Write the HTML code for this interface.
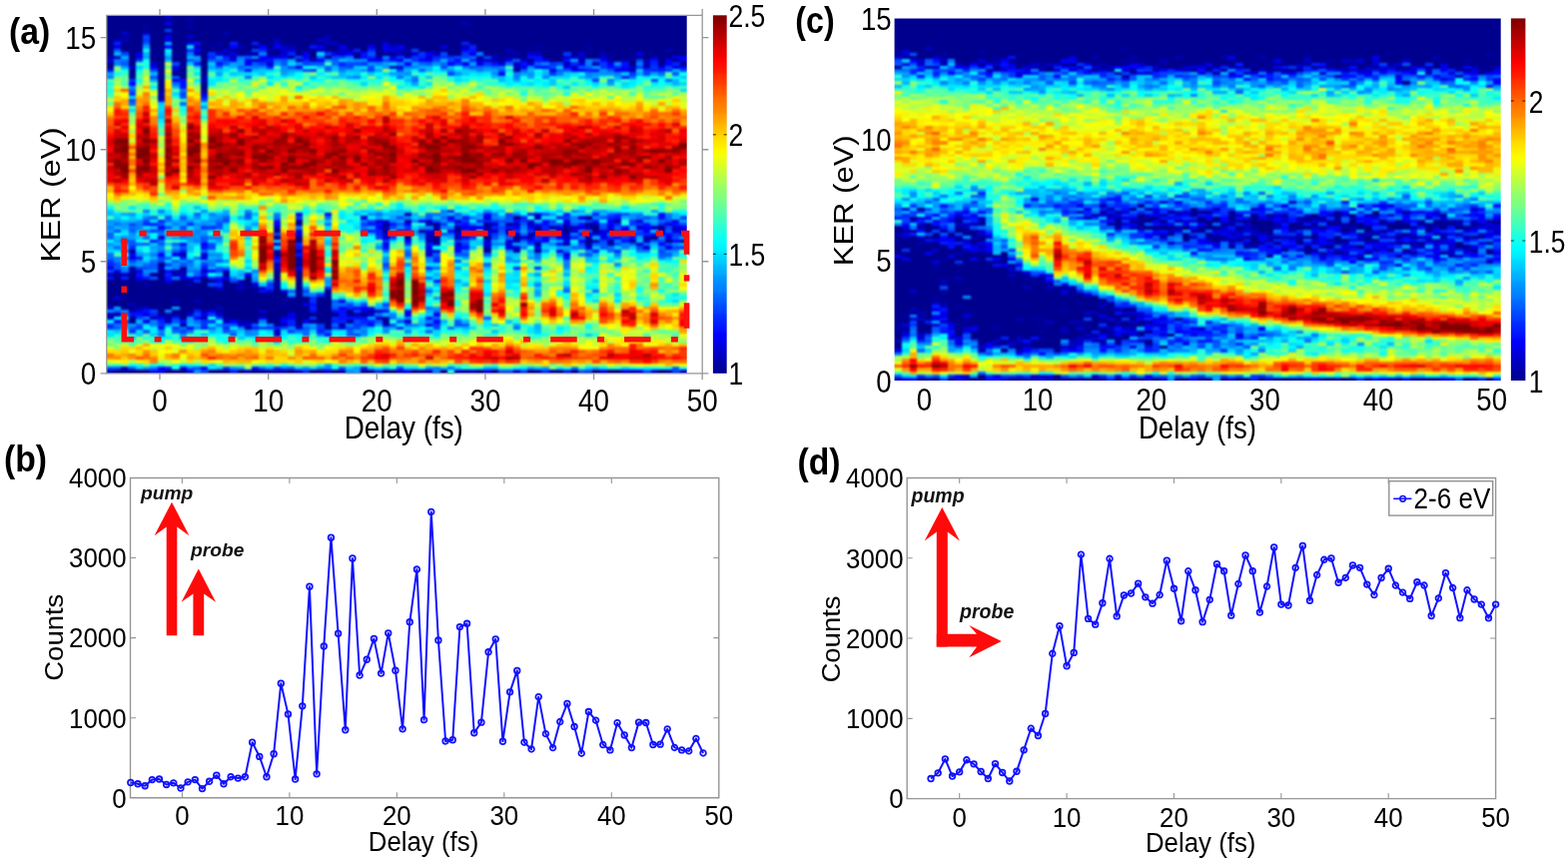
<!DOCTYPE html>
<html lang="en"><head><meta charset="utf-8"><title>KER versus delay</title>
<style>html,body{margin:0;padding:0;background:#fff;overflow:hidden}svg{display:block}text{font-family:'Liberation Sans', sans-serif}</style>
</head><body>
<svg width="1570" height="863" viewBox="0 0 1570 863" role="img" aria-label="KER versus pump-probe delay">
<rect width="1570" height="863" fill="#fff"/>
<defs><filter id="soft" x="-2%" y="-2%" width="104%" height="104%" color-interpolation-filters="sRGB"><feGaussianBlur stdDeviation="0.9 0.8"/><feComponentTransfer><feFuncA type="linear" slope="200"/></feComponentTransfer></filter></defs>
<clipPath id="hc1"><rect x="106.8" y="15.3" width="580.9" height="358.5"/></clipPath>
<g clip-path="url(#hc1)"><g filter="url(#soft)">
<g transform="translate(110.43,15.3) scale(7.2613,3.3505)" shape-rendering="crispEdges" fill="none" stroke-width="1.03">
<rect x="-0.5" y="0" width="80" height="107" fill="#00008f" stroke="none"/>
<path stroke="#00008f" d="M0 0v12M0 14v2M0 79v8M1 0v7M1 78v6M1 85v2M1 106v1M2 0v5M2 6v1M2 8v3M2 79v9M2 106v1M3 0v15M3 16v3M3 70v1M3 75v1M3 77v9M3 87v1M3 90v2M3 106v1M4 0v11M4 80v7M4 106v1M5 0v3M5 4v1M5 79v1M5 81v6M5 106v1M6 0v14M6 79v8M7 0v23M7 24v1M7 74v1M7 76v14M8 3v1M8 5v1M8 80v8M8 106v1M9 0v14M9 17v1M9 80v5M9 86v1M9 88v1M9 106v1M10 0v19M10 79v12M10 92v1M10 106v1M11 0v1M11 2v1M11 4v2M11 7v1M11 79v1M11 81v8M12 0v8M12 80v5M12 86v1M13 0v18M13 20v3M13 78v10M14 0v9M14 10v1M14 79v1M14 81v7M14 106v1M15 0v8M15 9v2M15 82v5M15 88v1M15 106v1M16 0v5M16 6v4M16 77v1M16 79v11M16 106v1M17 0v8M17 10v1M17 80v11M18 0v9M18 10v2M18 82v9M18 106v1M19 0v11M19 78v13M19 93v1M20 0v8M20 9v1M20 81v1M20 83v8M20 106v1M21 0v9M21 83v5M21 89v1M22 0v10M22 11v1M22 83v9M23 0v7M23 10v2M23 64v1M23 66v1M23 71v1M23 76v4M23 81v11M24 0v9M24 83v1M24 85v1M24 87v3M25 0v9M25 12v1M25 85v2M25 88v1M25 106v1M26 0v12M26 61v2M26 66v2M26 70v1M26 74v1M26 76v17M27 0v11M27 84v2M27 87v3M28 0v9M28 10v3M28 89v1M28 106v1M29 0v7M29 8v1M29 84v8M29 106v1M30 0v6M30 9v1M30 12v1M30 82v1M30 84v10M31 0v8M31 9v2M31 89v1M31 106v1M32 0v9M32 92v1M33 0v10M33 88v1M34 0v10M34 11v1M35 0v11M35 89v1M35 106v1M36 0v9M36 88v1M37 0v12M38 0v8M38 11v1M38 62v1M38 64v1M38 91v1M38 106v1M39 0v9M39 11v1M39 106v1M40 0v9M41 0v10M41 11v1M41 66v1M42 0v10M42 106v1M43 0v11M43 64v1M44 0v11M45 0v11M45 62v1M45 64v1M45 66v2M46 0v9M46 10v1M46 106v1M47 0v12M48 0v12M48 64v1M49 0v2M49 3v5M50 0v9M51 0v11M51 106v1M52 0v12M52 62v1M52 66v1M52 70v1M53 0v12M53 106v1M54 0v12M55 0v10M55 11v1M55 64v1M56 0v11M56 12v1M56 16v1M56 60v1M56 66v1M57 0v13M58 0v11M58 13v1M58 106v1M59 0v9M59 10v1M59 64v2M59 68v1M59 70v1M60 0v13M61 0v14M62 0v14M62 106v1M63 0v11M63 64v1M64 0v12M64 106v1M65 0v11M66 0v9M66 10v3M66 62v1M66 67v1M67 0v13M67 63v2M67 106v1M68 0v11M69 0v12M69 13v1M69 106v1M70 0v14M70 61v1M70 106v1M71 0v13M72 0v12M72 13v2M73 0v11M73 12v1M74 0v13M75 0v12M75 66v1M76 0v15M76 63v1M76 106v1M77 0v10M77 11v2M77 67v1M78 0v12M78 13v1M79 0v12M79 14v1M79 67v1"/>
<path stroke="#0000a2" d="M0 12v1M1 77v1M4 79v1M5 3v1M5 80v1M6 77v1M6 87v1M8 1v1M8 90v1M9 79v1M9 89v1M10 75v2M11 3v1M11 80v1M12 87v1M14 9v1M16 90v1M19 91v1M20 11v1M20 82v1M20 91v1M21 106v1M23 80v1M23 92v1M24 84v1M24 86v1M25 87v1M26 72v2M27 90v1M28 91v1M30 7v1M30 10v1M30 83v1M33 89v1M33 91v1M34 12v1M36 106v1M41 10v1M41 59v1M41 61v1M44 62v1M44 67v1M48 63v1M51 12v1M53 13v1M54 12v2M55 62v1M56 70v1M58 65v1M59 9v1M59 63v1M63 63v1M63 68v1M65 13v1M66 9v1M66 60v1M66 68v1M69 64v1M69 68v1M72 12v1M72 67v1M79 65v1"/>
<path stroke="#0000b4" d="M0 77v1M0 89v1M1 12v1M1 89v1M3 86v1M3 88v1M4 87v1M6 90v1M7 23v1M8 89v1M9 76v2M9 85v1M10 71v1M11 1v1M12 9v1M12 11v1M12 85v1M13 18v2M13 88v1M13 90v1M15 8v1M16 5v1M16 11v1M18 9v1M18 79v2M18 91v1M19 11v1M22 10v1M22 106v1M23 70v1M23 74v1M23 94v1M23 106v1M24 92v1M24 106v1M25 9v1M25 84v1M26 13v1M30 6v1M32 106v1M33 10v1M34 89v1M37 12v1M38 63v1M38 65v1M38 90v1M39 15v1M40 11v1M44 65v1M44 106v1M45 11v1M45 63v1M45 68v1M48 66v1M48 68v1M49 2v1M49 9v1M49 106v1M52 63v1M52 69v1M53 64v1M55 12v1M56 11v1M56 14v1M56 62v1M58 62v1M59 60v1M59 106v1M61 63v1M62 65v1M63 14v1M63 65v1M66 63v1M66 66v1M67 14v1M67 62v1M67 67v1M68 11v1M69 12v1M69 67v1M71 13v1M72 16v1M74 13v2M74 66v1M75 12v1M77 10v1M77 106v1"/>
<path stroke="#0000c6" d="M0 90v1M0 106v1M1 7v1M2 7v1M2 77v1M2 105v1M3 15v1M3 76v1M4 76v1M5 5v1M6 14v1M7 75v1M8 0v1M8 91v1M9 16v1M10 77v1M11 6v1M13 76v1M15 87v1M16 91v1M17 12v1M18 81v1M18 92v1M20 13v1M21 81v1M23 7v2M23 63v1M23 68v1M24 9v1M24 11v1M26 106v1M28 13v1M29 10v1M30 8v1M31 8v1M32 10v2M37 88v1M37 90v1M38 92v1M39 9v1M40 10v1M42 11v1M43 106v1M44 12v1M44 66v1M44 71v1M45 65v1M48 106v1M49 65v1M51 13v1M52 13v1M53 62v1M55 10v1M56 65v1M56 67v1M57 13v1M58 66v1M59 11v1M61 106v1M62 64v1M63 62v1M63 66v1M64 15v1M64 63v1M65 12v1M68 12v1M72 15v1M72 106v1M73 68v1M74 15v1M74 67v1M75 63v1M76 64v1M78 64v1"/>
<path stroke="#0000d8" d="M0 87v1M1 76v1M2 5v1M3 72v1M4 11v1M5 87v1M7 66v1M8 7v1M9 15v1M10 78v1M10 105v1M11 89v1M13 23v1M13 71v2M15 11v1M15 89v1M16 10v1M16 76v1M17 11v1M19 106v1M20 80v1M21 88v1M22 14v1M22 82v1M23 75v1M23 95v1M24 10v1M24 82v1M24 90v1M25 10v1M26 64v1M27 86v1M29 7v1M32 85v1M35 60v1M36 89v1M37 61v1M38 8v1M38 66v1M40 15v1M40 106v1M41 12v1M41 91v1M44 61v1M44 70v1M45 70v1M46 9v1M48 61v1M48 65v1M50 106v1M52 60v1M52 64v1M52 67v1M53 12v1M54 14v1M55 67v3M56 15v1M56 69v1M56 106v1M57 66v1M58 11v1M58 14v1M61 16v1M61 65v1M62 63v1M63 12v1M64 12v1M64 64v1M65 11v1M66 65v1M66 69v1M67 65v1M68 64v1M73 61v1M73 63v1M74 69v1M75 106v1M77 62v1M78 15v1M78 63v1M79 106v1"/>
<path stroke="#0000eb" d="M0 13v1M0 75v1M1 9v1M1 84v1M4 12v1M4 88v1M5 89v1M5 91v1M6 15v1M7 25v1M7 105v1M8 6v1M9 19v1M9 71v1M11 8v1M12 78v1M13 89v1M13 105v1M14 88v1M15 79v1M15 81v1M16 78v1M17 13v1M19 14v1M19 77v1M19 92v1M21 13v1M21 90v1M22 12v1M25 89v2M26 15v1M26 59v1M26 65v1M26 93v1M27 11v1M27 91v1M29 9v1M30 59v1M30 106v1M31 11v1M32 9v1M32 93v1M35 88v1M36 9v1M36 13v1M38 9v2M38 61v1M38 68v1M39 10v1M39 12v1M40 9v1M40 13v1M40 64v1M41 88v2M43 61v1M44 64v1M44 69v1M44 92v1M45 89v1M47 60v1M47 64v1M49 14v1M50 11v1M50 63v1M51 14v1M52 68v1M55 13v1M57 15v1M58 61v1M59 59v1M59 69v1M62 70v1M63 61v1M63 67v1M63 71v1M65 14v1M65 60v1M65 63v1M68 65v2M68 106v1M69 63v1M70 16v1M71 16v1M71 106v1M73 11v1M76 15v1M77 66v1M77 69v1M78 61v1M79 13v1M79 63v1"/>
<path stroke="#0000fd" d="M3 20v1M3 71v1M4 78v1M7 63v1M7 71v1M7 90v1M7 106v1M8 2v1M8 76v1M8 79v1M10 68v1M11 78v1M11 93v1M11 106v1M12 10v1M12 90v1M13 68v1M14 76v1M17 9v1M17 91v1M19 13v1M21 9v1M21 12v1M23 9v1M23 12v1M23 62v1M23 72v1M24 12v1M24 91v1M26 75v1M27 12v1M29 13v1M32 87v1M33 11v1M34 87v1M35 87v1M36 92v1M37 13v1M37 63v1M41 14v1M41 62v1M41 67v1M41 106v1M43 13v1M44 11v1M44 13v1M45 91v1M47 14v1M48 13v1M48 69v2M49 10v1M49 63v1M51 63v1M52 65v1M52 106v1M54 17v1M56 63v1M58 63v1M60 13v1M60 15v1M60 61v1M60 66v2M62 66v1M63 15v1M64 16v1M65 16v1M65 67v1M68 13v1M69 14v1M69 61v2M71 15v1M71 63v2M73 106v1M74 63v2M76 59v1M76 65v1M76 68v1M77 13v2M78 12v1M78 67v1M79 12v1M79 15v1M79 64v1"/>
<path stroke="#0010ff" d="M0 16v1M0 78v1M1 91v1M3 89v1M4 72v1M4 77v1M4 89v1M5 78v1M5 88v1M6 62v1M6 67v1M6 106v1M7 93v1M8 9v1M8 78v1M10 19v3M10 70v1M10 91v1M12 8v1M13 24v1M13 69v1M13 75v1M13 77v1M15 14v1M15 78v1M19 16v1M20 105v1M21 82v1M22 13v1M23 61v1M26 69v1M26 71v1M28 9v1M28 86v1M28 88v1M30 95v1M31 88v1M32 88v3M33 90v1M34 90v1M35 11v2M35 90v1M36 62v1M36 64v1M36 87v1M37 62v1M38 69v1M38 88v1M39 13v1M39 62v1M41 65v1M44 68v1M44 90v1M45 79v1M49 62v1M49 66v1M49 69v1M50 10v1M50 64v1M52 59v1M53 14v1M55 63v1M55 65v1M56 61v1M57 14v1M58 12v1M58 67v1M59 12v2M59 15v1M59 62v1M59 67v1M60 62v1M60 64v1M62 68v1M63 13v1M63 72v1M65 62v1M65 65v1M67 16v1M67 61v1M67 70v1M69 15v1M70 60v1M70 66v1M71 14v1M71 18v1M71 67v1M72 66v1M74 62v1M75 13v1M75 65v1M76 60v1M77 65v1M78 62v1"/>
<path stroke="#0022ff" d="M0 74v1M0 92v1M1 8v1M2 78v1M3 69v1M5 62v1M6 89v1M7 61v1M7 91v1M8 77v1M8 105v1M9 90v1M10 72v1M11 10v1M11 62v1M12 14v1M12 88v1M13 93v1M14 12v1M14 78v1M16 12v1M16 93v1M17 8v1M17 106v1M20 8v1M20 93v1M21 10v1M22 15v1M23 73v1M23 93v1M25 11v1M25 91v2M26 68v1M27 13v1M28 84v1M28 87v1M29 94v1M30 81v1M31 90v2M32 14v1M32 91v1M33 87v1M34 10v1M35 91v1M35 105v1M36 10v1M36 12v1M36 91v1M37 64v2M40 93v1M41 64v1M43 12v1M44 75v1M45 12v1M45 73v1M48 62v1M49 8v1M49 60v1M50 9v1M50 13v1M50 65v1M51 61v1M52 61v1M53 63v1M56 75v1M57 60v1M58 59v1M59 75v1M60 63v1M63 59v1M63 106v1M64 14v1M64 66v1M66 16v1M67 59v1M69 60v1M69 66v1M70 15v1M70 62v1M70 70v1M74 65v1M75 14v1M75 16v1M76 16v1M76 62v1M78 14v1"/>
<path stroke="#0035ff" d="M0 73v1M0 93v1M3 19v1M3 23v1M3 94v1M4 13v1M4 93v1M5 7v1M6 64v1M7 92v1M9 93v1M12 79v1M13 63v1M13 74v1M13 91v2M14 11v1M14 63v1M14 89v1M14 91v1M15 80v1M15 90v1M16 13v1M16 105v1M21 14v1M21 93v1M22 80v2M22 93v1M23 105v1M26 60v1M27 106v1M28 16v1M28 85v1M28 90v1M29 83v1M29 92v2M30 11v1M31 93v1M34 92v1M35 14v1M35 62v1M36 61v1M37 66v1M37 106v1M38 67v1M39 66v1M40 12v1M41 63v1M41 68v1M42 12v2M43 11v1M45 72v1M45 92v1M46 12v1M46 62v1M47 12v1M47 58v1M47 61v1M48 14v1M48 67v1M49 11v1M49 61v1M49 64v1M49 68v1M50 66v1M52 14v1M53 61v1M53 65v1M56 64v1M57 61v1M58 64v1M59 66v1M60 106v1M61 14v1M61 17v1M62 60v1M63 11v1M63 60v1M67 19v1M68 14v2M70 59v1M70 64v1M71 66v1M72 17v1M72 61v2M72 65v1M73 15v1M73 62v1M73 65v1M74 16v1M75 15v1M77 16v1M78 65v1"/>
<path stroke="#0047ff" d="M0 76v1M1 64v1M1 74v1M2 11v1M3 25v1M3 62v1M3 73v1M4 75v1M4 90v1M5 6v1M5 61v1M5 75v1M6 16v1M6 18v1M6 88v1M7 72v2M8 4v1M8 74v1M9 14v1M10 23v1M10 63v1M10 94v1M12 89v1M12 105v1M13 25v1M13 67v1M13 106v1M14 68v2M14 80v1M15 62v1M15 76v1M16 61v1M17 79v1M20 10v1M23 65v1M24 93v1M25 15v1M25 94v1M26 12v1M27 14v1M27 16v1M27 82v1M31 12v1M32 12v1M33 14v2M33 86v1M33 93v1M34 14v1M34 88v1M34 91v1M34 93v1M34 95v1M35 64v1M35 86v1M35 92v1M36 15v2M38 13v1M38 74v1M38 86v1M39 63v1M39 65v1M39 92v1M40 16v1M40 105v1M42 10v1M45 13v1M45 61v1M45 93v1M46 11v1M46 15v1M46 65v1M47 13v1M47 17v1M48 12v1M48 92v1M49 12v1M50 15v1M52 12v1M53 66v1M54 61v1M54 63v1M55 59v2M57 106v1M58 68v1M60 59v1M61 15v1M61 61v1M62 14v1M65 68v1M66 61v1M66 106v1M68 63v1M68 67v1M70 68v1M71 59v1M71 65v1M73 13v1M73 64v1M73 69v1M74 17v1M75 19v1M76 67v1M76 70v1M77 15v1M77 61v1M77 63v1M77 68v1M78 66v1M78 69v1M78 106v1M79 16v1M79 60v1M79 62v1M79 69v1"/>
<path stroke="#0059ff" d="M0 65v1M0 105v1M1 10v1M1 75v1M1 88v1M1 93v1M1 105v1M2 14v1M2 67v1M2 91v1M3 22v1M3 64v1M3 67v2M3 93v1M3 105v1M4 68v1M4 92v1M5 8v1M5 68v1M5 94v1M6 74v2M6 78v1M7 62v1M7 64v1M7 68v1M8 60v1M8 63v1M8 72v1M9 18v1M9 68v1M9 70v1M9 73v1M9 91v1M10 24v1M10 60v1M10 65v1M10 69v1M10 74v1M11 13v1M11 73v1M12 59v1M12 77v1M13 66v1M14 13v1M15 13v1M15 63v1M15 73v1M15 75v1M16 14v1M16 60v1M16 92v1M16 94v1M17 92v1M17 95v1M18 15v1M19 12v1M19 59v2M20 14v1M20 92v1M24 13v2M25 82v1M25 105v1M27 93v1M28 14v1M29 12v1M29 14v1M30 15v1M30 94v1M31 13v1M31 85v1M31 87v1M32 15v1M32 105v1M33 94v2M36 11v1M37 91v1M40 60v1M40 62v1M40 91v1M41 71v1M43 16v1M44 14v1M44 60v1M44 82v1M45 71v1M48 59v1M48 71v1M48 73v1M48 91v1M49 67v1M49 71v1M49 92v1M51 65v1M52 71v1M52 90v1M54 16v1M54 64v1M54 106v1M55 61v1M55 66v1M55 106v1M56 13v1M57 16v1M57 62v1M59 14v1M61 62v1M61 66v1M62 16v1M62 62v1M63 16v1M63 82v1M64 62v1M65 15v1M65 106v1M66 15v1M66 64v1M66 71v1M67 13v1M67 68v1M68 60v1M68 62v1M68 68v2M69 16v1M69 59v1M70 63v1M72 68v1M74 60v1M74 106v1M75 67v1M76 71v1M77 64v1M77 71v1M78 17v1M78 105v1"/>
<path stroke="#006cff" d="M0 66v1M0 71v2M1 62v1M1 69v1M2 13v1M2 89v1M3 26v1M3 63v1M5 64v1M5 66v1M5 74v1M5 77v1M6 60v1M6 73v1M7 67v1M7 70v1M7 95v1M9 20v1M9 94v1M10 26v1M10 93v1M11 65v1M11 105v1M12 72v1M12 76v1M12 91v1M13 70v1M14 93v1M15 15v1M15 61v1M15 92v1M16 75v1M17 78v1M18 12v1M19 18v1M19 64v1M21 105v1M23 13v1M23 60v1M24 105v1M26 63v1M27 83v1M27 94v2M30 16v1M30 60v1M30 62v1M31 14v1M31 86v1M31 92v1M32 86v1M35 63v1M37 59v1M37 89v1M38 70v1M38 75v1M40 18v1M41 70v1M41 92v1M42 19v1M43 14v1M43 65v1M44 59v1M44 78v1M44 87v1M44 94v1M45 59v1M45 75v1M45 88v1M45 90v1M46 14v1M46 60v1M47 65v1M47 93v1M47 105v1M50 12v1M50 62v1M51 15v1M52 74v1M53 15v1M53 59v1M54 62v1M54 65v1M55 14v1M56 93v1M57 65v1M57 67v1M59 71v1M60 65v1M63 70v1M64 69v1M65 66v1M65 69v1M67 82v1M69 69v2M72 18v1M73 60v1M74 68v1M76 17v1M76 61v1M76 69v1M77 19v1M77 60v1"/>
<path stroke="#007eff" d="M0 18v1M0 63v1M1 13v2M1 72v2M1 92v1M2 70v1M2 72v1M2 75v2M2 88v1M2 92v1M3 74v1M4 62v2M5 58v1M5 60v1M5 90v1M6 71v1M6 91v2M6 105v1M7 58v1M7 65v1M7 94v1M8 61v1M8 92v1M9 62v1M9 75v1M9 78v1M10 22v1M10 64v1M10 66v1M11 11v1M11 74v1M11 76v1M11 94v1M12 13v1M12 64v1M12 67v1M12 93v1M14 59v1M14 66v1M14 73v2M15 66v1M17 94v1M18 93v1M19 94v1M20 15v1M20 76v1M20 79v1M21 11v1M21 91v1M22 92v1M23 59v1M25 93v1M26 94v1M28 83v1M28 93v1M29 95v1M30 105v1M32 16v1M33 12v1M33 92v1M34 18v1M35 61v1M35 94v1M37 14v1M38 12v1M38 87v1M39 61v1M39 89v2M40 14v1M41 15v1M41 60v1M41 90v1M42 15v1M42 18v1M42 61v1M42 92v1M44 63v1M44 72v1M44 91v1M45 105v2M46 58v1M46 63v1M47 63v1M48 60v1M49 15v1M49 70v1M50 60v1M51 11v1M51 16v1M52 15v1M53 60v1M53 68v1M54 15v1M54 68v1M56 17v2M56 59v1M57 63v1M57 69v1M59 72v1M59 80v1M60 14v1M60 18v1M61 68v1M62 17v1M63 73v2M64 60v2M64 65v1M64 105v1M65 64v1M66 13v2M66 17v1M67 60v1M69 19v1M69 65v1M70 17v1M70 67v1M70 71v1M71 68v2M72 64v1M73 14v1M73 59v1M73 70v1M74 70v1M75 60v1M76 66v1M76 72v1M77 59v1"/>
<path stroke="#0090ff" d="M0 61v1M0 68v1M0 88v1M2 62v1M2 66v1M2 68v1M3 21v1M3 59v1M3 65v1M4 61v1M4 71v1M4 73v1M5 76v1M6 76v1M7 69v1M8 12v1M8 88v1M9 74v1M10 61v1M10 73v1M10 95v2M11 61v1M11 66v1M11 75v1M11 90v1M12 60v1M12 62v1M12 65v2M12 106v1M13 27v1M13 58v1M13 62v1M13 65v1M13 73v1M14 61v1M14 71v1M15 12v1M15 60v1M15 71v1M16 73v1M17 105v1M18 13v2M18 16v1M19 15v1M19 58v1M19 95v1M20 12v1M20 62v1M20 94v2M21 15v1M22 79v1M23 14v1M24 15v2M26 14v1M27 81v1M27 92v1M27 105v1M29 105v1M30 13v1M30 79v1M33 18v1M33 106v1M34 13v1M35 13v1M35 16v1M35 65v1M35 93v1M35 95v1M36 14v1M36 59v1M37 69v1M38 15v1M38 72v2M38 93v2M40 63v1M41 13v1M41 17v1M41 74v1M41 94v1M42 64v1M43 63v1M43 66v1M44 73v1M44 105v1M45 14v1M45 84v1M46 59v1M46 61v1M47 16v1M48 17v1M48 75v1M51 59v1M52 58v1M53 17v1M54 60v1M55 70v1M55 72v1M56 73v1M58 15v1M58 17v1M60 70v1M61 59v1M62 71v1M63 75v1M63 81v1M64 58v1M65 61v1M65 71v1M66 18v1M66 70v1M67 17v1M68 16v2M69 17v1M70 14v1M70 65v1M70 74v1M72 59v2M75 62v1M77 70v1M78 68v1M78 70v1M79 66v1"/>
<path stroke="#00a2ff" d="M0 17v1M0 62v1M0 64v1M1 61v1M1 67v1M1 87v1M2 15v1M2 59v1M2 63v1M3 66v1M3 92v1M4 74v1M5 9v1M5 12v1M5 105v1M6 19v1M6 69v1M9 61v1M9 66v1M9 69v1M9 87v1M10 62v1M11 67v1M11 91v1M12 12v1M12 63v1M12 75v1M12 92v1M13 61v1M13 64v1M14 15v1M14 60v1M14 62v1M14 75v1M15 17v1M15 67v1M15 72v1M16 59v1M17 14v1M18 77v1M18 105v1M19 63v1M20 78v1M22 105v1M24 17v1M25 13v1M25 16v1M25 83v1M26 16v1M28 92v1M30 65v1M30 80v1M30 104v1M33 13v1M34 86v1M34 94v1M34 105v2M36 63v1M36 90v1M37 16v1M37 60v1M37 87v1M37 92v1M38 14v1M39 17v1M39 60v1M39 93v1M40 17v1M40 61v1M42 14v1M42 20v1M42 65v1M43 92v1M44 76v1M45 87v1M47 66v1M48 79v1M49 72v1M50 14v1M51 60v1M51 62v1M52 16v1M53 16v1M53 67v1M54 66v1M55 73v1M56 19v1M56 68v1M56 92v1M57 17v1M57 64v1M57 68v1M58 18v1M58 70v1M58 72v1M58 105v1M59 77v1M59 82v2M60 105v1M62 67v1M62 69v1M63 69v1M64 13v1M67 15v1M67 18v1M67 58v1M67 66v1M68 58v1M69 20v1M70 18v1M72 63v1M73 17v1M73 66v1M74 61v1M75 17v1M75 58v1M79 61v1"/>
<path stroke="#00b5ff" d="M0 59v1M0 69v1M1 11v1M1 63v1M1 66v1M2 12v1M2 61v1M2 93v1M3 61v1M4 64v1M4 91v1M5 11v1M5 65v1M5 71v1M6 17v1M6 63v1M6 70v1M6 72v1M7 30v1M8 8v1M8 13v1M8 75v1M9 21v1M9 63v2M9 92v1M11 12v1M11 64v1M11 69v1M11 92v1M13 95v1M14 72v1M14 94v1M15 59v1M16 58v1M17 15v1M18 60v1M20 16v1M20 59v1M20 77v1M23 96v1M30 78v1M31 15v1M32 17v1M33 16v1M34 16v1M34 59v1M36 65v1M38 59v1M38 89v1M39 59v1M40 58v2M41 16v1M41 19v1M41 69v1M41 72v1M42 59v1M43 15v1M43 60v1M43 91v1M44 15v2M44 88v1M45 60v1M45 77v1M45 80v1M46 13v1M46 16v1M46 91v1M49 13v1M49 80v1M49 91v1M49 93v1M50 16v1M50 69v1M52 105v1M53 105v1M54 19v1M58 16v1M59 73v1M59 92v2M60 17v1M60 68v1M61 64v1M63 77v1M65 18v1M65 58v1M66 72v1M67 69v1M67 71v1M67 105v1M68 59v1M71 60v1M73 67v1M75 61v1M75 68v1M77 72v1M78 16v1M78 19v2M78 59v2M78 71v1M79 68v1"/>
<path stroke="#00c7ff" d="M0 58v1M1 60v1M1 68v1M1 94v1M2 69v1M2 74v1M3 60v1M3 96v1M4 15v1M4 66v1M4 70v1M4 95v1M4 105v1M5 73v1M6 68v1M6 95v1M7 26v1M7 29v1M7 59v1M8 62v1M8 65v2M8 68v1M8 70v1M10 59v1M11 14v1M11 60v1M11 68v1M11 70v1M11 77v1M11 96v1M12 57v1M12 61v1M12 68v1M12 74v1M14 14v1M14 70v1M15 16v1M15 77v1M15 93v1M15 105v1M16 62v1M16 64v1M17 17v1M18 76v1M18 78v1M18 94v1M18 96v1M19 75v1M21 16v2M21 80v1M21 92v1M22 16v1M23 67v1M23 69v1M23 97v1M25 17v1M26 105v1M28 18v1M29 15v1M30 61v1M30 64v1M30 67v2M31 16v1M31 18v1M32 13v1M32 18v1M32 84v1M33 85v1M33 105v1M34 15v1M34 17v1M35 58v1M36 17v1M36 93v1M36 105v1M37 58v1M37 68v1M37 86v1M38 76v1M38 105v1M39 14v1M39 58v1M41 58v1M41 93v1M42 60v1M44 18v1M44 81v1M44 83v1M44 89v1M46 66v1M46 105v1M47 15v1M47 59v1M49 16v2M49 59v1M50 67v1M51 67v2M52 75v1M52 79v1M53 18v1M53 69v1M53 92v1M53 94v1M54 18v1M54 58v1M54 67v1M55 71v1M55 91v1M56 71v1M56 79v1M58 71v1M59 61v1M59 94v1M59 105v1M60 16v1M60 69v1M61 19v2M61 67v1M62 15v1M62 58v1M63 17v1M63 21v1M64 68v1M66 59v1M66 73v1M66 95v1M67 73v1M70 69v1M70 72v1M71 17v1M72 69v1M73 16v1M75 64v1M79 18v1"/>
<path stroke="#00d9ff" d="M0 70v1M0 95v1M1 59v1M2 64v1M2 73v1M3 24v1M3 28v1M4 65v1M4 94v1M5 59v1M5 63v1M5 92v1M7 27v2M8 11v1M8 59v1M8 71v1M8 73v1M9 23v1M11 9v1M11 63v1M11 72v1M12 15v1M12 73v1M13 59v1M14 16v1M14 64v1M14 67v1M14 104v1M15 68v1M15 94v1M16 15v2M16 63v1M17 77v1M18 17v1M19 17v1M19 62v1M19 66v1M19 73v1M20 61v1M22 18v1M22 94v1M24 94v1M25 14v1M28 94v1M28 105v1M29 11v1M30 63v1M30 76v1M33 17v1M33 61v1M34 63v1M35 15v1M35 20v1M35 85v1M36 58v1M37 15v1M37 18v1M38 17v1M38 60v1M38 71v1M39 67v1M40 90v1M41 18v1M41 105v1M42 63v1M42 93v1M42 105v1M43 67v1M43 90v1M44 74v1M44 93v1M45 74v1M45 78v1M45 82v1M45 94v2M46 67v1M47 62v1M48 16v1M48 19v1M48 90v1M48 93v1M48 105v1M49 74v1M50 58v1M50 68v1M50 93v1M51 17v1M52 83v1M53 58v1M55 16v1M55 79v1M56 72v1M56 76v2M58 20v1M59 81v1M60 60v1M61 60v1M61 69v1M62 18v1M63 18v1M63 76v1M63 80v1M64 17v1M64 59v1M65 59v1M66 83v1M66 105v1M67 20v1M67 72v1M67 79v1M67 85v1M69 58v1M69 73v1M70 19v1M70 83v1M70 85v1M71 20v1M71 105v1M75 69v1M76 18v1M78 85v1M79 20v1M79 22v1"/>
<path stroke="#00ebff" d="M0 91v1M0 94v1M1 70v1M1 90v1M2 65v1M3 57v1M4 60v1M4 69v1M5 72v1M6 21v1M6 61v1M6 66v1M6 93v2M7 31v1M8 58v1M8 64v1M8 96v1M9 60v1M10 104v1M12 17v1M12 19v1M13 26v1M13 60v1M14 19v2M14 92v1M14 105v1M15 18v2M15 74v1M17 76v1M17 93v1M18 95v1M19 61v1M20 17v1M20 63v1M22 20v1M23 16v1M24 18v1M24 81v1M24 95v1M26 21v1M29 17v1M29 58v1M30 18v1M31 94v1M32 59v2M32 94v2M33 96v1M34 58v1M34 62v1M35 18v1M35 59v1M35 67v1M36 60v1M36 94v1M37 105v1M38 78v1M39 64v1M40 21v1M40 56v2M41 20v1M41 76v1M42 16v1M43 21v1M43 94v1M44 20v1M44 77v1M44 79v1M45 16v1M45 76v1M46 57v1M46 92v1M48 18v1M48 57v1M48 72v1M48 76v1M48 80v1M49 19v1M49 77v1M49 94v1M50 17v1M50 61v1M52 17v1M52 72v1M52 76v1M52 91v2M55 18v3M55 77v2M55 80v2M56 58v1M56 78v1M56 81v1M57 20v1M57 105v1M58 77v1M58 93v2M59 17v1M59 19v1M59 79v1M60 20v1M60 58v1M61 18v1M62 72v1M62 93v1M62 105v1M63 79v1M64 20v1M64 70v1M66 19v1M66 75v1M66 81v1M67 81v1M68 105v1M69 72v1M70 58v1M71 21v1M71 57v1M72 19v2M73 71v2M74 18v1M74 71v1M75 20v1M77 20v1M77 73v1M78 83v1M79 59v1"/>
<path stroke="#00feff" d="M0 57v1M0 67v1M2 60v1M2 90v1M3 104v1M4 16v1M4 59v1M4 67v1M5 93v1M6 65v1M7 96v1M8 10v1M8 93v1M9 72v1M10 28v1M10 58v1M10 67v1M11 59v1M11 71v1M11 104v1M13 30v1M14 77v1M14 95v1M15 91v1M15 95v2M16 19v1M16 71v1M16 74v1M18 61v1M19 74v1M20 60v1M20 96v1M21 94v2M23 18v1M24 80v1M24 96v1M24 104v1M26 17v2M26 95v1M27 15v1M27 20v1M27 58v1M28 19v1M29 19v1M30 75v1M31 105v1M32 58v1M32 63v1M33 62v1M33 64v1M34 61v1M34 85v1M35 66v1M36 66v2M37 17v1M37 56v1M37 94v1M38 58v1M38 85v1M39 16v1M39 18v1M40 66v1M40 92v1M41 75v1M41 87v1M43 17v1M43 57v1M43 93v1M44 86v1M45 15v1M45 57v1M45 69v1M45 81v1M46 69v1M47 68v1M48 74v1M48 81v1M49 76v1M50 59v1M51 58v1M52 80v3M54 59v1M56 20v1M56 74v1M56 105v1M57 19v1M57 59v1M58 80v1M59 16v1M59 20v1M59 57v2M59 95v1M60 71v1M61 58v1M62 94v1M63 84v1M64 67v1M65 17v1M65 57v1M66 20v1M66 76v1M66 84v1M67 74v1M68 61v1M70 84v1M72 71v1M72 105v1M73 19v1M73 84v1M74 105v1M75 71v1M76 19v1M76 73v1M76 82v1M78 18v1M78 73v1M79 84v1"/>
<path stroke="#11ffee" d="M0 20v1M0 22v1M1 17v1M1 65v1M2 16v1M4 19v1M4 104v1M5 10v1M5 13v1M5 15v1M5 69v2M5 96v1M6 58v1M6 104v1M7 97v1M7 104v1M8 56v1M8 95v1M9 105v1M10 27v1M10 57v1M11 97v1M12 69v2M12 95v1M12 104v1M13 57v1M14 90v1M15 58v1M15 64v1M15 70v1M16 72v1M16 96v2M17 60v1M18 19v1M18 58v1M19 68v1M19 96v1M22 17v1M22 95v1M25 18v1M25 95v1M26 96v1M28 15v1M30 66v1M30 71v1M31 95v1M32 62v1M32 96v1M33 19v1M33 59v2M34 19v1M36 19v1M36 95v1M39 19v1M39 88v1M39 105v1M40 19v1M40 65v1M41 96v1M42 21v1M42 90v1M43 62v1M44 85v1M45 85v1M46 94v1M47 19v1M47 106v1M48 15v1M48 77v2M48 89v1M49 18v1M49 57v1M49 79v1M50 18v1M51 18v1M51 105v1M52 18v1M52 77v1M52 93v1M53 56v2M54 20v1M54 69v1M54 93v1M55 74v2M56 80v1M56 82v1M57 18v1M57 23v1M57 92v1M58 69v1M59 18v1M59 78v1M60 19v1M60 21v1M60 95v1M62 59v1M62 61v1M62 82v2M63 23v1M63 83v1M63 93v1M66 80v1M66 92v2M67 21v1M67 76v1M67 80v1M67 95v1M68 70v1M70 78v1M70 81v1M71 58v1M71 62v1M72 21v1M72 58v1M73 18v1M73 58v1M73 81v2M74 21v1M74 72v1M75 18v1M75 105v1M76 20v1M77 84v2M77 105v1M78 58v1M79 17v1M79 58v1M79 71v1"/>
<path stroke="#23ffdc" d="M1 95v1M1 104v1M2 71v1M2 95v1M5 14v1M6 97v1M7 32v1M7 57v1M9 24v1M9 96v1M9 104v1M12 94v1M12 96v1M14 18v1M14 65v1M15 69v1M16 17v1M16 95v1M17 16v1M17 18v1M18 62v1M19 72v1M19 76v1M20 58v1M22 104v1M23 19v1M23 58v1M24 20v1M25 97v1M27 59v1M27 80v1M28 21v1M29 82v1M29 96v1M30 70v1M30 97v1M31 84v1M33 63v1M34 60v1M34 96v1M35 17v1M35 19v1M35 70v1M36 57v1M37 19v1M37 93v1M38 83v1M39 91v1M41 21v1M41 77v1M41 95v1M42 62v1M43 19v1M43 58v1M43 69v1M43 96v1M43 105v1M44 84v1M45 17v1M46 64v1M46 93v1M47 18v1M47 94v1M48 58v1M48 82v1M48 86v1M48 94v1M49 89v1M49 105v1M51 19v1M51 21v1M51 57v1M51 66v1M52 57v1M52 73v1M52 95v1M53 20v1M53 71v1M54 57v1M55 17v1M56 83v1M56 91v1M57 58v1M58 19v1M58 60v1M58 96v1M59 84v1M61 70v1M62 20v2M63 19v1M63 105v1M64 18v1M66 57v1M67 75v1M67 78v1M67 83v2M68 18v1M68 20v1M68 73v1M69 71v1M71 61v1M72 70v1M73 20v1M73 105v1M74 59v1M74 76v1M74 86v1M75 21v1M75 59v1M76 21v1M76 56v3M76 105v1M78 74v1M78 84v1M79 19v1M79 105v1"/>
<path stroke="#35ffca" d="M0 23v1M0 60v1M1 58v1M2 17v1M2 94v1M3 95v1M4 14v1M4 17v1M5 57v1M5 67v1M6 59v1M7 33v1M7 60v1M8 57v1M8 94v1M9 67v1M9 95v1M10 25v1M10 29v1M11 56v3M12 16v1M12 58v1M12 71v1M13 28v1M13 94v1M14 58v1M15 65v1M15 97v1M16 18v1M16 67v1M16 69v1M17 75v1M18 59v1M19 70v2M20 57v1M20 97v1M21 21v1M22 19v1M22 60v1M22 96v1M26 58v1M26 97v1M27 57v1M27 97v1M29 16v1M29 18v1M29 61v1M29 97v1M29 104v1M30 14v1M30 17v1M30 73v1M30 96v1M31 104v1M32 64v1M33 57v1M34 20v1M34 56v1M34 104v1M35 68v1M37 20v1M38 77v1M39 56v2M39 95v1M40 20v1M40 95v1M40 104v1M41 57v1M41 78v1M41 86v1M42 17v1M42 67v1M42 94v1M43 20v1M43 89v1M43 95v1M45 96v1M46 17v1M47 104v1M48 20v1M48 85v1M49 58v1M49 78v1M49 82v1M49 90v1M50 92v1M50 105v1M51 64v1M52 20v1M52 85v1M53 95v1M54 94v1M55 21v1M55 83v1M56 56v1M56 94v1M57 56v1M57 73v1M57 94v1M58 79v1M59 76v1M60 75v1M62 57v1M63 78v1M65 20v1M65 95v1M66 22v1M66 79v1M66 85v1M68 71v1M69 77v1M69 105v1M70 20v2M70 75v1M70 80v1M70 105v1M71 19v1M74 19v1M74 84v1M74 95v1M75 56v1M76 76v1M76 85v1M77 75v1M77 80v1M77 83v1M78 21v1M78 77v1M78 95v1"/>
<path stroke="#48ffb7" d="M0 21v1M0 96v1M0 104v1M1 71v1M1 96v1M2 20v1M3 27v1M3 97v1M4 18v1M4 57v1M5 56v1M6 20v1M6 96v1M7 35v1M8 15v1M8 67v1M9 59v1M9 97v1M10 97v1M11 16v1M11 95v1M13 104v1M15 104v1M16 57v1M17 61v1M18 18v1M18 57v1M19 19v2M19 57v1M19 67v1M20 18v1M21 96v1M22 58v1M23 15v1M23 17v1M23 57v1M25 96v1M25 104v1M26 19v1M26 22v1M27 17v2M28 58v1M28 95v2M29 20v1M29 57v1M30 20v1M30 58v1M30 69v1M31 19v2M31 83v1M34 64v1M35 55v1M35 74v1M36 20v1M38 18v2M38 79v1M39 68v1M39 94v1M40 67v1M40 94v1M41 22v1M42 58v1M42 66v1M42 95v1M43 18v1M43 68v1M44 17v1M44 56v2M44 95v2M45 83v1M46 68v1M47 92v1M49 84v1M49 95v1M49 104v1M50 19v1M51 92v1M52 19v1M52 78v1M53 19v1M53 104v1M54 92v1M54 105v1M55 15v1M55 92v1M55 105v1M57 21v2M57 93v1M58 21v1M58 56v1M58 74v1M58 92v1M58 95v1M59 21v2M59 74v1M59 96v1M60 57v1M60 72v1M60 93v2M61 94v1M62 73v1M63 20v1M63 22v1M63 90v1M63 94v1M64 22v1M64 71v1M65 19v1M65 105v1M66 77v1M67 56v1M67 77v1M69 18v1M69 24v1M70 82v1M71 71v1M72 23v1M72 57v1M72 73v1M73 73v2M74 22v1M74 57v2M74 73v1M74 85v1M75 70v1M76 75v1M76 78v1M77 18v1M77 74v1M77 76v1M78 81v1M79 21v1M79 72v1M79 83v1"/>
<path stroke="#5affa5" d="M0 19v1M1 97v1M2 96v1M3 29v1M3 58v1M3 98v1M4 20v1M4 56v1M4 97v1M8 69v1M9 22v1M12 20v1M12 56v1M13 29v1M14 17v1M14 21v1M16 66v1M16 70v1M18 97v1M19 22v1M19 65v1M20 75v1M20 98v1M21 104v1M24 57v1M24 59v1M25 81v1M28 20v1M28 82v1M29 56v1M30 57v1M31 17v1M31 96v1M32 19v1M32 66v1M32 69v2M32 83v1M33 21v1M33 58v1M33 97v1M33 104v1M35 21v1M35 69v1M35 75v1M35 97v1M37 67v1M38 57v1M38 81v2M40 89v1M42 57v1M42 68v1M42 91v1M44 58v1M44 80v1M46 18v1M46 70v1M47 67v1M47 91v1M47 95v1M48 83v1M48 88v1M48 104v1M49 73v1M50 56v1M50 91v1M51 94v1M52 22v1M52 87v1M52 89v1M53 70v1M55 76v1M55 93v1M56 21v1M56 57v1M56 90v1M57 57v1M57 70v1M60 23v1M60 56v1M60 81v1M61 71v1M62 19v1M62 56v1M62 92v1M62 95v1M63 58v1M63 86v1M63 92v1M63 96v1M64 19v1M64 93v1M65 21v1M65 70v1M66 58v1M66 78v1M66 94v1M67 57v1M67 92v1M67 94v1M68 21v1M68 57v1M68 83v1M69 57v1M69 82v1M70 57v1M70 73v1M71 70v1M73 57v1M73 83v1M73 85v1M74 23v1M74 79v1M75 22v1M75 24v1M76 22v1M76 24v1M76 74v1M76 79v3M76 86v1M76 94v1M77 17v1M77 56v1M77 81v1M78 23v1M78 72v1M78 75v1M78 86v1"/>
<path stroke="#6cff93" d="M0 24v1M0 26v1M0 98v1M1 56v1M2 18v2M2 57v2M2 97v1M2 104v1M4 58v1M5 95v1M6 24v1M6 57v1M7 34v1M7 53v1M8 18v1M8 104v1M9 58v1M9 65v1M10 56v1M13 54v1M13 56v1M13 98v1M15 20v2M16 65v1M17 20v1M18 20v2M18 56v1M18 63v1M19 23v1M19 69v1M20 19v1M20 22v1M20 104v1M21 18v1M21 56v1M22 57v1M22 97v1M23 56v1M23 98v1M24 58v1M25 58v1M27 21v1M27 61v1M27 96v1M29 59v1M29 62v1M30 56v1M31 57v1M32 23v1M33 20v1M33 84v1M35 104v1M36 69v1M37 73v1M38 21v1M38 95v1M39 20v1M39 69v1M40 23v1M40 96v1M41 73v1M41 79v1M41 81v1M41 104v1M43 56v1M43 59v1M44 21v1M46 90v1M47 21v1M47 56v1M48 56v1M49 20v1M49 75v1M50 22v1M50 57v1M50 70v1M51 20v1M51 56v1M52 84v1M52 86v1M52 94v1M53 93v1M55 57v1M55 94v1M56 22v1M56 84v1M56 96v1M57 25v1M57 71v1M58 75v1M58 78v1M59 23v1M59 56v1M59 85v1M59 91v1M60 24v1M60 78v1M60 80v1M61 23v1M61 95v1M61 104v1M62 22v1M62 80v1M63 85v1M64 21v1M64 57v1M65 77v1M65 94v1M66 82v1M66 104v1M68 56v1M69 22v1M69 81v1M69 94v1M70 95v1M71 74v1M73 77v1M73 80v1M74 24v1M74 56v1M74 78v1M74 81v1M74 83v1M75 72v1M77 21v1M77 86v1M77 94v1M78 76v1M78 78v2M79 55v1M79 57v1"/>
<path stroke="#7eff81" d="M0 56v1M1 15v2M1 18v1M2 55v2M3 55v1M5 104v1M6 56v1M7 48v1M7 55v1M9 26v1M10 31v1M10 55v1M10 98v1M11 17v2M12 18v1M13 31v1M14 24v1M14 96v1M15 57v1M16 20v2M17 59v1M17 97v1M18 22v1M18 75v1M18 104v1M19 97v1M21 55v1M22 55v1M22 78v1M23 104v1M24 60v1M24 79v1M24 97v1M25 98v1M27 19v1M27 22v1M27 60v1M28 17v1M28 98v1M30 19v1M30 21v1M32 20v2M32 61v1M32 68v1M32 104v1M33 68v1M34 21v2M34 57v1M34 97v1M35 57v1M35 72v1M35 84v1M35 96v1M36 21v1M36 56v1M36 68v1M36 71v1M36 104v1M37 21v1M37 70v1M38 80v1M38 84v1M38 104v1M39 104v1M40 22v1M40 55v1M40 68v2M42 104v1M43 23v1M44 19v1M45 18v2M45 86v1M46 19v1M46 56v1M46 89v1M46 96v1M48 84v1M48 95v2M49 83v1M50 94v1M51 69v1M51 93v1M52 23v1M52 104v1M53 76v1M54 21v1M55 23v1M55 82v1M56 88v1M57 95v1M57 104v1M58 58v1M58 82v3M59 89v1M60 22v1M61 21v1M61 80v1M61 92v1M63 95v1M64 56v1M64 72v1M64 95v1M65 23v1M66 21v1M66 74v1M66 96v1M67 87v1M68 94v1M69 21v1M69 80v1M70 79v1M71 56v1M73 22v1M73 56v1M73 76v1M73 79v1M74 20v1M74 80v1M75 82v1M75 94v1M77 22v1M77 58v1M77 77v1M78 22v1M78 57v1M78 80v1M78 94v1M79 70v1"/>
<path stroke="#91ff6e" d="M0 97v1M1 19v1M1 57v1M1 99v1M3 31v1M4 96v1M5 16v2M5 97v1M6 22v1M9 25v1M9 27v1M10 30v1M10 52v1M11 15v1M11 20v1M12 97v1M12 99v1M13 96v1M17 22v1M17 58v1M17 96v1M17 104v1M19 105v1M20 21v1M20 64v2M21 20v1M21 79v1M22 59v1M22 77v1M22 98v1M24 19v1M24 21v1M24 56v1M24 62v1M25 99v1M26 104v1M27 104v1M28 57v1M28 97v1M29 21v1M29 98v2M30 22v1M30 72v1M31 21v1M32 97v1M33 55v1M33 65v1M33 69v1M34 55v1M34 65v1M35 22v1M35 73v1M36 18v1M36 86v1M37 22v1M37 95v2M38 96v1M39 96v1M41 55v2M41 80v1M41 82v3M41 97v1M42 22v1M42 96v1M44 104v1M45 56v1M46 20v1M46 95v1M47 24v1M47 55v1M47 57v1M48 22v1M49 81v1M49 87v1M49 96v1M50 21v1M50 96v1M51 22v1M51 95v1M53 23v1M53 72v1M53 96v1M54 22v1M55 56v1M55 95v1M56 87v1M57 24v1M58 22v2M58 73v1M58 104v1M59 88v1M60 25v1M60 74v1M60 82v2M60 92v1M60 96v2M61 75v1M61 93v1M61 105v1M62 23v1M62 74v1M62 77v1M63 56v1M63 91v1M64 94v1M64 96v1M65 82v1M65 92v1M67 93v1M68 19v1M68 93v1M68 104v1M69 56v1M69 75v1M70 23v1M70 76v1M70 86v1M71 55v1M71 83v2M72 22v1M72 72v1M73 21v1M73 78v1M73 93v1M74 75v1M74 77v1M74 96v1M75 23v1M75 57v1M75 85v1M76 83v1M77 82v1M77 95v1M79 56v1M79 85v1M79 97v1"/>
<path stroke="#a3ff5c" d="M0 55v1M1 98v1M2 21v1M3 30v1M3 34v1M3 56v1M4 21v1M5 55v1M7 38v2M7 41v1M7 103v1M8 17v1M12 21v1M12 55v1M12 98v1M13 97v1M14 57v1M15 56v1M16 68v1M16 98v1M16 104v1M17 21v1M18 98v1M19 21v1M19 98v1M20 73v1M23 20v1M25 19v1M25 22v1M27 62v1M28 104v1M29 23v1M29 81v1M30 23v1M30 55v1M31 55v2M32 67v1M33 22v1M33 24v1M33 98v1M34 66v2M34 72v1M34 98v1M36 96v2M37 57v1M38 16v1M42 23v1M42 56v1M42 89v1M45 20v1M45 97v1M47 70v2M47 90v1M47 96v1M48 87v1M48 97v1M49 56v1M49 88v1M50 72v1M50 95v1M52 21v1M52 55v2M52 88v1M52 96v1M53 21v2M53 24v1M53 73v1M53 77v1M53 79v1M54 56v1M55 89v2M56 23v2M56 95v1M56 104v1M58 57v1M58 81v1M59 87v1M59 97v1M60 76v1M60 84v1M60 98v1M61 22v1M61 24v1M61 57v1M61 72v2M62 79v1M63 26v1M63 87v1M64 73v1M64 76v1M65 22v1M65 72v1M65 80v1M65 93v1M65 97v1M66 24v1M66 86v1M67 22v2M67 55v1M67 86v1M67 91v1M67 96v1M68 75v1M68 96v1M69 74v1M69 83v1M69 95v1M70 22v1M70 94v1M71 22v1M71 72v2M72 82v1M72 84v1M73 75v1M73 86v1M74 82v1M75 73v1M76 55v1M76 96v1M77 24v1M78 56v1M78 82v1M78 96v2M79 23v1M79 74v2"/>
<path stroke="#b5ff4a" d="M1 20v1M3 32v1M3 103v1M5 19v1M7 37v1M8 54v2M8 97v1M8 103v1M9 29v1M9 57v1M11 55v1M12 22v1M12 103v1M14 97v1M15 22v2M15 55v1M16 55v1M16 99v1M17 23v1M17 55v1M17 57v1M17 62v1M17 74v1M19 24v1M20 56v1M20 74v1M21 58v1M21 98v1M22 62v1M24 98v2M25 20v2M25 24v1M26 56v1M27 56v1M27 65v1M27 79v1M28 23v1M28 55v1M28 81v1M30 77v1M30 98v1M31 23v1M31 59v1M33 67v1M34 23v2M35 83v1M36 22v1M37 71v2M37 85v1M39 22v1M39 55v1M40 88v1M43 22v1M43 55v1M43 70v2M44 23v1M44 55v1M45 58v1M48 21v1M49 21v1M49 23v1M49 86v1M49 97v1M51 71v1M51 96v1M54 73v1M54 95v1M55 58v1M55 84v2M57 55v1M58 97v1M59 24v1M59 104v1M60 73v1M60 79v1M61 56v1M61 97v1M62 78v1M62 104v1M63 57v1M64 77v1M65 56v1M65 73v1M65 78v2M65 96v1M66 55v2M66 91v1M67 104v1M68 23v1M68 72v1M68 77v1M69 78v2M70 87v1M70 104v1M71 23v3M71 95v1M72 25v1M72 56v1M72 74v2M72 95v1M73 95v1M74 74v1M74 94v1M75 84v1M75 95v1M76 23v1M77 23v1M77 57v1M77 78v1M78 55v1M79 76v1M79 82v1"/>
<path stroke="#c7ff38" d="M0 25v1M2 98v1M3 37v1M4 22v1M4 55v1M5 20v1M6 99v1M7 51v1M8 14v1M10 33v1M10 103v1M13 36v1M15 98v1M16 22v2M16 25v1M17 19v1M17 24v1M17 98v1M18 72v2M19 56v1M19 104v1M20 24v1M21 23v1M21 97v1M21 99v1M22 21v1M22 23v1M22 25v1M22 63v1M23 21v1M24 61v1M25 56v1M25 59v1M25 80v1M25 101v1M26 20v1M26 57v1M26 98v1M27 55v1M28 59v1M29 60v1M31 22v1M31 60v1M31 98v1M32 24v1M32 57v1M32 65v1M32 71v2M32 98v1M33 23v1M33 74v1M34 84v1M35 23v1M35 25v1M35 56v1M35 71v1M37 74v2M39 23v1M39 97v1M42 55v1M44 22v1M44 24v1M44 54v1M44 97v1M45 21v1M45 55v1M45 104v1M46 55v1M46 98v1M47 20v1M47 22v2M47 69v1M50 23v1M50 71v1M50 104v1M51 70v1M53 55v1M53 74v2M53 81v1M53 90v1M54 24v1M54 70v2M55 22v1M55 55v1M55 86v1M56 85v2M57 72v1M57 96v1M57 98v1M58 24v1M58 76v1M58 90v1M59 86v1M59 90v1M60 55v1M61 74v1M61 79v1M62 25v1M62 55v1M62 76v1M63 25v1M64 75v1M64 78v1M64 80v1M65 81v1M65 104v1M67 24v1M67 97v2M68 22v1M68 74v1M68 79v1M68 81v1M69 84v2M69 97v1M70 55v2M71 82v1M71 85v1M71 96v1M72 24v1M72 94v1M73 23v1M74 25v1M74 54v1M74 97v1M75 25v2M75 76v1M75 96v1M76 84v1M76 93v1M76 95v1M77 26v1M77 96v2M79 24v2M79 96v1"/>
<path stroke="#daff25" d="M0 103v1M1 21v1M1 23v1M4 23v1M4 98v1M5 18v1M6 25v2M7 36v1M7 50v1M7 52v1M7 54v1M7 56v1M7 99v1M9 99v1M10 32v1M10 99v1M11 54v1M13 32v2M13 52v1M14 56v1M14 98v1M15 24v1M17 56v1M17 63v1M18 25v1M18 74v1M19 55v1M20 70v1M21 19v1M21 22v1M21 59v1M22 22v1M22 24v1M22 54v1M22 61v1M23 22v2M23 99v1M24 63v1M24 77v1M25 57v1M26 23v1M27 23v1M27 103v1M31 61v1M32 22v1M33 54v1M33 72v1M34 25v1M34 73v1M35 76v1M36 23v1M36 73v1M37 24v1M37 54v1M38 23v1M38 56v1M40 24v1M41 23v2M41 53v2M41 98v1M43 97v1M44 53v1M45 22v1M46 21v1M46 97v1M46 104v1M48 23v2M48 55v1M49 22v1M49 55v1M49 85v1M50 20v1M50 90v1M52 24v2M53 26v1M53 78v1M53 91v1M54 23v1M54 55v1M54 104v1M55 88v1M55 104v1M57 81v1M58 91v1M59 25v1M60 26v1M61 54v1M61 77v1M61 82v1M61 96v1M62 24v1M62 84v2M62 97v1M63 24v1M64 23v2M64 74v1M64 79v1M64 92v1M65 75v1M65 83v1M67 89v1M68 24v2M68 82v1M68 84v1M69 23v1M69 55v1M69 76v1M70 54v1M70 77v1M70 92v2M71 76v1M71 79v1M71 104v1M72 77v1M72 83v1M73 94v1M75 54v2M75 83v1M75 104v1M76 27v1M78 54v1M78 104v1M79 26v1M79 54v1M79 86v1"/>
<path stroke="#ecff13" d="M0 28v1M0 99v1M3 54v1M3 100v1M4 54v1M5 22v1M6 23v1M7 40v1M7 47v1M7 101v1M8 16v1M8 19v1M8 98v1M9 55v2M9 100v1M10 35v1M10 102v1M11 19v1M11 98v2M12 54v1M13 34v2M13 37v1M14 22v1M15 99v1M15 103v1M16 26v1M16 56v1M18 24v1M18 55v1M18 64v2M19 26v1M20 23v1M20 54v1M20 66v1M20 68v1M22 56v1M24 22v2M25 23v1M25 100v1M27 63v1M28 22v1M29 22v1M29 55v1M29 63v1M29 80v1M31 25v1M32 55v1M32 73v2M33 56v1M33 66v1M33 83v1M34 54v1M34 68v1M34 70v1M36 55v1M36 85v1M37 23v1M37 55v1M37 84v1M37 104v1M38 22v1M38 55v1M39 70v1M39 87v1M41 85v1M42 24v1M43 54v1M43 72v2M47 97v1M48 98v1M50 25v1M50 55v1M51 72v2M51 104v1M52 97v1M53 97v1M54 72v1M54 96v1M55 26v1M56 89v1M56 97v1M57 74v1M57 77v1M57 82v1M58 25v1M60 77v1M60 91v1M61 25v1M61 81v1M61 83v1M61 98v1M62 81v1M62 96v1M63 54v1M63 88v1M64 81v2M64 97v1M64 104v1M65 74v1M65 85v1M65 98v1M66 97v1M67 54v1M68 78v1M68 80v1M69 54v1M71 77v1M72 55v1M72 78v1M72 85v1M72 104v1M73 24v1M73 54v1M73 96v1M74 26v1M75 98v1M76 77v1M76 104v1M77 25v1M77 55v1M77 87v1M78 24v1M79 27v1M79 77v3M79 95v1"/>
<path stroke="#feff01" d="M0 53v1M1 103v1M2 23v1M3 33v1M3 51v1M5 99v1M6 27v1M6 98v1M7 98v1M7 100v1M8 100v1M9 98v1M9 103v1M10 53v1M10 101v1M11 23v1M13 55v1M17 73v1M17 99v1M18 23v1M20 55v1M20 71v1M20 103v1M21 24v1M21 54v1M21 61v1M21 78v1M22 64v1M23 54v1M25 61v1M26 55v1M27 25v1M27 64v1M28 24v1M28 26v1M28 56v1M28 60v1M28 80v1M28 99v1M30 24v1M30 99v1M30 103v1M31 62v1M31 97v1M32 54v1M32 56v1M33 71v1M34 99v1M35 24v1M35 98v1M36 24v1M36 54v1M36 74v1M37 53v1M37 97v1M38 20v1M39 21v1M39 71v1M39 73v1M42 25v1M42 69v1M43 25v1M43 76v1M43 88v1M43 104v1M45 98v1M46 23v1M46 71v4M47 72v1M49 99v1M50 97v2M51 24v2M51 55v1M52 26v1M52 98v1M53 54v1M53 80v1M54 26v1M54 54v1M54 76v1M54 91v1M55 25v1M55 87v1M55 96v1M56 54v1M58 85v1M59 55v1M60 27v1M61 27v1M61 55v1M62 75v1M62 91v1M63 89v1M64 55v1M65 24v1M65 84v1M65 99v1M66 23v1M66 25v1M66 98v2M67 25v1M67 90v1M67 99v1M68 95v1M69 92v2M69 96v1M69 104v1M70 24v1M70 26v1M70 88v1M70 96v1M71 78v1M71 80v2M71 98v1M72 76v1M73 55v1M73 92v1M73 104v1M74 55v1M74 93v1M74 98v1M76 25v1M76 54v1M76 87v1M77 79v1M77 92v2M78 87v1M79 81v1M79 104v1"/>
<path stroke="#ffee00" d="M0 27v1M0 54v1M2 24v1M2 54v1M2 103v1M4 53v1M4 103v1M5 54v1M7 43v1M7 102v1M8 20v2M10 36v2M10 41v1M10 47v1M10 49v1M10 54v1M11 21v1M12 24v1M13 53v1M14 25v1M14 55v1M14 103v1M16 100v1M17 53v1M20 20v1M20 72v1M21 25v1M21 100v1M21 103v1M23 24v2M23 55v1M24 78v1M25 25v1M25 54v1M25 79v1M25 103v1M26 25v1M27 24v1M27 98v2M28 103v1M29 100v1M30 74v1M31 58v1M31 99v1M31 103v1M33 70v1M33 73v1M34 100v1M36 25v2M36 72v1M37 25v2M38 97v1M39 72v1M39 98v1M40 27v1M41 25v1M41 27v2M42 26v1M42 70v1M42 97v1M42 99v1M45 23v1M45 54v1M46 76v1M49 24v1M50 54v1M50 73v1M50 80v1M52 54v1M53 82v1M54 74v1M54 97v1M55 24v1M55 54v1M56 25v3M57 26v1M58 27v1M58 98v1M59 53v2M59 98v1M62 54v1M62 86v1M64 26v1M64 54v1M65 86v1M66 26v1M66 54v1M68 26v1M68 76v1M68 92v1M68 98v1M69 25v1M69 53v1M70 25v1M70 97v1M71 26v2M71 93v2M72 26v1M72 97v1M73 25v1M73 87v1M74 27v1M74 104v1M75 75v1M75 79v1M75 97v1M76 28v1M76 97v1M78 26v1M78 89v1M78 98v1"/>
<path stroke="#ffdb00" d="M0 100v1M1 55v1M1 100v1M2 27v1M2 99v1M3 35v2M3 99v1M4 100v1M5 53v1M5 103v1M6 29v1M6 55v1M7 42v1M7 45v1M10 34v1M11 100v1M11 103v1M12 23v1M12 100v2M13 99v1M13 103v1M14 23v1M14 27v1M15 100v1M16 53v1M17 66v1M18 67v1M18 99v1M19 25v1M19 27v1M19 52v2M20 53v1M20 67v1M22 27v1M22 99v1M22 103v1M23 102v2M24 100v1M24 102v2M25 55v1M25 60v1M26 54v1M27 54v1M28 27v1M28 62v1M29 24v2M29 54v1M29 64v1M29 103v1M30 25v1M30 27v1M30 100v1M31 26v1M31 63v1M31 100v1M32 53v1M32 99v1M34 74v1M34 103v1M35 28v1M35 53v2M35 77v1M36 70v1M36 98v1M39 24v2M39 54v1M39 103v1M40 25v1M40 29v1M40 71v1M41 26v1M42 53v1M43 74v2M43 98v1M45 25v1M47 25v1M47 98v1M47 103v1M48 25v1M48 53v1M50 74v1M51 23v1M51 97v1M53 27v1M54 25v1M54 28v1M54 80v1M54 98v1M55 52v2M56 55v1M57 54v1M57 76v1M57 91v1M58 55v1M58 99v1M60 54v1M60 90v1M60 103v2M61 26v1M61 78v1M62 28v1M62 90v1M63 55v1M64 25v1M64 28v1M64 98v1M65 26v1M65 76v1M66 87v1M67 27v1M69 29v1M70 91v1M71 54v1M71 75v1M71 97v1M72 54v1M72 79v1M72 81v1M74 28v1M74 88v1M75 74v1M75 77v2M76 92v1M77 53v1M78 91v1M78 93v1M79 53v1M79 73v1M79 80v1"/>
<path stroke="#ffc900" d="M0 29v1M1 22v1M1 24v2M2 100v1M2 102v1M3 49v1M3 52v1M4 101v1M6 100v2M8 23v1M8 99v1M9 28v1M9 30v1M9 54v1M10 38v2M10 43v1M10 45v1M10 48v1M12 52v1M13 41v1M13 51v1M16 24v1M17 64v1M17 100v1M17 103v1M18 27v1M18 68v1M19 54v1M19 99v1M20 99v1M21 101v2M22 76v1M23 100v2M24 27v2M24 64v1M25 26v1M26 26v1M26 102v2M27 66v1M27 101v1M28 61v1M29 26v1M29 79v1M29 101v1M30 101v1M32 75v1M32 82v1M33 28v1M33 53v1M34 53v1M34 71v1M35 99v1M36 75v1M37 76v2M39 26v1M39 74v1M40 26v1M40 28v1M40 53v1M43 26v1M46 22v1M46 25v1M46 75v1M47 27v1M47 54v1M47 89v1M47 99v1M48 28v1M48 54v1M49 98v1M50 29v1M50 78v2M51 91v1M51 98v1M53 25v1M53 89v1M54 81v1M55 97v1M56 28v1M57 27v1M57 53v1M57 78v2M57 99v1M57 103v1M58 53v2M58 88v1M59 26v1M59 99v1M60 53v1M60 85v1M60 99v1M61 53v1M61 76v1M61 84v1M61 91v1M62 26v1M62 98v1M63 27v1M63 98v1M63 104v1M64 84v1M65 25v1M65 29v1M65 53v1M66 27v1M67 29v1M68 27v1M68 54v1M68 85v1M69 26v1M69 86v1M70 27v1M70 98v1M72 27v1M72 80v1M72 86v1M72 93v1M72 96v1M73 53v1M73 91v1M73 97v1M74 53v1M74 92v1M75 27v1M75 86v1M76 88v1M76 98v1M78 25v1M78 92v1"/>
<path stroke="#ffb700" d="M0 51v1M1 54v1M1 101v1M3 38v1M3 40v1M3 42v1M3 45v1M3 48v1M3 53v1M4 24v1M4 52v1M4 99v1M6 54v1M8 53v1M8 102v1M9 31v1M9 53v1M10 40v1M10 44v1M10 46v1M10 51v1M11 53v1M11 101v1M12 25v1M12 102v1M13 40v1M13 42v1M13 44v1M13 49v1M14 53v1M14 99v1M15 25v3M15 53v2M16 27v1M16 103v1M17 25v1M17 28v1M17 65v1M18 26v1M18 53v1M18 66v1M18 69v1M18 100v1M18 103v1M19 103v1M20 27v1M20 69v1M20 100v1M21 28v1M21 60v1M21 77v1M22 101v1M23 26v1M23 28v1M23 53v1M24 26v1M24 54v1M24 101v1M25 63v1M26 99v1M27 53v1M27 78v1M27 100v1M28 25v1M28 54v1M29 53v1M30 26v1M31 24v1M31 82v1M32 28v1M32 76v1M33 25v3M33 99v1M33 103v1M34 29v1M35 78v2M36 53v1M36 84v1M36 99v1M36 103v1M37 27v2M37 98v1M38 98v1M39 27v1M40 54v1M40 70v1M40 97v1M41 51v1M41 99v1M43 24v1M44 27v1M44 98v2M45 24v1M45 26v1M45 99v1M46 24v1M46 26v1M46 103v1M48 26v2M48 100v1M49 54v1M50 24v1M50 26v1M50 77v1M51 26v2M51 29v1M51 77v1M54 27v1M54 75v1M56 29v1M56 51v1M56 98v1M57 29v1M57 97v1M58 28v1M58 86v1M60 29v1M61 29v1M62 27v1M62 53v1M63 97v1M64 53v1M64 83v1M65 28v1M65 55v1M66 28v1M66 88v1M66 90v1M66 103v1M67 26v1M67 28v1M67 88v1M68 53v1M68 97v1M69 27v1M70 53v1M71 28v1M72 28v1M73 30v1M73 89v1M74 52v1M75 52v2M75 81v1M75 93v1M76 100v1M77 27v2M77 88v1M77 104v1M78 27v1M79 28v1M79 87v1M79 98v1"/>
<path stroke="#ffa500" d="M0 52v1M2 25v2M2 53v1M2 101v1M3 47v1M3 50v1M4 26v1M5 21v1M5 98v1M6 28v1M7 44v1M7 46v1M7 49v1M8 22v1M8 24v3M8 101v1M10 42v1M11 24v1M11 26v1M11 102v1M13 47v1M14 26v1M16 54v1M17 26v2M17 29v1M17 54v1M18 102v1M19 50v1M20 26v1M21 62v1M22 26v1M22 100v1M23 29v1M24 24v2M25 78v1M26 27v1M26 53v1M26 101v1M27 67v2M28 53v1M28 100v1M29 27v1M29 65v1M29 67v1M30 102v1M31 53v2M32 25v1M32 29v1M33 82v1M34 83v1M35 26v2M35 52v1M35 82v1M36 76v1M38 24v2M38 54v1M39 28v1M39 76v1M39 99v1M40 51v2M41 30v1M41 103v1M42 28v1M42 54v1M42 71v1M42 74v1M42 98v1M42 103v1M43 27v1M43 53v1M43 77v1M44 25v2M44 103v1M46 77v1M46 99v1M47 29v1M47 52v1M47 73v1M47 75v1M50 89v1M51 74v2M53 98v2M54 29v1M54 78v2M55 29v1M56 52v1M57 28v1M57 52v1M57 80v1M58 26v1M58 89v1M58 103v1M59 27v3M59 52v1M64 85v1M64 103v1M65 27v1M65 91v1M66 89v1M67 30v1M68 55v1M68 103v1M69 28v1M70 90v1M71 30v1M71 86v1M73 26v1M73 29v1M74 87v1M76 26v1M76 91v1M77 52v1M77 89v1M77 98v1M78 88v1M78 100v1M79 32v1M79 94v1"/>
<path stroke="#ff9200" d="M0 102v1M3 102v1M4 25v1M5 24v2M5 100v1M9 52v1M9 102v1M10 100v1M11 22v1M11 51v2M12 53v1M13 39v1M13 48v1M13 100v1M13 102v1M14 101v1M16 28v1M17 101v1M18 29v1M18 54v1M19 100v2M20 25v1M21 52v1M21 57v1M22 29v1M22 75v1M23 27v1M24 55v1M25 28v1M25 62v1M26 28v1M26 100v1M27 26v1M27 28v1M28 28v1M29 66v1M30 54v1M31 28v1M31 30v1M31 64v1M31 101v1M32 26v1M32 77v1M32 80v2M32 102v1M33 75v1M33 77v2M33 81v1M33 101v1M34 26v3M34 75v1M34 101v1M35 29v1M35 80v1M36 30v1M36 52v1M36 100v1M37 82v2M40 50v1M40 98v1M40 103v1M42 27v1M42 88v1M42 102v1M43 30v1M43 52v1M43 100v1M45 53v1M45 102v2M47 26v1M47 53v1M47 76v2M48 99v1M49 103v1M50 27v1M50 76v1M51 28v1M51 53v2M51 90v1M52 51v1M52 53v1M53 50v1M53 53v1M54 77v1M54 82v1M54 99v1M55 28v1M56 53v1M57 75v1M58 87v1M59 100v1M59 103v1M60 100v1M61 52v1M62 87v1M63 52v2M64 91v1M64 99v1M65 54v1M65 103v1M68 99v1M69 87v1M69 91v1M70 28v1M70 89v1M71 53v1M72 29v1M72 53v1M73 27v2M73 90v1M74 89v1M75 80v1M76 30v1M77 103v1M78 50v1M78 53v1M78 90v1M79 29v1M79 31v1M79 93v1"/>
<path stroke="#ff8000" d="M0 30v1M1 102v1M3 101v1M4 27v1M5 23v1M5 52v1M6 30v2M6 102v2M8 52v1M9 32v1M11 25v1M12 26v1M13 38v1M13 45v1M13 50v1M14 100v1M15 29v1M16 52v1M16 101v2M17 52v1M17 72v1M18 70v1M20 101v1M21 26v1M22 28v1M22 52v1M22 74v1M24 30v1M24 52v2M25 29v1M25 102v1M26 52v1M27 32v1M28 64v1M28 79v1M29 28v1M29 68v1M30 53v1M31 52v1M32 52v1M32 78v1M32 100v1M32 103v1M33 52v1M33 76v1M33 100v1M34 49v1M34 69v1M34 102v1M35 51v1M36 29v1M37 52v1M37 79v2M37 99v1M38 28v2M38 53v1M39 53v1M39 77v1M39 86v1M40 30v1M40 35v1M40 72v1M40 87v1M40 100v1M41 52v1M42 73v1M42 76v1M43 29v1M43 99v1M43 102v1M44 100v1M45 27v1M46 28v1M46 88v1M46 100v2M47 28v1M47 31v1M47 74v1M47 78v1M49 25v2M51 51v1M51 80v1M52 27v1M52 52v1M53 28v2M53 31v1M53 83v1M54 53v1M54 90v1M55 98v1M57 31v1M57 85v1M60 31v1M61 28v1M61 50v1M61 85v1M61 99v1M61 101v1M62 29v1M62 52v1M62 88v1M62 99v2M63 99v1M63 103v1M64 31v1M64 52v1M64 87v1M65 52v1M65 88v1M65 101v1M66 30v1M66 53v1M66 100v1M68 28v1M69 88v1M69 98v1M71 52v1M71 87v1M71 103v1M72 30v1M74 29v1M74 90v2M75 31v1M75 51v1M75 87v1M76 52v2M76 89v1M76 103v1M77 30v2M77 91v1M77 99v2M78 30v1"/>
<path stroke="#ff6e00" d="M0 101v1M1 26v1M1 53v1M3 41v1M3 43v2M4 28v1M4 51v1M5 26v1M5 101v2M6 32v1M9 33v1M9 101v1M12 27v1M13 46v1M15 28v1M15 101v1M18 52v1M18 71v1M18 101v1M19 28v1M19 102v1M21 51v1M21 63v1M22 53v1M22 66v1M22 102v1M23 52v1M24 65v1M25 64v1M27 27v1M27 52v1M28 49v3M28 66v1M28 101v1M29 30v1M29 52v1M30 31v1M30 50v1M31 31v1M33 51v1M33 79v2M34 78v1M34 80v1M35 100v2M36 28v1M37 32v1M37 78v1M38 26v2M39 100v1M40 101v1M41 32v1M41 100v1M42 29v1M42 51v1M42 72v1M43 28v1M43 79v1M44 52v1M46 27v1M46 53v1M47 79v2M48 30v1M48 52v1M49 52v1M50 28v1M50 75v1M50 81v1M50 100v1M51 78v1M51 81v1M52 28v1M53 30v1M54 31v1M55 27v1M56 99v1M57 101v1M58 30v3M58 100v2M60 52v1M60 89v1M61 90v1M61 103v1M62 34v1M62 89v1M62 103v1M63 29v1M63 51v1M64 86v1M65 30v1M66 29v1M67 52v1M67 100v1M67 102v1M68 30v1M68 50v1M68 52v1M68 86v1M69 32v1M69 99v1M69 103v1M70 29v1M70 99v2M71 29v1M71 31v1M71 51v1M71 99v1M73 52v1M73 88v1M73 98v2M74 30v1M74 49v3M75 28v1M76 29v1M77 29v1M77 54v1M77 101v1M78 28v1M78 34v1M78 103v1M79 30v1M79 52v1M79 103v1"/>
<path stroke="#ff5c00" d="M0 31v2M1 27v1M2 22v1M2 51v1M12 28v1M12 51v1M13 43v1M14 52v1M14 54v1M15 30v1M15 102v1M17 30v1M17 102v1M19 30v1M20 29v1M20 51v2M20 102v1M21 27v1M21 30v1M21 53v1M22 67v1M23 51v1M24 66v1M25 27v1M25 30v1M25 53v1M26 24v1M26 30v2M27 29v1M27 76v2M28 32v1M28 52v1M28 63v1M28 102v1M29 51v1M29 102v1M30 29v1M30 51v1M31 27v1M31 32v1M31 51v1M31 66v2M31 81v1M32 79v1M33 50v1M34 52v1M34 77v1M35 32v1M35 103v1M36 27v1M36 79v1M37 29v1M37 50v1M37 81v1M39 30v1M39 52v1M39 75v1M40 76v1M40 102v1M41 29v1M41 31v1M41 102v1M42 30v1M42 32v1M42 52v1M43 51v1M43 87v1M43 101v1M43 103v1M44 28v2M44 51v1M45 29v1M45 101v1M46 30v1M46 54v1M46 102v1M47 51v1M48 29v1M48 51v1M49 27v1M49 53v1M50 52v1M51 50v1M51 52v1M51 76v1M52 99v1M53 84v2M54 34v1M54 52v1M54 83v1M54 103v1M55 31v1M55 51v1M57 30v1M57 90v1M57 100v1M57 102v1M58 29v1M58 33v1M60 28v1M60 51v1M60 86v1M60 101v1M61 33v1M61 100v1M62 30v2M63 28v1M63 30v2M63 50v1M63 100v1M64 27v1M65 87v1M65 100v1M66 101v1M67 31v1M67 53v1M68 33v1M68 51v1M70 32v1M70 103v1M71 100v1M72 52v1M74 31v1M74 99v1M75 29v1M76 99v1M77 51v1M77 90v1M78 51v2M78 99v1M79 88v1"/>
<path stroke="#ff4900" d="M0 50v1M1 30v1M1 33v1M2 28v1M3 39v1M3 46v1M4 29v2M4 50v1M4 102v1M6 51v2M8 30v1M8 51v1M9 34v2M10 50v1M11 29v1M13 101v1M15 52v1M16 30v1M16 34v1M17 51v1M17 67v1M17 70v2M18 28v1M18 51v1M21 29v1M22 30v1M22 51v1M22 65v1M22 73v1M23 48v1M24 51v1M24 68v1M25 34v1M25 51v1M27 102v1M28 29v2M29 69v1M30 28v1M30 46v1M31 29v1M31 50v1M31 65v1M31 69v1M31 102v1M32 27v1M33 29v2M33 102v1M34 50v1M34 76v1M35 30v2M37 31v1M37 103v1M38 99v1M39 51v1M39 102v1M40 73v1M40 75v1M41 33v2M42 77v1M42 100v1M43 33v1M43 78v1M44 50v1M45 28v1M45 33v1M45 52v1M46 80v1M47 30v1M47 32v1M47 100v2M48 32v1M48 50v1M48 103v1M49 28v1M49 101v1M50 53v1M52 37v1M53 51v1M53 87v1M54 30v1M54 86v1M54 100v2M56 30v1M56 32v1M57 33v1M57 37v1M57 51v1M57 83v1M58 102v1M59 30v1M59 50v1M60 33v1M60 50v1M60 87v1M61 34v1M61 51v1M61 86v1M64 30v1M64 101v1M65 51v1M65 89v1M65 102v1M66 34v1M66 102v1M67 101v1M67 103v1M68 91v1M68 101v1M69 52v1M69 90v1M70 30v1M70 52v1M71 50v1M71 92v1M72 50v1M74 33v1M75 30v1M75 88v1M75 92v1M75 99v1M76 31v1M76 90v1M77 33v1M78 31v1M79 50v1"/>
<path stroke="#ff3700" d="M0 33v2M2 30v1M5 50v1M6 33v1M8 27v1M8 50v1M9 36v1M9 49v1M11 27v1M11 31v1M18 33v1M19 29v1M19 49v1M20 28v1M21 76v1M22 31v2M22 49v1M24 32v1M24 67v1M24 76v1M26 29v1M27 31v1M27 33v1M28 31v1M29 31v1M29 78v1M30 30v1M32 30v1M32 35v1M32 101v1M33 31v1M33 48v1M34 31v1M34 82v1M35 36v1M35 81v1M35 102v1M36 101v1M37 30v1M38 52v1M38 100v1M38 103v1M39 29v1M39 85v1M40 32v1M40 34v1M40 49v1M40 74v1M40 99v1M41 35v1M41 48v1M41 50v1M41 101v1M42 31v1M42 35v1M42 38v1M42 75v1M44 31v1M44 101v1M46 29v1M46 50v2M46 78v1M47 48v3M47 88v1M48 48v1M50 103v1M51 31v1M51 79v1M51 99v3M52 29v1M52 103v1M53 33v1M53 38v1M53 52v1M54 51v1M56 49v1M56 100v1M56 103v1M58 35v1M58 51v1M59 31v4M59 102v1M60 30v1M60 48v1M61 30v1M61 49v1M61 102v1M64 32v1M64 102v1M65 31v2M65 50v1M66 52v1M67 32v1M68 29v1M68 87v1M68 90v1M68 100v1M69 31v1M69 51v1M69 89v1M71 33v1M71 90v1M73 51v1M74 39v1M75 32v2M75 49v2M75 103v1M77 32v1M78 29v1M79 49v1M79 100v2"/>
<path stroke="#ff2500" d="M0 44v1M1 50v2M2 29v1M2 32v1M2 50v1M2 52v1M5 28v1M5 51v1M6 34v1M6 53v1M8 49v1M9 38v1M9 42v1M9 44v1M9 50v1M11 28v1M12 29v1M12 31v1M14 28v4M15 50v1M16 29v1M16 33v1M16 48v1M16 50v1M17 68v2M18 31v1M19 31v1M19 34v2M20 35v1M21 50v1M23 30v2M24 29v1M24 50v1M24 69v1M25 52v1M25 66v1M26 51v1M27 70v1M27 75v1M29 49v1M30 32v1M32 32v1M32 51v1M33 47v1M34 33v1M34 81v1M35 50v1M36 32v1M36 35v1M36 51v1M36 77v2M36 83v1M36 102v1M37 100v1M38 50v1M39 31v2M40 31v1M40 33v1M40 36v1M41 37v1M41 49v1M42 40v1M42 78v1M43 32v1M43 36v1M43 86v1M45 32v1M45 100v1M46 79v1M47 34v1M47 81v1M47 102v1M48 31v1M48 102v1M49 30v1M49 100v1M50 33v1M50 49v1M50 51v1M50 88v1M50 99v1M51 30v1M51 49v1M51 89v1M51 103v1M52 30v2M52 35v1M52 38v1M53 32v1M53 37v1M53 48v2M53 101v1M54 32v1M54 84v1M55 35v1M55 49v1M55 103v1M56 33v1M57 32v1M57 34v1M57 50v1M59 37v1M59 48v2M60 32v1M60 35v1M60 88v1M61 31v1M62 32v1M63 102v1M64 29v1M64 50v1M64 100v1M66 51v1M67 50v2M68 31v2M68 88v1M69 30v1M69 33v1M69 40v1M70 51v1M71 34v1M72 31v1M72 51v1M72 87v2M72 92v1M72 103v1M73 103v1M74 36v1M74 43v1M74 100v1M76 51v1M77 39v1M77 102v1M78 33v1M78 35v1M78 37v1M78 48v1M78 101v1M79 33v1M79 90v1M79 99v1M79 102v1"/>
<path stroke="#ff1300" d="M0 35v1M1 28v2M1 48v1M1 52v1M2 34v1M5 27v1M5 32v1M6 35v2M6 40v1M6 44v1M8 29v1M8 32v1M9 37v1M9 48v1M11 30v1M11 50v1M12 32v1M14 102v1M15 32v2M16 51v1M17 32v1M18 32v1M19 33v1M19 43v1M19 46v1M19 51v1M20 47v1M21 33v1M21 64v1M22 50v1M22 68v1M22 70v1M23 32v1M24 48v1M24 75v1M25 32v2M25 37v1M27 48v1M28 48v1M28 65v1M29 32v2M29 37v1M29 47v1M29 50v1M29 77v1M30 34v1M30 52v1M31 68v1M31 79v1M32 31v1M32 33v1M34 30v1M34 32v1M34 51v1M34 79v1M35 35v1M35 40v1M37 49v1M39 50v1M39 101v1M40 37v1M40 86v1M41 36v1M41 39v2M41 47v1M42 33v2M42 47v2M42 50v1M42 87v1M42 101v1M43 49v1M44 30v1M45 31v1M45 34v1M45 51v1M46 33v1M46 35v1M47 47v1M48 49v1M48 101v1M49 29v1M49 31v1M49 51v1M49 102v1M50 32v1M50 35v1M50 50v1M50 82v1M51 33v1M51 82v1M52 32v2M52 49v1M53 35v2M53 43v1M53 100v1M53 103v1M54 33v1M54 44v1M54 87v1M55 34v1M55 99v1M55 101v1M56 31v1M56 50v1M57 84v1M57 87v2M58 36v1M58 47v1M58 50v1M58 52v1M59 101v1M60 36v1M60 102v1M61 32v1M62 48v4M62 102v1M63 32v1M63 46v1M64 49v1M64 51v1M64 88v1M66 31v2M67 35v1M67 42v1M67 47v1M69 37v1M69 50v1M69 100v1M70 31v1M70 34v1M70 43v1M71 39v1M71 45v1M72 91v1M72 98v2M73 32v1M73 36v1M73 50v1M74 34v2M74 46v1M75 38v1M75 90v1M75 100v2M76 33v1M76 50v1M76 102v1M77 35v3M78 42v1M78 46v1M78 49v1M79 45v1M79 47v2M79 51v1M79 89v1"/>
<path stroke="#ff0000" d="M0 36v1M0 39v2M0 47v1M1 31v1M4 31v1M4 34v1M5 30v1M5 47v1M8 28v1M8 48v1M12 30v1M14 32v1M15 31v1M15 49v1M16 31v2M16 49v1M17 31v1M17 34v1M17 37v1M17 49v1M18 30v1M18 35v1M19 32v1M20 31v2M21 44v1M22 35v1M22 48v1M23 49v1M24 33v2M24 70v1M25 31v1M25 50v1M25 65v1M26 32v1M26 34v1M27 30v1M27 51v1M28 33v2M29 29v1M29 38v1M29 41v1M29 48v1M29 71v1M29 76v1M30 48v1M31 34v1M31 49v1M32 34v1M32 47v1M32 50v1M33 39v1M33 43v1M34 35v1M34 44v1M35 34v1M35 38v1M35 45v1M35 47v1M35 49v1M36 31v1M36 34v1M36 50v1M36 80v1M37 33v1M37 48v1M37 101v1M38 32v1M38 35v1M38 51v1M39 33v1M39 36v1M39 49v1M39 78v1M40 43v1M40 47v1M41 41v1M41 44v2M43 31v1M43 35v1M43 46v1M45 35v1M45 50v1M46 44v1M46 52v1M46 81v1M46 86v1M47 33v1M47 87v1M48 33v1M48 36v1M48 41v1M50 30v1M50 102v1M51 48v1M51 102v1M52 34v1M52 47v1M52 50v1M52 100v1M53 88v1M54 43v1M54 47v1M54 85v1M54 89v1M54 102v1M55 32v2M55 39v2M56 36v1M57 36v1M57 48v2M57 89v1M58 34v1M58 38v1M58 43v1M58 49v1M59 46v1M59 51v1M60 37v1M60 44v1M61 87v1M62 33v1M62 35v1M62 37v1M63 34v1M63 38v1M63 48v2M64 33v1M64 35v1M64 90v1M65 34v3M65 90v1M66 50v1M67 33v2M68 41v1M68 89v1M69 34v1M70 49v2M70 102v1M71 32v1M71 35v1M71 48v2M71 91v1M71 101v2M72 32v1M73 31v1M73 100v1M74 32v1M74 41v1M74 103v1M75 34v1M75 36v1M75 39v1M75 47v1M76 32v1M76 41v1M76 101v1M78 36v1M78 38v1M78 47v1M78 102v1M79 35v1M79 42v1M79 46v1M79 91v1"/>
<path stroke="#ed0000" d="M0 48v2M2 31v1M2 49v1M4 49v1M6 43v1M6 48v1M9 40v1M9 47v1M12 46v2M12 50v1M14 33v1M14 40v1M14 51v1M15 48v1M15 51v1M16 37v1M17 47v2M18 39v1M18 46v1M18 49v1M19 40v3M19 44v1M20 37v1M20 48v1M21 31v1M21 36v2M21 40v1M21 49v1M22 71v1M23 35v1M23 42v1M23 44v1M23 50v1M24 41v1M24 47v1M24 74v1M25 36v1M25 48v1M25 77v1M26 35v1M26 43v1M27 35v1M27 69v1M27 71v2M28 35v1M28 37v1M28 39v1M29 34v1M29 36v1M29 40v1M29 70v1M29 73v1M30 35v1M31 33v1M31 72v1M32 36v2M33 34v1M33 44v1M34 39v1M34 46v1M35 37v1M35 41v1M35 43v1M35 46v1M35 48v1M36 33v1M36 39v1M36 48v1M36 81v2M37 34v1M37 39v1M37 42v1M37 51v1M37 102v1M38 48v1M38 102v1M39 44v1M40 38v2M40 42v1M40 44v3M40 48v1M41 38v1M41 43v1M42 44v1M42 49v1M43 40v1M43 45v1M43 48v1M43 50v1M44 37v1M44 49v1M45 36v1M45 49v1M46 31v1M46 41v1M46 87v1M47 36v1M48 47v1M49 32v1M49 50v1M50 31v1M50 84v1M50 101v1M51 32v1M51 34v1M51 40v1M52 36v1M52 41v1M52 44v1M52 48v1M52 101v1M53 47v1M53 86v1M54 48v3M55 50v1M56 37v1M56 44v1M56 47v2M56 101v1M57 35v1M57 39v1M57 47v1M58 37v1M58 41v1M58 46v1M58 48v1M59 42v1M59 45v1M60 38v1M60 47v1M61 35v3M61 39v1M62 36v1M62 47v1M63 33v1M63 47v1M64 37v1M64 45v2M64 48v1M65 40v1M66 36v1M67 46v1M67 49v1M68 34v1M68 49v1M68 102v1M69 46v1M69 48v2M69 102v1M70 101v1M72 35v1M72 43v1M72 46v1M72 100v2M73 33v1M73 35v1M73 38v1M73 44v2M73 101v1M74 38v1M74 47v1M75 42v1M75 102v1M76 35v1M76 38v1M76 42v1M76 47v1M76 49v1M77 47v2M77 50v1M78 43v2M79 34v1M79 36v1M79 92v1"/>
<path stroke="#db0000" d="M0 37v2M0 42v1M0 46v1M1 34v2M2 33v1M4 32v2M4 35v1M4 37v1M4 43v1M5 48v1M6 38v2M6 47v1M8 33v1M9 39v1M9 45v1M9 51v1M11 44v1M11 49v1M12 34v1M12 37v1M12 44v1M12 48v1M14 34v1M14 41v1M14 47v1M14 49v1M16 36v1M16 47v1M17 42v1M17 50v1M18 36v1M18 47v1M18 50v1M19 38v2M19 45v1M20 30v1M20 49v2M21 32v1M21 47v1M21 74v1M22 34v1M22 37v1M22 39v1M22 44v1M22 46v1M22 72v1M23 33v1M23 36v1M23 43v1M23 45v2M24 31v1M24 72v2M25 46v1M26 41v1M26 44v1M26 49v1M27 41v1M27 43v1M27 47v1M27 49v1M27 74v1M28 36v1M28 77v1M29 39v1M29 74v1M30 37v1M30 39v1M30 43v2M31 42v1M31 48v1M31 80v1M32 49v1M33 32v2M33 35v1M33 38v1M33 40v1M33 46v1M34 38v1M34 40v1M34 45v1M34 48v1M35 33v1M35 42v1M36 44v1M36 49v1M37 45v1M38 101v1M39 34v1M39 37v2M39 79v1M39 81v1M40 41v1M41 42v1M41 46v1M42 37v1M42 39v1M42 41v2M42 46v1M43 34v1M43 43v1M43 47v1M43 80v2M44 48v1M45 30v1M46 32v1M46 37v1M46 47v3M46 82v1M47 35v1M47 38v2M47 41v1M49 48v2M50 36v1M50 47v1M50 83v1M50 85v1M51 38v1M51 83v2M52 102v1M53 34v1M53 44v2M54 36v1M55 30v1M55 37v1M55 41v1M55 44v2M55 100v1M56 34v2M56 39v1M56 43v1M57 38v1M57 44v1M58 40v1M59 40v1M59 43v1M61 48v1M61 88v2M62 42v1M62 101v1M63 36v1M63 43v1M64 34v1M65 48v1M67 41v1M67 48v1M68 35v1M68 40v1M68 44v1M69 35v1M69 39v1M70 45v1M70 48v1M71 37v1M71 42v1M71 89v1M72 33v1M72 36v1M72 49v1M72 102v1M73 34v1M73 41v1M73 46v1M73 49v1M73 102v1M74 37v1M74 102v1M75 35v1M75 37v1M75 43v1M75 46v1M75 89v1M75 91v1M76 34v1M76 37v1M76 39v1M76 45v1M76 48v1M77 38v1M77 41v1M77 49v1M78 32v1M79 37v1M79 41v1"/>
<path stroke="#c90000" d="M0 45v1M1 32v1M1 36v1M1 41v2M1 46v1M2 35v2M4 38v1M4 44v1M4 48v1M5 29v1M5 49v1M6 41v2M6 45v2M8 34v1M8 36v1M9 41v1M11 34v1M11 38v1M12 33v1M12 49v1M14 35v1M14 50v1M15 34v1M15 44v1M16 35v1M16 39v1M16 45v2M17 38v1M17 44v1M18 42v1M18 45v1M18 48v1M19 36v2M19 48v1M20 33v2M20 43v1M20 46v1M21 48v1M22 36v1M22 47v1M22 69v1M23 34v1M24 39v2M24 43v1M25 41v1M25 44v1M25 49v1M25 76v1M26 33v1M26 38v1M26 46v1M27 34v1M27 36v1M27 50v1M27 73v1M28 38v1M28 42v1M28 45v1M29 42v1M29 44v3M30 33v1M30 38v1M30 40v1M30 49v1M31 35v1M31 45v1M31 70v2M32 39v1M32 41v1M32 46v1M33 41v2M33 49v1M34 37v1M36 41v1M36 43v1M37 35v2M37 40v1M38 30v1M38 36v1M39 46v1M40 40v1M40 77v1M42 36v1M43 83v1M43 85v1M44 32v3M44 43v1M44 47v1M44 102v1M45 47v2M46 39v1M46 46v1M47 43v1M47 46v1M47 84v1M48 35v1M48 39v2M48 44v1M50 37v1M50 40v1M51 35v1M51 46v1M52 39v2M52 46v1M53 40v1M53 102v1M54 42v1M54 46v1M54 88v1M55 47v2M57 45v2M58 39v1M59 36v1M59 38v1M59 47v1M60 34v1M60 40v1M60 45v1M61 40v1M61 42v1M62 38v1M62 45v2M63 35v1M64 39v1M64 42v1M65 42v1M65 45v1M65 49v1M66 33v1M66 39v2M66 47v1M67 36v1M67 38v1M67 40v1M67 45v1M68 38v2M68 46v1M69 36v1M69 44v1M69 47v1M70 33v1M71 47v1M72 34v1M72 45v1M72 89v1M73 39v2M73 48v1M74 44v1M74 48v1M75 41v1M75 44v1M76 36v1M76 44v1M76 46v1M77 43v1M78 41v1M79 40v1"/>
<path stroke="#b60000" d="M0 41v1M0 43v1M1 47v1M1 49v1M2 43v1M4 36v1M5 33v1M5 36v1M5 38v1M6 49v2M8 31v1M8 38v1M8 45v2M9 43v1M11 32v1M11 36v1M11 42v2M11 47v2M12 41v2M12 45v1M14 38v1M14 42v1M14 44v1M14 46v1M15 35v1M15 37v1M15 40v1M15 46v1M16 40v1M17 33v1M17 39v1M20 38v1M21 34v2M21 38v1M21 46v1M21 68v1M21 75v1M22 33v1M22 38v1M22 41v1M22 43v1M23 39v2M24 42v1M24 49v1M25 35v1M25 38v2M25 47v1M26 40v1M26 42v1M26 50v1M27 46v1M28 41v1M28 47v1M28 68v2M29 35v1M29 75v1M30 36v1M30 47v1M31 39v1M31 43v1M31 47v1M31 75v1M32 38v1M33 36v2M34 41v1M34 47v1M36 37v2M36 42v1M36 45v1M37 46v2M38 31v1M38 33v2M38 40v1M38 43v1M38 49v1M39 45v1M39 47v1M39 80v1M43 39v1M43 82v1M44 41v1M44 44v1M46 40v1M46 42v2M46 85v1M47 40v1M47 44v1M47 82v1M48 38v1M48 46v1M49 33v3M49 44v2M49 47v1M50 34v1M50 44v2M52 42v2M52 45v1M53 42v1M54 39v2M55 42v1M56 38v1M56 40v1M56 46v1M56 102v1M58 42v1M59 41v1M60 39v1M60 41v1M60 46v1M60 49v1M61 38v1M61 45v3M62 39v3M63 39v1M63 101v1M64 41v1M64 89v1M65 33v1M65 37v1M65 46v2M66 35v1M66 41v2M66 49v1M68 36v2M68 42v1M68 45v1M68 47v1M69 43v1M69 101v1M70 35v1M70 38v1M70 41v2M71 38v1M71 40v2M71 88v1M72 38v1M72 42v1M72 47v1M72 90v1M73 37v1M73 47v1M74 101v1M75 45v1M75 48v1M77 34v1M77 44v1M78 45v1M79 43v2"/>
<path stroke="#a40000" d="M1 39v1M2 41v2M2 47v2M4 39v1M4 47v1M5 31v1M5 35v1M5 44v1M6 37v1M8 35v1M8 39v1M8 41v1M8 43v1M11 46v1M12 35v1M14 43v1M14 45v1M15 36v1M15 39v1M15 47v1M16 38v1M16 41v2M17 36v1M17 40v2M17 43v1M17 45v1M18 40v1M18 44v1M19 47v1M20 40v2M20 44v2M21 66v1M23 38v1M23 41v1M23 47v1M24 37v2M24 45v1M24 71v1M25 68v1M26 36v1M26 47v2M27 37v1M27 39v2M27 42v1M28 46v1M28 67v1M29 43v1M29 72v1M30 45v1M31 37v2M31 40v1M31 44v1M31 77v1M32 43v3M32 48v1M33 45v1M35 39v1M36 36v1M36 46v1M37 38v1M37 43v2M38 37v1M38 41v2M38 44v1M38 46v2M39 40v1M39 84v1M40 78v1M40 81v1M42 45v1M43 42v1M44 35v2M44 40v1M45 38v1M45 40v1M45 44v2M46 34v1M46 45v1M46 84v1M47 45v1M48 43v1M49 36v2M50 38v1M50 41v1M50 86v2M51 37v1M51 39v1M51 42v2M51 45v1M53 39v1M53 41v1M54 35v1M54 38v1M54 45v1M55 46v1M55 102v1M56 42v1M56 45v1M57 40v3M59 35v1M60 42v2M61 41v1M63 42v1M63 45v1M64 36v1M64 47v1M65 44v1M66 37v1M66 43v2M66 48v1M67 37v1M67 39v1M68 43v1M69 41v2M70 44v1M70 47v1M71 43v1M71 46v1M72 40v2M74 40v1M77 40v1"/>
<path stroke="#920000" d="M1 38v1M1 43v1M1 45v1M2 38v1M2 44v1M4 45v2M5 42v1M5 46v1M8 37v1M8 44v1M11 35v1M11 39v1M12 36v1M12 39v1M14 36v1M15 43v1M17 35v1M17 46v1M18 34v1M18 43v1M20 36v1M20 39v1M21 39v1M21 41v1M21 43v1M21 65v1M23 37v1M24 35v2M26 39v1M27 45v1M28 43v1M30 41v1M31 36v1M31 74v1M32 40v1M34 34v1M34 36v1M34 43v1M36 40v1M36 47v1M37 37v1M38 39v1M38 45v1M39 42v1M39 48v1M39 82v1M42 84v1M42 86v1M43 37v2M43 41v1M43 84v1M44 38v1M44 42v1M45 46v1M46 38v1M46 83v1M47 42v1M48 34v1M48 37v1M49 38v3M50 42v1M50 48v1M51 36v1M51 44v1M51 47v1M53 46v1M54 41v1M55 36v1M56 41v1M57 86v1M62 44v1M63 37v1M63 40v2M64 38v1M64 40v1M65 38v1M65 41v1M66 38v1M67 44v1M68 48v1M69 38v1M70 36v2M70 39v2M71 36v1M72 37v1M73 42v2M74 45v1M77 42v1M77 45v1M78 39v2"/>
<path stroke="#800000" d="M1 37v1M1 40v1M1 44v1M2 37v1M2 39v2M2 45v2M4 40v3M5 34v1M5 37v1M5 39v3M5 43v1M5 45v1M8 40v1M8 42v1M8 47v1M9 46v1M11 33v1M11 37v1M11 40v2M11 45v1M12 38v1M12 40v1M12 43v1M14 37v1M14 39v1M14 48v1M15 38v1M15 41v2M15 45v1M16 43v2M18 37v2M18 41v1M20 42v1M21 42v1M21 45v1M21 67v1M21 69v5M22 40v1M22 42v1M22 45v1M24 44v1M24 46v1M25 40v1M25 42v2M25 45v1M25 67v1M25 69v7M26 37v1M26 45v1M27 38v1M27 44v1M28 40v1M28 44v1M28 70v7M28 78v1M30 42v1M31 41v1M31 46v1M31 73v1M31 76v1M31 78v1M32 42v1M34 42v1M35 44v1M37 41v1M38 38v1M39 35v1M39 39v1M39 41v1M39 43v1M39 83v1M40 79v2M40 82v4M42 43v1M42 79v5M42 85v1M43 44v1M44 39v1M44 45v2M45 37v1M45 39v1M45 41v3M46 36v1M47 37v1M47 83v1M47 85v2M48 42v1M48 45v1M49 41v3M49 46v1M50 39v1M50 43v1M50 46v1M51 41v1M51 85v4M54 37v1M55 38v1M55 43v1M57 43v1M58 44v2M59 39v1M59 44v1M61 43v2M62 43v1M63 44v1M64 43v2M65 39v1M65 43v1M66 45v2M67 43v1M69 45v1M70 46v1M71 44v1M72 39v1M72 44v1M72 48v1M74 42v1M75 40v1M76 40v1M76 43v1M77 46v1M79 38v2"/>
</g></g></g>
<g fill="none" stroke="#969696" stroke-width="1.3">
<path d="M106.8 15.3H703.2V373.8H106.8Z"/>
<path d="M160 373.8v6.2M160 15.3v-6.2M268.64 373.8v6.2M268.64 15.3v-6.2M377.28 373.8v6.2M377.28 15.3v-6.2M485.92 373.8v6.2M485.92 15.3v-6.2M594.56 373.8v6.2M594.56 15.3v-6.2M703.2 373.8v6.2M703.2 15.3v-6.2M106.8 373.8h-6.2M703.2 373.8h6.2M106.8 261.77h-6.2M703.2 261.77h6.2M106.8 149.74h-6.2M703.2 149.74h6.2M106.8 37.71h-6.2M703.2 37.71h6.2"/>
</g>
<path d="M139.4 233.6h7.3M154.6 339.7h7.0M213.3 233.6h7.3M228.5 339.7h7.0M287.2 233.6h7.3M302.4 339.7h7.0M361.1 233.6h7.3M376.3 339.7h7.0M435 233.6h7.3M450.2 339.7h7.0M508.9 233.6h7.3M524.1 339.7h7.0M582.8 233.6h7.3M598 339.7h7.0M656.7 233.6h7.3M671.9 339.7h7.0M166.5 233.6h26.5M181.7 339.7h26.5M240.4 233.6h26.5M255.6 339.7h26.5M314.3 233.6h26.5M329.5 339.7h26.5M388.2 233.6h26.5M403.4 339.7h26.5M462.1 233.6h26.5M477.3 339.7h26.5M536 233.6h26.5M551.2 339.7h26.5M609.9 233.6h26.5M625.1 339.7h26.5M124.3 238.8V266M124.3 286.4V293.1M124.3 313V339.7H134.1M682 233.6H687.6V254.8M687.6 275.2V281.6M687.6 303.2V328.7" fill="none" stroke="#fb0f0f" stroke-width="5.6" stroke-linejoin="miter"/>
<text transform="translate(160,411.6) scale(0.87,1)" font-size="32" text-anchor="middle">0</text>
<text transform="translate(268.64,411.6) scale(0.87,1)" font-size="32" text-anchor="middle">10</text>
<text transform="translate(377.28,411.6) scale(0.87,1)" font-size="32" text-anchor="middle">20</text>
<text transform="translate(485.92,411.6) scale(0.87,1)" font-size="32" text-anchor="middle">30</text>
<text transform="translate(594.56,411.6) scale(0.87,1)" font-size="32" text-anchor="middle">40</text>
<text transform="translate(703.2,411.6) scale(0.87,1)" font-size="32" text-anchor="middle">50</text>
<text transform="translate(96.3,385.4) scale(0.87,1)" font-size="32" text-anchor="end">0</text>
<text transform="translate(96.3,273.37) scale(0.87,1)" font-size="32" text-anchor="end">5</text>
<text transform="translate(96.3,161.34) scale(0.87,1)" font-size="32" text-anchor="end">10</text>
<text transform="translate(96.3,49.31) scale(0.87,1)" font-size="32" text-anchor="end">15</text>
<text transform="translate(404.3,439.2) scale(0.87,1)" font-size="32" text-anchor="middle">Delay (fs)</text>
<text transform="translate(59.6,195) rotate(-90) scale(1,0.87)" font-size="32" text-anchor="middle">KER (eV)</text>
<text transform="translate(9,43.5) scale(0.9,1)" font-size="37.5" text-anchor="start" font-weight="bold">(a)</text>
<linearGradient id="cbA" x1="0" y1="0" x2="0" y2="1"><stop offset="0" stop-color="#800000"/><stop offset="0.02" stop-color="#8f0000"/><stop offset="0.03" stop-color="#9f0000"/><stop offset="0.05" stop-color="#af0000"/><stop offset="0.06" stop-color="#be0000"/><stop offset="0.08" stop-color="#ce0000"/><stop offset="0.09" stop-color="#de0000"/><stop offset="0.11" stop-color="#ed0000"/><stop offset="0.12" stop-color="#fd0000"/><stop offset="0.14" stop-color="#ff0e00"/><stop offset="0.16" stop-color="#ff1d00"/><stop offset="0.17" stop-color="#ff2d00"/><stop offset="0.19" stop-color="#ff3d00"/><stop offset="0.2" stop-color="#ff4c00"/><stop offset="0.22" stop-color="#ff5c00"/><stop offset="0.23" stop-color="#ff6c00"/><stop offset="0.25" stop-color="#ff7c00"/><stop offset="0.27" stop-color="#ff8b00"/><stop offset="0.28" stop-color="#ff9b00"/><stop offset="0.3" stop-color="#ffab00"/><stop offset="0.31" stop-color="#ffba00"/><stop offset="0.33" stop-color="#ffca00"/><stop offset="0.34" stop-color="#ffda00"/><stop offset="0.36" stop-color="#ffe900"/><stop offset="0.38" stop-color="#fff900"/><stop offset="0.39" stop-color="#f5ff0a"/><stop offset="0.41" stop-color="#e6ff19"/><stop offset="0.42" stop-color="#d6ff29"/><stop offset="0.44" stop-color="#c6ff39"/><stop offset="0.45" stop-color="#b7ff48"/><stop offset="0.47" stop-color="#a7ff58"/><stop offset="0.48" stop-color="#97ff68"/><stop offset="0.5" stop-color="#87ff78"/><stop offset="0.52" stop-color="#78ff87"/><stop offset="0.53" stop-color="#68ff97"/><stop offset="0.55" stop-color="#58ffa7"/><stop offset="0.56" stop-color="#49ffb6"/><stop offset="0.58" stop-color="#39ffc6"/><stop offset="0.59" stop-color="#29ffd6"/><stop offset="0.61" stop-color="#1affe5"/><stop offset="0.62" stop-color="#0afff5"/><stop offset="0.64" stop-color="#00f9ff"/><stop offset="0.66" stop-color="#00eaff"/><stop offset="0.67" stop-color="#00daff"/><stop offset="0.69" stop-color="#00caff"/><stop offset="0.7" stop-color="#00bbff"/><stop offset="0.72" stop-color="#00abff"/><stop offset="0.73" stop-color="#009bff"/><stop offset="0.75" stop-color="#008bff"/><stop offset="0.77" stop-color="#007cff"/><stop offset="0.78" stop-color="#006cff"/><stop offset="0.8" stop-color="#005cff"/><stop offset="0.81" stop-color="#004dff"/><stop offset="0.83" stop-color="#003dff"/><stop offset="0.84" stop-color="#002dff"/><stop offset="0.86" stop-color="#001eff"/><stop offset="0.88" stop-color="#000eff"/><stop offset="0.89" stop-color="#0000fd"/><stop offset="0.91" stop-color="#0000ee"/><stop offset="0.92" stop-color="#0000de"/><stop offset="0.94" stop-color="#0000ce"/><stop offset="0.95" stop-color="#0000bf"/><stop offset="0.97" stop-color="#0000af"/><stop offset="0.98" stop-color="#00009f"/><stop offset="1" stop-color="#00008f"/></linearGradient>
<rect x="713.9" y="15.3" width="13.8" height="358.5" fill="url(#cbA)"/>
<path d="M713.9 254.3h3M727.7 254.3h-3M713.9 134.8h3M727.7 134.8h-3" fill="none" stroke="#000" stroke-width="0.8"/>
<text transform="translate(729.4,385.4) scale(0.83,1)" font-size="32" text-anchor="start">1</text>
<text transform="translate(729.4,265.9) scale(0.83,1)" font-size="32" text-anchor="start">1.5</text>
<text transform="translate(729.4,146.4) scale(0.83,1)" font-size="32" text-anchor="start">2</text>
<text transform="translate(729.4,26.9) scale(0.83,1)" font-size="32" text-anchor="start">2.5</text>
<clipPath id="hc2"><rect x="895.6" y="18.4" width="607.1" height="362.6"/></clipPath>
<g clip-path="url(#hc2)"><g filter="url(#soft)">
<g transform="translate(899.39,18.4) scale(7.5888,3.1530)" shape-rendering="crispEdges" fill="none" stroke-width="1.03">
<rect x="-0.5" y="0" width="80" height="115" fill="#00008f" stroke="none"/>
<path stroke="#00008f" d="M0 0v10M0 11v1M0 15v1M0 66v2M0 69v1M0 71v4M0 76v21M0 99v3M0 103v2M1 0v10M1 12v1M1 67v1M1 70v3M1 74v2M1 77v17M1 95v2M1 98v1M2 0v11M2 12v1M2 63v1M2 69v17M2 87v5M2 93v1M3 0v13M3 60v1M3 70v1M3 72v21M3 94v1M3 96v4M3 114v1M4 0v9M4 10v3M4 65v3M4 69v1M4 71v3M4 75v21M4 97v3M5 0v12M5 68v2M5 71v2M5 74v3M5 78v1M5 80v8M5 89v1M5 114v1M6 0v11M6 12v1M6 67v1M6 72v4M6 77v6M6 84v1M6 86v1M6 88v2M7 0v13M7 68v1M7 73v2M7 76v20M7 114v1M8 0v14M8 64v1M8 66v2M8 70v1M8 72v2M8 75v2M8 78v4M8 83v8M8 92v9M9 0v15M9 67v2M9 74v14M9 89v4M9 95v1M9 97v1M9 114v1M10 0v14M10 67v2M10 70v2M10 74v2M10 77v16M10 94v4M10 99v3M10 114v1M11 0v10M11 11v2M11 14v1M11 65v1M11 69v2M11 74v30M11 113v2M12 0v14M12 75v1M12 77v26M13 0v12M13 15v1M13 75v1M13 77v1M13 79v19M13 99v3M13 103v1M14 0v13M14 74v4M14 79v22M14 102v1M14 105v1M15 0v12M15 13v1M15 78v1M15 80v1M15 82v21M15 104v1M15 114v1M16 0v16M16 81v14M16 96v5M16 103v2M16 114v1M17 0v15M17 83v2M17 86v16M18 0v14M18 82v1M18 84v11M18 96v5M18 102v3M19 0v14M19 82v1M19 84v11M19 96v1M19 98v1M19 100v1M19 102v3M20 0v14M20 15v2M20 84v1M20 86v10M20 97v8M21 0v14M21 85v21M21 113v2M22 0v13M22 14v1M22 85v1M22 88v4M22 93v5M22 100v2M22 114v1M23 0v12M23 14v1M23 86v10M23 97v5M23 114v1M24 0v14M24 87v3M24 91v5M24 97v1M24 99v2M25 0v14M25 88v5M25 94v1M25 96v2M25 99v1M25 114v1M26 0v12M26 13v2M26 16v1M26 88v5M26 94v5M26 100v1M26 114v1M27 0v14M27 15v1M27 61v1M27 89v1M27 92v2M27 95v1M27 99v1M28 0v15M28 91v4M28 96v2M28 99v1M28 101v1M29 0v15M29 61v1M29 64v2M29 94v2M29 101v2M29 114v1M30 0v9M30 10v3M30 14v1M30 18v1M30 92v1M30 94v1M30 96v2M30 100v2M31 0v12M31 13v1M31 16v1M31 60v1M31 64v1M31 92v1M31 95v1M31 97v1M31 114v1M32 0v14M32 62v2M32 65v1M32 96v2M32 100v1M32 114v1M33 0v15M33 63v2M33 66v1M33 96v1M33 99v1M33 102v2M34 0v15M34 63v1M34 66v1M34 114v1M35 0v13M35 15v1M35 64v1M35 66v1M35 104v1M36 0v16M36 61v1M36 66v1M36 68v1M36 100v1M37 0v12M37 13v3M37 95v1M37 114v1M38 0v15M38 66v1M38 68v3M38 114v1M39 0v15M39 16v1M39 60v3M39 67v1M40 0v14M40 61v1M40 63v2M40 67v1M40 114v1M41 0v14M41 16v1M41 61v1M41 64v3M41 68v1M41 114v1M42 0v15M42 63v2M42 66v1M42 69v2M43 0v12M43 13v2M43 65v1M43 69v1M43 114v1M44 0v12M44 14v1M44 61v1M44 63v1M44 65v1M44 70v1M44 72v1M45 0v14M45 66v1M45 70v1M45 114v1M46 0v16M46 64v1M46 69v1M46 114v1M47 0v14M47 15v2M47 62v4M47 69v3M48 0v12M48 13v3M48 64v4M48 114v1M49 0v14M49 15v2M49 62v1M49 64v4M49 70v1M49 75v1M50 0v13M50 14v1M50 16v1M50 69v1M50 71v1M50 114v1M51 0v15M51 16v1M51 73v1M51 114v1M52 0v15M52 16v1M52 65v2M52 114v1M53 0v14M53 16v1M53 65v2M53 70v2M53 114v1M54 0v12M54 14v1M54 63v1M54 66v1M54 69v1M54 72v3M55 0v14M55 15v1M55 62v2M55 65v1M55 69v1M55 73v1M56 0v14M56 63v1M56 114v1M57 0v13M57 14v1M57 65v1M57 72v1M57 114v1M58 0v16M58 61v2M58 64v2M58 69v3M58 74v1M58 114v1M59 0v13M59 14v1M59 66v2M59 70v1M59 114v1M60 0v13M60 62v1M60 64v2M60 114v1M61 0v13M61 14v2M61 65v2M61 68v1M61 72v1M62 0v15M62 66v2M62 69v2M62 74v1M63 0v12M63 15v1M63 61v2M63 68v1M63 70v1M64 0v14M64 64v1M64 67v1M65 0v15M65 65v2M65 73v1M66 0v14M66 15v1M66 64v3M66 69v1M66 71v1M66 114v1M67 0v13M67 15v1M67 20v1M67 65v2M67 68v1M67 73v1M68 0v15M68 69v1M68 71v1M68 74v1M68 114v1M69 0v15M69 65v1M69 71v1M69 114v1M70 0v14M70 66v2M70 114v1M71 0v12M71 13v3M71 64v2M71 114v1M72 0v14M72 62v1M72 65v2M72 74v1M73 0v16M73 65v1M74 0v16M74 66v1M74 71v2M75 0v13M75 14v1M75 16v1M75 66v1M75 72v1M75 114v1M76 0v15M76 65v1M76 69v1M76 73v1M77 0v16M77 17v1M77 69v1M78 0v11M78 12v5M78 64v1M78 71v1M78 74v1M79 0v15M79 64v1"/>
<path stroke="#0000a2" d="M0 10v1M0 70v1M0 97v2M1 94v1M2 67v1M4 114v1M5 66v1M5 79v1M5 88v1M6 11v1M6 76v1M6 87v1M6 90v1M8 69v1M8 91v1M9 93v1M9 96v1M10 93v1M11 10v1M12 16v1M13 12v2M13 98v1M14 103v1M16 80v1M17 81v2M18 15v1M18 83v1M18 95v1M19 14v2M19 83v1M19 95v1M19 97v1M19 99v1M19 101v1M20 114v1M22 92v1M24 90v1M24 114v1M25 98v1M25 101v1M27 90v1M27 98v1M27 102v1M27 114v1M28 16v1M28 65v1M28 90v1M29 17v1M29 63v1M29 66v1M29 97v1M30 9v1M30 13v1M31 94v1M32 59v1M32 64v1M32 66v1M32 99v1M33 60v1M35 14v1M40 14v1M40 66v1M41 69v1M42 17v1M43 12v1M43 16v1M44 13v1M44 62v1M45 64v1M46 72v1M47 14v1M47 66v1M48 71v1M49 14v1M49 68v1M50 65v1M51 62v1M53 63v1M54 64v1M54 114v1M56 66v1M56 74v1M57 13v1M57 15v1M59 15v1M59 74v1M60 14v1M60 63v1M61 76v1M62 114v1M66 75v1M67 61v1M70 65v1M72 64v1M72 69v1M73 64v1M74 18v1M74 64v1M75 13v1M75 69v1M77 16v1M77 65v1M78 11v1M78 73v1M78 77v1M78 114v1"/>
<path stroke="#0000b4" d="M0 68v1M0 102v1M0 114v1M1 69v1M2 92v1M3 66v1M3 71v1M4 15v1M6 14v1M6 91v1M7 69v1M7 96v1M8 63v1M8 74v1M9 66v1M9 70v1M9 73v1M10 65v1M10 69v1M11 63v2M11 72v1M11 105v1M12 74v1M16 95v1M16 101v1M16 105v1M17 85v1M17 103v1M17 114v1M18 114v1M20 85v1M22 87v1M22 98v2M22 104v1M23 85v1M23 96v1M23 104v1M24 15v1M24 96v1M25 63v1M26 12v1M26 62v1M26 93v1M26 102v1M27 14v1M27 59v1M27 96v1M28 60v1M28 62v1M28 100v1M29 92v1M29 96v1M29 103v1M31 12v1M31 98v1M34 16v1M35 13v1M35 62v1M35 69v1M37 12v1M37 64v1M37 66v1M39 64v1M39 69v1M41 15v1M42 15v1M44 15v1M44 64v1M44 68v1M45 67v1M46 17v1M46 71v1M47 67v1M47 72v1M48 12v1M51 69v1M52 69v1M53 14v1M53 69v1M54 12v1M55 68v1M56 72v1M57 64v1M57 70v1M58 18v1M58 63v1M58 73v1M59 16v1M59 65v1M60 13v1M60 66v2M62 15v1M63 73v1M64 65v1M67 71v1M68 66v1M69 64v1M69 69v1M70 15v1M70 63v1M70 70v1M71 12v1M71 68v1M71 70v1M73 75v1M74 16v1M74 65v1M74 68v1M76 114v1M78 66v1M79 15v1M79 65v1"/>
<path stroke="#0000c6" d="M1 99v1M2 95v1M3 13v2M3 65v1M3 93v1M3 101v1M4 9v1M5 12v1M5 73v1M5 90v1M6 13v1M6 83v1M6 96v1M8 14v1M8 65v1M8 82v1M9 65v1M9 98v1M11 67v1M11 104v1M12 69v1M13 14v1M13 16v1M14 16v1M14 114v1M15 79v1M15 81v1M16 102v1M17 104v1M19 16v1M19 113v1M20 14v1M20 96v1M21 14v1M23 102v2M24 61v1M24 101v3M25 100v1M26 113v1M27 91v1M27 103v1M28 15v1M28 63v1M28 98v1M30 98v1M31 17v1M31 66v1M32 94v1M32 102v1M33 17v1M33 114v1M34 15v1M34 61v1M34 97v1M35 114v1M36 67v1M36 71v1M37 61v1M37 67v1M38 15v2M38 61v1M41 70v1M42 60v1M42 71v1M43 66v1M43 70v1M44 17v1M44 114v1M45 15v1M45 62v1M46 65v2M47 60v1M48 16v1M48 68v1M49 69v1M49 114v1M50 62v1M50 66v1M51 64v1M52 58v1M52 67v1M53 64v1M53 68v1M53 73v1M54 13v1M55 66v1M55 70v2M56 15v1M56 75v1M57 62v1M59 13v1M59 62v1M59 71v1M61 16v1M61 70v1M61 75v1M62 62v1M62 68v1M64 16v1M64 69v1M65 114v1M66 16v1M67 13v1M68 72v1M69 72v1M70 16v2M71 66v1M71 71v1M72 68v1M73 73v2M74 75v1M75 73v1M76 15v1M76 60v1M76 64v1M76 66v1M79 67v1"/>
<path stroke="#0000d8" d="M0 12v1M1 10v2M1 14v1M1 60v1M1 66v1M2 64v1M2 86v1M3 69v1M3 95v1M3 100v1M5 15v1M5 95v1M5 97v1M6 94v1M7 101v1M8 62v1M8 102v2M8 114v1M11 13v1M11 68v1M11 73v1M13 102v1M15 14v1M16 17v1M17 15v1M17 17v1M18 14v1M18 57v1M18 113v1M19 114v1M21 16v1M23 12v1M23 16v1M24 98v1M25 93v1M26 15v1M26 101v1M27 16v1M27 62v1M28 95v1M30 16v1M30 61v1M30 63v1M30 65v1M30 93v1M31 93v1M31 96v1M31 100v1M32 14v1M32 93v1M34 68v1M35 58v1M35 65v1M35 68v1M35 95v1M35 97v1M35 100v1M37 62v1M38 64v1M40 17v1M40 98v1M42 67v2M43 67v1M45 68v2M45 100v1M46 67v1M47 68v1M49 63v1M49 72v1M51 63v1M53 15v1M54 62v1M56 17v1M56 64v1M57 74v1M58 67v1M59 72v1M60 16v1M60 72v1M61 13v1M61 69v1M62 16v2M62 71v1M63 13v2M64 72v1M64 114v1M65 15v1M65 62v1M65 69v1M65 71v1M66 14v1M66 18v1M66 68v1M66 78v1M67 16v1M67 74v1M68 15v2M69 15v1M71 61v2M72 14v1M72 19v1M72 63v1M72 70v2M72 114v1M73 17v1M73 71v2M75 67v1M76 16v1M77 68v1M78 68v1M79 66v1M79 68v1M79 74v1"/>
<path stroke="#0000eb" d="M0 75v1M0 105v1M1 97v1M1 100v1M1 114v1M3 63v1M4 63v1M5 64v1M5 70v1M5 77v1M6 93v1M7 64v1M7 75v1M7 97v2M8 15v1M8 101v1M9 15v1M9 61v1M9 63v1M9 71v1M9 94v1M9 99v1M9 113v1M10 72v1M11 15v1M11 71v1M13 113v1M15 15v1M15 103v1M16 18v1M16 78v1M17 16v1M17 80v1M19 81v1M20 81v1M21 18v1M22 86v1M23 15v1M24 59v1M25 14v1M25 16v1M25 60v1M25 87v1M27 94v1M27 100v1M29 99v1M30 114v1M31 14v1M31 63v1M31 65v1M31 99v1M31 104v1M32 15v1M32 17v1M33 62v1M33 94v1M34 64v1M34 95v1M35 98v1M36 63v1M37 16v1M37 58v1M37 99v1M38 103v1M39 15v1M39 100v1M39 114v1M40 15v1M40 70v1M41 14v1M41 71v1M44 67v1M44 71v1M45 74v1M46 63v1M46 76v1M47 17v1M48 18v1M48 63v1M48 70v1M48 98v1M50 13v1M50 73v1M51 59v1M51 72v1M52 17v1M52 70v1M52 72v1M55 64v1M55 114v1M57 71v1M58 16v1M60 70v1M60 75v1M61 17v1M61 59v1M62 65v1M63 63v1M63 67v1M63 71v2M64 15v1M64 59v1M65 59v1M65 67v1M66 70v1M67 63v2M67 69v1M68 17v1M68 68v1M69 61v1M70 69v1M71 18v1M71 72v4M72 15v2M73 68v1M73 114v1M75 62v1M75 70v1M75 74v1M76 17v1M76 72v1M76 74v1M77 62v1M77 66v1M77 71v1M78 17v1M78 65v1M79 16v1"/>
<path stroke="#0000fd" d="M1 68v1M1 76v1M2 13v1M4 74v1M5 62v1M5 92v1M5 94v1M6 69v2M7 17v1M7 70v1M7 100v1M8 113v1M10 14v1M10 62v1M10 73v1M10 76v1M10 98v1M11 61v1M12 14v1M12 17v1M12 71v3M12 103v2M12 114v1M13 76v1M13 114v1M14 13v1M14 15v1M14 78v1M15 76v1M17 105v1M19 106v1M20 83v1M20 113v1M22 13v1M22 15v1M23 13v1M23 105v1M28 57v1M28 104v1M29 15v1M29 62v1M29 100v1M30 15v1M30 99v1M31 15v1M32 95v1M33 68v2M33 97v2M34 60v1M34 62v1M34 67v1M34 96v1M35 16v1M36 65v1M38 62v1M38 65v1M38 99v1M39 66v1M39 74v1M39 98v1M40 65v1M40 71v1M41 62v2M42 72v1M43 63v2M43 68v1M44 12v1M44 18v1M44 69v1M45 18v1M46 19v1M48 60v1M48 69v1M49 17v1M50 15v1M50 63v2M50 74v1M51 17v1M51 66v1M53 75v1M54 71v1M55 67v1M55 74v1M56 61v1M56 67v1M56 69v3M56 76v1M57 66v1M58 66v1M59 61v1M59 68v1M59 73v1M59 75v2M60 18v1M60 60v1M60 77v1M61 63v1M62 63v2M62 73v1M62 76v1M63 12v1M63 59v1M63 65v1M63 76v1M64 71v1M64 73v1M66 19v1M66 61v1M67 62v1M68 61v1M68 64v1M68 70v1M70 62v1M70 73v1M70 75v1M71 67v1M71 76v1M73 70v1M75 15v1M75 17v1M76 19v1M76 62v1M76 67v1M76 75v1M77 60v1M77 63v2M78 69v1M79 17v1M79 19v2M79 63v1M79 70v1M79 76v1"/>
<path stroke="#0010ff" d="M0 63v1M1 65v1M2 114v1M3 16v1M3 18v1M3 67v1M4 70v1M5 13v1M5 17v1M5 65v1M6 59v1M6 66v1M6 92v1M6 95v1M6 99v1M7 63v1M7 71v2M7 99v1M8 61v1M9 72v1M10 63v1M12 68v1M13 78v1M14 14v1M15 12v1M15 16v1M16 16v1M16 106v1M17 102v1M18 17v1M18 101v1M21 59v1M22 61v1M22 84v1M22 105v1M24 63v1M24 104v2M25 17v1M27 64v1M27 101v1M27 104v2M28 61v1M28 64v1M29 57v1M29 93v1M29 98v1M29 113v1M30 19v1M30 60v1M31 102v1M32 67v1M33 58v1M33 104v1M33 113v1M34 65v1M34 99v1M35 63v1M35 67v1M35 94v1M35 96v1M35 99v1M36 96v1M37 63v1M37 98v1M37 102v1M38 96v1M39 99v1M40 16v1M40 62v1M40 73v1M40 99v1M40 102v1M41 73v1M41 99v1M41 102v1M42 61v1M43 99v1M44 66v1M45 63v1M45 101v1M46 61v1M46 70v1M46 74v1M48 59v1M48 61v2M48 72v2M49 19v1M49 71v1M49 73v2M51 15v1M51 65v1M51 67v1M51 70v1M51 75v1M52 60v1M52 63v2M52 71v1M53 61v1M54 65v1M56 14v1M56 62v1M57 16v1M57 61v1M57 73v1M57 75v1M59 17v2M59 58v1M60 15v1M60 68v1M60 73v1M61 64v1M61 73v2M62 18v1M63 16v1M63 114v1M64 17v1M64 60v1M64 68v1M65 16v1M65 64v1M65 72v1M66 20v1M66 60v1M67 17v1M67 70v1M67 114v1M68 67v1M68 73v1M69 18v1M69 66v1M69 74v1M70 61v1M70 71v1M72 76v1M73 19v1M73 66v1M74 78v1M76 61v1M78 21v1M78 67v1M78 76v1M79 59v1M79 62v1M79 73v1"/>
<path stroke="#0022ff" d="M1 62v1M2 16v1M2 68v1M3 15v1M3 64v1M3 102v1M4 96v1M5 91v1M6 64v1M6 71v1M6 98v1M7 62v1M8 71v1M9 16v1M9 60v1M10 64v1M11 17v1M11 55v1M12 18v1M13 104v1M14 101v1M16 113v1M17 59v1M18 105v1M20 82v1M21 15v1M23 58v1M23 61v1M24 16v1M24 86v1M25 61v2M25 102v1M26 63v1M26 99v1M27 17v2M27 58v1M27 60v1M28 19v1M28 68v1M28 114v1M29 56v1M29 58v2M29 91v1M30 59v1M30 66v1M30 90v2M31 62v1M31 91v1M32 61v1M33 15v1M33 95v1M33 105v1M34 17v2M34 100v1M35 60v1M35 70v1M36 16v1M36 62v1M36 102v1M37 18v1M37 56v1M37 97v1M37 101v1M38 72v1M38 102v1M39 63v1M40 60v1M40 100v1M41 58v1M41 60v1M41 96v1M41 100v1M42 16v1M42 98v1M43 15v1M43 59v1M43 62v1M43 97v1M45 14v1M45 16v1M45 61v1M45 65v1M45 71v1M45 103v1M46 75v1M47 61v1M47 74v1M47 101v1M47 114v1M48 100v1M49 18v1M49 60v1M50 61v1M50 70v1M50 72v1M51 61v1M51 68v1M51 71v1M53 67v1M53 72v1M54 15v2M55 14v1M55 16v1M55 72v1M56 68v1M57 67v3M58 75v1M60 76v1M62 72v1M63 18v1M63 64v1M63 74v2M64 62v1M64 74v1M64 77v1M65 74v2M66 74v1M67 76v1M68 75v1M70 68v1M72 67v1M73 16v1M74 69v1M74 73v1M75 19v1M75 75v1M76 18v1M76 70v1M76 78v1M77 75v1M77 114v1M79 75v1M79 114v1"/>
<path stroke="#0035ff" d="M1 63v1M1 73v1M1 101v1M2 17v1M2 59v1M2 61v1M2 97v1M3 61v1M3 113v1M4 62v1M4 100v1M6 61v1M6 63v1M7 16v1M7 67v1M7 113v1M8 77v1M9 62v1M10 15v1M10 58v1M11 19v1M12 76v1M12 113v1M15 17v2M15 73v1M18 81v1M22 17v1M22 59v2M23 59v1M24 14v1M26 17v1M27 57v1M27 97v1M27 113v1M28 59v1M29 67v1M29 104v2M30 62v1M30 64v1M30 95v1M30 102v1M31 68v2M31 113v1M32 68v2M33 16v1M33 56v1M33 93v1M33 100v2M34 59v1M34 72v1M34 98v1M34 103v3M35 18v1M35 61v1M36 60v1M36 95v1M36 103v1M37 59v1M37 71v1M38 18v1M38 60v1M38 63v1M38 95v1M38 98v1M38 100v1M39 68v1M39 72v1M39 96v1M41 101v1M42 59v1M42 100v1M43 60v2M43 98v1M43 105v1M44 60v1M46 16v1M46 68v1M47 75v2M47 113v1M48 113v1M50 19v1M50 68v1M51 19v1M52 15v1M52 18v1M52 62v1M52 68v1M52 73v1M55 75v1M57 63v1M57 76v2M59 19v1M60 20v1M60 69v1M61 19v1M61 61v1M61 114v1M62 60v1M63 19v1M63 66v1M64 58v1M64 63v1M64 66v1M65 77v1M66 17v1M66 72v1M68 62v1M68 65v1M69 70v1M70 14v1M71 19v1M71 63v1M71 77v1M72 18v1M72 73v1M73 18v1M73 60v1M73 67v1M75 64v1M75 68v1M76 59v1M76 63v1M77 61v1M77 72v1M78 19v1M79 72v1M79 77v1"/>
<path stroke="#0047ff" d="M0 13v1M1 64v1M2 62v1M2 96v1M4 60v1M4 68v1M5 14v1M5 16v1M5 18v1M5 67v1M6 16v1M6 65v1M6 85v1M6 97v1M6 114v1M8 68v1M9 64v1M9 101v1M10 66v1M12 15v1M12 67v1M12 106v1M14 113v1M15 113v1M16 77v1M16 79v1M17 106v1M17 113v1M19 59v1M19 105v1M20 105v1M21 106v1M22 62v1M23 20v1M23 63v1M24 17v1M24 58v1M25 95v1M26 59v1M27 66v1M28 17v1M28 88v2M28 103v1M29 60v1M30 17v1M30 103v1M31 59v1M32 16v1M32 101v1M34 70v1M35 17v1M35 101v1M36 17v1M36 58v1M36 64v1M37 68v1M37 96v1M38 56v1M38 59v1M38 71v1M39 18v1M39 70v2M40 68v2M40 72v1M40 104v1M40 113v1M41 17v1M42 18v1M42 20v1M42 102v1M43 18v1M43 58v1M45 17v1M45 99v1M46 104v1M47 18v1M50 18v1M50 59v1M52 61v1M52 76v1M53 17v1M54 58v1M56 19v1M56 60v1M57 18v1M57 78v1M58 72v1M58 76v1M59 80v1M60 17v1M60 71v1M61 62v1M62 59v1M63 80v1M64 14v1M64 70v1M64 78v2M65 17v1M65 68v1M65 70v1M66 62v1M66 67v1M67 60v1M69 75v1M70 58v1M70 79v1M71 60v1M72 17v1M73 69v1M73 79v1M74 62v1M75 71v1M75 79v1M76 68v1M77 77v1M78 18v1M78 80v1M79 71v1"/>
<path stroke="#0059ff" d="M0 14v1M0 60v1M0 113v1M2 11v1M2 14v1M4 13v1M4 58v1M4 102v1M5 57v1M5 98v1M5 113v1M6 68v1M7 15v1M7 61v1M8 17v1M8 104v1M9 59v1M9 100v1M10 18v1M10 56v1M10 102v1M10 104v1M11 56v1M12 60v1M14 17v1M14 70v1M14 72v1M14 104v1M15 75v1M18 80v1M19 18v2M19 80v1M20 20v1M20 58v2M21 83v1M22 57v1M22 103v1M22 113v1M24 57v1M25 15v1M25 59v1M26 20v1M26 87v1M28 18v1M28 66v1M29 19v1M29 90v1M30 55v1M31 18v2M31 61v1M32 71v1M32 92v1M33 61v1M33 65v1M33 92v1M34 58v1M34 69v1M34 102v1M36 57v1M36 97v2M38 19v1M38 97v1M39 57v1M39 113v1M40 57v1M40 103v1M41 59v1M41 67v1M41 98v1M42 62v1M42 97v1M42 103v2M43 100v1M43 113v1M44 97v1M45 23v1M45 72v2M45 75v1M45 98v1M46 101v1M47 19v1M47 100v1M48 21v1M48 55v1M48 74v1M48 76v1M49 20v1M49 100v1M50 17v1M51 20v1M53 19v1M53 21v1M53 62v1M54 19v1M54 70v1M55 76v1M56 16v1M56 59v1M56 65v1M56 77v1M58 60v1M58 68v1M59 21v1M59 60v1M59 63v2M59 69v1M60 21v1M60 74v1M61 18v1M61 71v1M62 77v1M64 75v1M65 60v1M65 76v1M65 78v1M66 59v1M67 14v1M67 18v1M67 56v1M67 59v1M67 75v1M68 18v1M68 59v1M69 16v1M69 62v1M69 73v1M69 77v2M70 18v1M70 74v1M71 16v1M72 20v1M72 61v1M73 61v1M73 63v1M74 17v1M74 21v1M74 60v1M74 63v1M74 76v1M74 114v1M75 18v1M75 59v1M75 65v1M75 77v2M76 77v1M76 80v1M78 63v1M79 69v1"/>
<path stroke="#006cff" d="M0 16v1M0 62v1M1 16v1M2 66v1M2 98v1M2 100v1M3 105v1M4 14v1M4 101v1M5 99v1M6 56v1M6 60v1M7 59v1M7 66v1M7 102v2M8 55v1M9 103v1M10 59v1M10 61v1M11 66v1M11 112v1M12 61v1M12 105v1M14 19v1M18 59v1M19 61v1M21 17v1M21 19v1M21 55v1M21 60v1M22 16v1M23 18v2M23 56v1M23 60v1M24 113v1M25 20v1M25 104v1M26 57v1M26 61v1M26 103v2M27 20v1M27 65v1M27 88v1M28 20v1M28 55v1M30 58v1M30 104v1M31 57v1M31 103v1M32 57v2M32 103v1M32 105v1M33 21v1M33 67v1M33 70v2M34 19v1M34 93v1M34 101v1M34 113v1M35 20v1M35 113v1M36 69v2M36 72v1M36 105v1M37 17v1M37 104v1M37 113v1M38 17v1M38 55v1M38 73v1M38 101v1M39 95v1M39 102v1M41 72v1M41 97v1M42 19v1M42 65v1M42 73v1M42 76v1M42 99v1M43 56v1M43 71v2M43 76v1M44 19v1M44 21v1M44 102v1M45 57v2M45 113v1M46 58v1M46 73v1M49 58v1M50 79v1M51 60v1M51 74v1M51 77v1M52 75v1M53 20v1M53 60v1M54 67v1M54 75v1M54 102v1M55 77v1M55 100v1M56 73v1M61 78v1M63 17v1M65 63v1M66 76v1M67 19v1M67 77v1M67 79v1M68 63v1M69 19v1M69 79v1M70 59v1M71 17v1M72 72v1M72 78v1M73 20v1M74 67v1M75 60v1M76 57v1M77 70v1M77 74v1M78 61v1M78 70v1M79 18v1"/>
<path stroke="#007eff" d="M0 61v1M0 106v1M1 102v1M2 94v1M2 99v1M4 64v1M6 17v1M6 20v1M7 13v1M7 65v1M9 18v1M9 20v1M10 19v1M11 60v1M11 106v1M12 66v1M13 19v1M14 18v1M15 105v1M17 20v1M17 107v1M18 16v1M18 58v1M18 106v1M19 17v1M20 18v1M20 56v2M20 61v1M20 106v1M21 58v1M21 84v1M22 19v1M22 58v1M22 106v1M24 55v1M24 85v1M25 65v1M25 86v1M26 65v1M27 21v1M28 22v1M28 56v1M28 58v1M28 105v1M29 18v1M30 20v2M30 105v1M32 60v1M33 19v1M33 59v1M34 21v1M34 94v1M35 71v1M36 93v1M36 99v1M37 65v1M37 69v1M37 103v1M39 19v2M39 24v1M39 59v1M39 65v1M41 18v1M41 76v1M42 21v1M43 20v1M43 73v1M43 101v1M44 99v1M44 103v1M45 97v1M46 55v1M46 100v1M47 59v1M48 17v1M48 75v1M48 99v1M48 105v1M49 56v1M49 61v1M49 99v1M49 113v1M50 20v1M50 67v1M50 100v1M52 19v1M52 56v1M52 79v1M53 58v1M53 74v1M53 99v1M54 17v1M54 68v1M55 18v1M56 18v1M57 60v1M58 19v1M59 59v1M60 19v1M61 23v1M62 22v1M64 76v1M65 22v1M65 57v1M66 58v1M66 63v1M68 20v1M69 68v1M70 76v1M71 78v1M72 77v1M73 21v1M73 80v1M74 59v1M74 61v1M74 70v1M75 63v1M76 71v1M76 76v1M77 18v1M77 73v1M77 76v1M79 61v1"/>
<path stroke="#0090ff" d="M0 59v1M0 65v1M1 18v1M1 57v1M2 15v1M2 55v2M3 103v1M4 61v1M4 103v1M4 113v1M5 59v1M5 93v1M7 60v1M8 16v1M8 19v1M9 17v1M9 69v1M9 88v1M9 102v1M10 16v1M10 53v2M10 103v1M11 16v1M11 18v1M11 20v1M12 70v1M13 20v1M13 70v1M14 71v1M15 20v1M17 19v1M17 22v1M18 19v1M18 21v1M19 23v1M20 19v1M22 55v2M22 102v1M23 62v1M24 18v1M24 60v1M25 57v1M25 103v1M25 105v1M26 19v1M26 21v1M26 60v1M26 105v1M28 69v1M28 113v1M29 89v1M30 68v1M31 56v1M31 71v1M32 104v1M32 113v1M33 57v1M35 56v1M35 93v1M36 59v1M36 94v1M36 104v1M36 114v1M37 60v1M37 70v1M37 72v1M37 105v1M38 58v1M38 67v1M38 105v1M39 21v1M39 56v1M39 75v1M39 97v1M39 101v1M40 56v1M40 58v1M40 75v1M41 75v1M42 74v1M43 19v1M43 74v1M43 103v1M44 16v1M44 20v1M44 73v2M44 98v1M44 104v1M45 22v1M45 105v1M46 62v1M46 98v1M47 20v2M47 103v1M48 58v1M50 21v1M50 99v1M51 76v1M52 57v1M52 59v1M52 74v1M52 78v1M53 18v1M53 76v3M54 20v1M54 59v1M54 76v1M54 101v1M55 56v1M56 21v1M57 17v1M58 17v1M58 21v1M58 77v1M59 77v1M61 20v1M61 57v1M61 67v1M61 103v1M63 69v1M63 77v1M64 18v1M64 61v1M65 61v1M66 22v1M66 73v1M67 21v1M67 57v1M67 67v1M67 81v1M68 58v1M68 76v2M69 60v1M69 63v1M70 21v1M70 80v1M72 59v1M73 76v3M74 56v1M74 74v1M74 80v1M75 21v2M75 82v1M76 20v1M77 67v1M77 78v1M77 80v1M78 72v1M78 75v1M78 78v1M79 21v1M79 60v1M79 78v1"/>
<path stroke="#00a2ff" d="M1 15v1M1 17v1M3 59v1M4 16v2M5 58v1M5 61v1M5 96v1M7 104v2M11 54v1M11 57v1M11 59v1M11 62v1M12 19v1M12 63v2M13 17v1M13 106v1M14 73v1M15 77v1M16 55v1M16 76v1M17 57v2M18 22v1M18 56v1M19 22v1M19 62v1M20 17v1M20 54v1M20 107v1M21 54v1M21 61v1M21 64v1M22 54v1M23 57v1M23 113v1M24 56v1M24 62v1M24 106v1M25 19v1M25 56v1M26 55v1M26 86v1M26 106v1M27 19v1M27 22v1M27 56v1M27 106v1M28 102v1M29 20v1M29 55v1M29 68v1M29 106v1M30 106v1M31 70v1M32 21v1M32 55v1M32 91v1M32 98v1M33 20v1M33 22v1M34 57v1M34 71v1M35 57v1M38 21v1M38 57v1M39 17v1M39 103v2M40 54v2M40 59v1M40 101v1M41 57v1M41 74v1M41 105v1M42 23v1M42 58v1M42 96v1M42 101v1M42 105v1M42 113v2M43 23v1M44 76v1M44 113v1M45 20v1M47 73v1M47 98v2M47 106v1M48 20v1M49 77v2M49 101v1M51 22v1M51 100v1M51 102v1M53 104v1M54 57v1M55 60v2M55 78v1M56 78v1M57 21v1M57 23v1M57 55v1M58 79v1M60 79v2M61 77v1M62 19v1M62 23v1M62 61v1M63 21v1M65 18v1M65 21v1M65 79v1M67 24v1M67 72v1M68 19v1M68 78v1M69 21v1M70 64v1M70 72v1M71 80v2M72 79v1M73 56v1M74 77v1M74 79v1M74 83v1M75 58v1M77 19v1M77 59v1M77 79v1M78 20v1M78 62v1"/>
<path stroke="#00b5ff" d="M0 17v1M0 21v1M1 20v1M1 61v1M3 58v1M4 57v1M5 60v1M5 63v1M5 100v1M6 62v1M7 18v1M8 20v1M8 58v3M9 58v1M10 113v1M12 65v1M13 22v1M13 72v2M14 106v1M15 74v1M15 106v1M16 20v1M17 54v2M18 20v1M18 54v2M19 21v1M19 53v1M19 57v1M19 60v1M23 23v1M23 54v1M23 64v2M24 24v1M25 52v1M25 55v1M26 58v1M27 63v1M27 67v1M28 24v1M28 70v1M30 56v2M30 69v1M30 89v1M30 113v1M31 54v1M31 58v1M31 90v1M31 101v1M31 105v2M32 90v1M34 55v1M35 19v1M35 72v1M35 74v1M35 102v1M35 105v2M36 18v1M36 24v1M36 101v1M36 113v1M37 52v1M37 94v1M37 100v1M38 20v1M38 93v1M38 113v1M39 22v1M39 54v1M39 73v1M39 105v1M40 18v1M41 55v1M41 103v1M41 113v1M42 57v1M43 17v1M43 21v1M43 57v1M43 77v1M43 95v1M43 104v1M44 55v1M44 58v2M44 101v1M45 104v1M45 106v1M46 59v1M46 99v1M46 103v1M47 56v1M47 58v1M47 97v1M48 80v1M48 102v1M49 59v1M50 58v1M50 60v1M51 55v1M53 59v1M53 101v1M53 113v1M54 21v1M54 61v1M54 77v2M55 81v1M57 24v1M57 58v2M58 22v1M58 58v1M58 80v1M59 78v1M60 22v1M60 57v1M61 79v2M62 58v1M63 20v1M63 57v2M63 79v1M65 103v1M66 57v1M67 22v1M67 55v1M68 21v1M68 60v1M69 58v1M69 67v1M70 19v1M70 57v1M70 60v1M70 77v1M71 59v1M71 79v1M72 58v1M72 60v1M72 75v1M73 55v1M73 58v1M74 84v1M75 57v1M75 61v1M75 76v1M75 80v1M76 79v1M78 58v1M78 79v1"/>
<path stroke="#00c7ff" d="M1 13v1M2 58v1M2 60v1M2 65v1M2 101v1M3 17v1M3 19v1M3 68v1M3 104v1M4 18v1M4 21v1M5 19v1M5 55v1M6 15v1M7 14v1M7 19v2M8 105v1M9 19v1M10 57v1M10 105v1M11 22v1M11 58v1M12 58v1M13 69v1M13 74v1M15 23v1M16 19v1M16 23v1M16 61v1M18 60v1M19 20v1M19 55v2M20 55v1M21 21v1M21 56v1M21 63v1M22 18v1M22 23v1M22 53v1M22 82v2M23 21v1M23 84v1M24 66v1M24 84v1M25 18v1M25 64v1M26 18v1M26 64v1M26 107v1M27 87v1M28 106v1M30 54v1M30 67v1M31 67v1M32 18v3M33 18v1M33 24v1M33 73v1M33 91v1M33 106v1M34 20v1M34 73v1M34 106v1M35 22v1M35 55v1M36 19v1M36 73v1M37 24v1M37 73v1M37 93v1M38 94v1M38 104v1M39 58v1M40 21v1M40 74v1M41 21v1M41 104v1M42 56v1M42 75v1M43 75v1M43 102v1M44 22v1M44 56v2M44 75v1M44 96v1M44 100v1M45 102v1M46 18v1M46 20v1M46 22v1M46 56v1M47 23v1M47 57v1M47 78v1M48 19v1M48 104v1M49 21v1M49 57v1M49 102v1M50 76v1M50 78v1M51 57v1M52 20v1M52 55v1M52 77v1M52 99v1M53 57v1M54 22v1M55 17v1M55 20v1M55 57v1M55 79v1M55 101v1M56 57v1M57 19v2M57 57v1M57 80v1M58 20v1M58 59v1M59 23v1M59 102v1M60 78v1M61 60v1M62 81v1M63 51v1M63 55v1M64 80v1M64 82v1M65 20v1M65 80v1M66 23v1M66 77v1M66 80v1M66 113v1M67 58v1M68 22v1M68 113v1M69 113v1M70 20v1M70 78v1M71 20v1M71 58v1M71 69v1M72 56v1M72 113v1M74 58v1M76 24v1M76 81v1M77 55v1M77 58v1M77 81v1M78 60v1M79 22v1M79 58v1M79 81v1"/>
<path stroke="#00d9ff" d="M0 19v1M0 58v1M1 19v1M1 105v1M1 113v1M2 18v1M2 54v1M3 57v1M4 54v1M4 105v1M6 18v1M7 22v1M8 53v1M9 21v1M9 57v1M11 21v1M12 20v2M12 23v1M12 62v1M13 71v1M13 105v1M14 20v1M15 55v1M16 21v1M16 107v1M17 18v1M17 60v1M18 18v1M18 61v1M18 79v1M19 54v1M19 58v1M19 107v1M20 21v1M20 60v1M21 52v1M21 57v1M22 20v1M23 17v1M23 107v1M25 22v1M25 113v1M26 22v1M27 52v1M27 54v1M28 54v1M29 21v2M29 69v1M30 24v1M30 51v1M30 70v1M32 22v1M32 54v1M33 53v1M34 22v1M35 21v1M35 59v1M35 73v1M35 103v1M36 20v1M36 54v1M36 75v2M37 19v1M37 57v1M40 19v1M40 76v1M41 52v1M41 106v1M44 54v1M44 105v1M45 19v1M45 59v1M46 57v1M46 60v1M46 102v1M47 79v1M47 102v1M48 77v1M49 76v1M50 53v1M50 77v1M50 98v1M51 18v1M51 21v1M51 80v1M51 101v1M52 23v1M52 100v1M52 103v1M52 105v1M52 113v1M53 22v1M54 18v1M54 60v1M55 19v1M55 24v1M55 58v1M55 80v1M57 79v1M57 103v1M58 24v1M59 20v1M59 56v1M60 113v1M61 55v1M61 58v1M62 21v1M62 75v1M62 113v1M63 22v1M63 60v1M64 19v1M64 113v1M65 19v1M65 58v1M66 24v1M66 55v1M67 23v1M67 53v1M68 79v1M69 83v1M70 102v1M71 22v1M71 82v2M72 22v1M72 55v1M72 80v2M73 23v1M73 57v1M73 59v1M77 21v1M77 82v1M79 79v2M79 82v1"/>
<path stroke="#00ebff" d="M1 54v2M1 58v1M2 19v1M2 113v1M3 21v1M5 20v1M5 56v1M6 21v1M6 101v1M6 113v1M7 21v1M7 56v1M7 58v1M8 21v1M9 54v1M9 104v1M10 60v1M13 18v1M13 21v1M15 19v1M15 21v1M17 50v1M17 62v1M18 23v1M18 52v1M19 79v1M20 63v2M21 20v1M21 23v1M22 21v2M22 52v1M23 51v1M23 83v1M24 20v1M24 22v1M24 64v1M25 21v1M25 58v1M25 66v1M25 106v1M26 54v1M26 85v1M27 51v1M28 67v1M29 16v1M29 107v1M30 22v1M30 71v1M30 107v1M31 20v1M31 55v1M32 70v1M33 54v1M34 56v1M34 92v1M35 92v1M37 22v1M37 76v1M38 75v1M39 55v1M39 106v1M40 97v1M41 22v1M41 78v1M42 22v1M42 95v1M43 29v1M43 55v1M45 60v1M45 78v1M46 24v1M46 77v2M46 97v1M46 105v1M46 107v1M47 25v1M47 77v1M48 22v1M49 81v1M49 103v1M50 56v2M50 75v1M50 101v2M50 113v1M51 56v1M51 58v1M52 21v1M53 103v1M55 59v1M55 102v1M55 106v1M56 100v1M58 84v1M59 101v1M60 61v1M63 24v1M63 56v1M63 81v1M64 22v2M64 57v1M64 81v1M64 104v1M65 82v1M66 21v1M66 79v1M67 80v1M69 76v1M70 81v1M70 83v1M71 21v1M71 55v1M73 62v1M73 81v1M74 22v1M76 56v1M79 25v1M79 85v1"/>
<path stroke="#00feff" d="M0 57v1M1 104v1M3 22v1M4 19v1M4 59v1M5 54v1M6 57v2M6 100v1M7 54v2M8 18v1M8 56v1M10 17v1M10 21v1M10 23v1M12 53v2M13 68v1M14 67v1M14 69v1M15 70v1M16 49v1M16 58v1M17 53v1M17 79v1M18 25v1M18 62v1M19 52v1M19 112v1M20 52v1M21 51v1M22 107v1M23 53v1M23 55v1M24 65v1M25 53v2M26 56v1M26 67v1M27 53v1M30 53v1M31 22v1M32 23v2M32 72v1M32 106v1M33 72v1M33 74v1M34 24v1M34 54v1M34 75v1M36 22v1M36 25v1M36 53v1M37 54v1M38 53v1M38 106v1M39 23v1M40 95v1M41 19v1M42 54v1M42 78v1M43 25v1M44 24v1M44 26v1M44 53v1M44 78v1M45 77v1M45 96v1M46 79v1M46 106v1M47 24v1M47 55v1M48 25v1M49 98v1M50 54v2M50 80v1M50 104v1M51 24v1M51 78v1M51 99v1M52 83v1M52 101v1M52 104v1M53 56v1M53 102v1M54 80v2M54 100v1M54 113v1M56 55v1M56 79v1M56 113v1M57 102v1M58 53v1M58 56v1M58 78v1M58 113v1M59 103v1M60 81v1M61 22v1M61 54v1M61 84v1M62 57v1M62 80v1M62 82v2M63 78v1M64 106v1M65 54v1M66 81v2M67 78v1M67 83v1M68 56v2M68 81v1M68 83v1M69 23v1M69 59v1M69 80v1M71 26v1M73 22v1M73 54v1M73 82v1M74 19v2M74 24v1M75 27v1M76 21v1M77 20v1M78 23v1M78 56v1M78 83v1M79 113v1"/>
<path stroke="#11ffee" d="M0 54v1M1 59v1M1 103v1M2 57v1M3 54v3M3 62v1M5 104v1M6 19v1M6 26v1M8 22v1M8 57v1M9 22v1M10 52v1M11 107v1M12 56v2M12 107v1M13 56v1M13 66v2M14 21v1M14 55v1M15 107v1M16 52v1M16 56v2M16 74v1M17 21v1M17 23v1M17 25v1M17 51v1M17 78v1M18 53v1M19 65v1M20 23v1M20 51v1M20 62v1M20 80v1M21 25v1M21 107v1M23 24v2M23 66v1M23 106v1M24 21v1M26 66v1M27 25v1M28 23v1M29 23v1M29 26v1M29 50v1M29 88v1M31 21v1M32 56v1M34 51v1M34 74v1M34 112v1M35 53v1M35 107v1M36 21v1M36 106v1M37 21v1M37 55v1M37 106v1M38 23v2M39 51v1M39 77v1M41 95v1M42 77v1M43 53v1M44 77v1M45 76v1M46 21v1M46 53v2M47 22v1M47 105v1M48 101v1M49 53v1M49 104v1M50 23v1M50 82v1M50 103v1M51 23v1M51 50v1M51 54v1M51 79v1M51 98v1M52 22v1M52 80v1M52 84v1M53 79v1M54 106v1M55 22v1M55 55v1M55 82v1M55 99v1M56 20v1M56 23v1M56 56v1M56 80v1M56 101v1M56 104v1M57 54v1M57 82v1M58 57v1M58 81v2M59 105v1M60 24v1M60 53v1M60 58v1M60 83v1M60 85v1M60 100v1M60 104v1M61 21v1M61 100v1M61 104v1M62 20v1M62 79v1M63 103v1M63 113v1M66 25v2M66 84v1M67 26v1M68 54v1M68 80v1M69 17v1M69 57v1M69 81v2M70 22v1M70 82v1M70 113v1M71 25v1M71 86v1M71 113v1M72 57v1M72 82v1M75 20v1M75 23v1M75 83v1M75 113v1M76 22v2M76 55v1M76 58v1M76 82v1M78 81v1"/>
<path stroke="#23ffdc" d="M0 22v1M1 21v1M1 53v1M2 102v1M4 20v1M5 21v1M5 101v2M6 54v2M8 52v1M8 54v1M9 55v2M10 20v1M11 23v1M12 59v1M13 65v1M14 54v1M15 25v1M15 56v1M15 60v1M15 72v1M16 59v1M17 108v1M19 24v1M19 48v1M19 63v1M20 22v1M20 53v1M20 112v1M21 24v1M21 62v1M22 25v1M23 22v1M24 52v1M25 85v1M26 53v1M27 26v1M27 68v1M27 107v1M28 25v1M28 52v1M28 87v1M29 27v1M29 51v3M30 72v1M30 112v1M31 50v1M33 23v1M33 107v1M34 26v1M34 53v1M34 91v1M35 26v1M35 75v2M36 74v1M36 107v1M36 112v1M37 53v1M37 74v1M38 52v1M38 74v1M39 94v1M40 105v1M41 20v1M41 54v1M41 56v1M41 77v1M43 24v1M43 80v1M43 96v1M45 25v1M45 55v1M45 80v1M46 23v1M46 96v1M46 113v1M47 53v1M48 53v1M48 57v1M49 106v1M50 106v1M52 25v1M52 27v1M52 102v1M53 54v1M54 55v1M54 82v1M54 104v1M55 21v1M55 52v1M55 113v1M56 58v1M56 83v1M56 105v1M57 22v1M58 55v1M58 100v1M58 102v1M59 24v1M59 54v2M59 79v1M60 25v1M60 55v2M60 82v1M60 101v2M60 105v1M61 24v1M61 56v1M61 105v1M61 113v1M62 26v1M62 54v2M62 78v1M63 23v1M63 82v1M64 21v1M64 24v1M64 55v1M64 102v1M65 23v1M65 28v1M65 101v2M66 56v1M67 25v1M67 54v1M67 104v1M68 25v1M68 84v1M70 23v1M70 54v2M71 23v1M71 56v1M72 23v1M72 86v1M73 83v1M73 113v1M74 81v2M75 53v1M76 53v1M76 113v1M77 56v1M78 24v1M78 82v1M79 24v1M79 56v2M79 105v1"/>
<path stroke="#35ffca" d="M0 18v1M0 64v1M0 112v1M1 22v1M1 24v1M1 56v1M1 106v1M2 22v2M2 53v1M3 20v1M3 23v1M3 52v1M4 56v1M7 23v1M7 57v1M9 23v1M9 50v2M9 105v1M10 22v1M11 52v1M12 24v2M12 52v1M12 55v1M13 25v2M13 28v1M13 52v1M13 57v1M13 60v1M14 22v2M14 107v1M15 22v1M15 24v1M15 54v1M16 26v1M17 48v1M17 52v1M17 56v1M18 26v1M18 51v1M21 27v1M21 53v1M22 24v1M22 64v2M24 19v1M24 54v1M24 67v1M25 23v2M25 26v1M25 50v1M25 67v1M26 69v1M27 23v1M27 48v1M27 55v1M27 69v1M28 21v1M28 27v1M29 28v1M29 72v1M30 50v1M31 27v1M31 53v1M31 107v1M32 53v1M32 107v1M33 55v1M34 23v1M34 107v1M35 54v1M36 26v1M36 55v2M38 25v1M38 51v1M38 77v2M39 26v1M40 20v1M40 23v3M40 27v1M40 78v1M40 96v1M40 106v2M42 24v1M42 26v1M43 22v1M43 54v1M43 78v1M43 106v1M44 23v1M44 49v1M44 106v1M45 21v1M45 26v1M46 81v1M47 54v1M47 107v1M48 23v2M48 81v1M48 97v1M48 103v1M49 22v1M49 24v1M49 54v1M49 105v1M50 97v1M51 106v1M51 113v1M52 54v1M53 24v2M53 55v1M53 100v1M54 24v2M54 105v1M55 104v2M56 82v1M56 102v1M57 100v1M57 113v1M58 83v1M59 22v1M60 54v1M60 59v1M61 52v2M61 82v1M61 86v1M62 24v2M62 101v1M63 25v1M64 56v1M64 103v1M64 105v1M65 53v1M65 56v1M65 83v1M65 113v1M66 53v2M67 103v1M67 113v1M68 55v1M69 22v1M69 24v1M69 54v1M69 86v1M70 24v1M70 103v2M71 24v1M71 27v1M71 54v1M71 57v1M71 103v1M72 88v1M74 53v1M74 55v1M74 85v1M74 113v1M75 25v1M75 81v1M75 85v2M76 25v1M78 25v2M78 59v1M79 55v1"/>
<path stroke="#48ffb7" d="M0 53v1M0 55v1M4 24v1M4 52v1M4 55v1M6 53v1M6 103v1M7 53v1M9 52v2M10 55v1M11 26v1M11 51v1M11 108v1M12 22v1M12 112v1M13 55v1M13 63v2M13 107v1M14 24v1M14 27v1M14 68v1M15 51v2M15 71v1M16 24v1M16 51v1M17 24v1M17 112v1M19 51v1M19 64v1M19 77v2M21 22v1M21 49v1M21 65v1M22 26v1M23 50v1M23 52v1M24 23v1M24 53v1M25 51v1M25 107v1M26 112v1M27 71v1M28 71v1M28 107v1M29 54v1M30 28v1M31 52v1M31 72v2M32 49v1M32 52v1M32 73v1M33 49v1M33 52v1M35 23v1M36 28v1M37 20v1M37 23v1M37 75v1M38 49v1M38 107v1M39 53v1M39 76v1M40 108v1M40 112v1M41 51v1M42 52v1M42 79v1M43 27v1M43 51v1M44 25v1M44 51v1M47 82v1M48 52v1M48 54v1M48 56v1M48 78v2M49 80v1M49 83v1M50 81v1M50 105v1M51 25v1M51 81v1M51 104v1M52 24v1M52 51v1M52 53v1M52 98v1M53 27v1M53 52v1M53 80v1M54 56v1M54 103v1M55 51v1M55 103v1M57 26v1M57 81v1M57 83v2M57 105v1M58 25v1M58 101v1M59 51v1M59 53v1M59 100v1M61 51v1M61 81v1M62 56v1M62 100v1M62 104v2M63 53v1M64 20v1M64 54v1M65 24v1M65 26v1M65 104v1M66 51v2M66 104v1M67 82v1M68 51v1M68 105v2M69 53v1M70 56v1M71 53v1M71 102v1M72 53v2M72 83v1M72 106v1M73 53v1M74 57v1M74 86v1M75 51v1M75 103v2M76 83v2M76 104v1M77 24v4M77 54v1M77 86v1M77 105v1M78 57v1M79 23v1M79 26v1M79 84v1"/>
<path stroke="#5affa5" d="M0 56v1M1 23v1M2 25v1M2 50v1M2 103v2M4 22v1M4 106v1M5 22v2M6 22v3M6 102v1M8 23v1M10 26v1M10 106v1M11 53v1M12 27v1M12 51v1M13 23v1M13 48v1M13 58v1M13 61v1M14 25v1M14 52v1M15 58v1M15 61v1M16 22v1M16 25v1M16 50v1M16 53v1M16 112v1M17 61v1M18 47v1M18 49v2M18 63v2M18 107v1M19 26v1M20 25v2M20 78v2M20 108v1M22 50v1M23 48v1M24 26v1M24 50v1M24 107v1M25 25v1M26 25v1M26 52v1M26 68v1M27 24v1M27 86v1M28 45v1M28 51v1M29 24v1M29 70v1M30 25v1M31 24v2M32 27v1M33 90v1M34 27v1M35 24v1M35 51v1M35 77v1M35 91v1M37 26v1M37 78v1M38 50v1M38 54v1M38 76v1M38 92v1M39 79v1M39 93v1M40 52v1M41 24v1M42 27v1M42 53v1M42 55v1M43 48v1M43 81v1M45 56v1M45 95v1M46 95v1M47 52v1M47 80v1M48 27v1M48 51v1M49 23v1M49 26v1M49 55v1M49 79v1M49 82v1M50 22v1M50 83v1M51 82v2M51 103v1M52 81v1M53 82v1M54 26v1M54 53v2M54 99v1M55 25v1M55 54v1M56 24v2M56 51v1M56 53v1M56 81v1M56 106v1M57 25v1M57 53v1M57 56v1M58 26v1M58 52v1M58 54v1M59 25v1M59 50v1M59 84v1M59 104v1M59 106v1M60 23v1M62 52v1M63 84v1M63 104v2M64 25v1M64 83v1M64 85v1M64 101v1M65 84v2M65 88v1M66 102v1M67 52v1M67 86v1M67 105v1M68 24v1M68 82v1M69 84v2M70 52v1M72 21v1M72 52v1M72 104v1M73 25v1M73 84v2M74 23v1M74 25v2M74 104v2M75 54v1M75 87v1M76 52v1M76 85v1M77 22v2M77 57v1M77 83v1M77 88v1M77 104v1M79 103v1"/>
<path stroke="#6cff93" d="M0 51v1M1 52v1M1 112v1M2 21v1M3 106v2M4 23v1M4 53v1M4 104v1M5 24v1M6 52v1M7 52v1M8 24v1M8 51v1M8 106v1M9 27v1M10 50v1M13 24v1M13 53v2M14 49v1M14 58v1M14 60v1M14 112v1M16 27v1M16 71v1M17 77v1M18 24v1M18 48v1M19 25v1M19 27v2M19 47v1M19 66v1M19 76v1M19 108v1M20 24v1M22 28v1M22 51v1M22 66v1M23 67v2M23 70v1M23 112v1M24 51v1M25 68v1M25 112v1M26 23v2M26 27v1M26 108v1M27 27v1M27 49v1M27 70v1M28 28v2M28 48v1M28 72v1M29 25v1M29 29v1M29 47v2M29 71v1M29 112v1M30 23v1M30 47v1M30 49v1M30 73v1M31 28v1M31 49v1M31 74v1M31 88v2M31 112v1M32 25v1M34 30v1M34 52v1M34 76v2M36 23v1M36 78v1M37 25v1M37 47v1M38 22v1M39 25v1M40 50v1M40 53v1M41 26v1M41 79v1M42 28v1M42 81v1M42 94v1M43 26v1M44 95v1M45 24v1M46 25v2M46 80v1M46 82v1M47 26v1M47 48v1M48 82v1M51 52v2M51 105v1M53 81v1M53 98v1M54 79v1M55 50v1M57 50v1M57 104v1M58 23v1M58 50v2M58 104v1M60 27v1M61 83v1M61 87v1M61 106v1M62 27v1M62 84v1M63 54v1M64 51v1M65 51v1M65 81v1M66 83v1M66 106v1M67 27v1M67 31v1M67 101v2M67 106v1M69 20v1M69 26v1M69 103v1M69 105v1M70 25v1M70 101v1M70 105v1M72 25v1M72 27v1M72 84v1M72 102v1M72 105v1M73 26v1M73 52v1M75 56v1M75 107v1M77 85v1M77 103v1M77 113v1M78 27v1M78 86v1M78 104v1M78 106v1M79 106v1"/>
<path stroke="#7eff81" d="M0 24v2M0 52v1M2 20v1M2 52v1M3 25v1M3 51v1M3 53v1M4 50v1M5 51v1M6 104v1M7 24v1M7 51v1M8 25v1M9 25v2M9 28v1M9 49v1M10 25v1M10 107v1M10 112v1M11 46v1M13 62v1M14 65v1M15 26v1M15 57v1M15 59v1M15 63v2M15 69v1M15 112v1M16 60v1M17 27v1M17 47v1M17 49v1M17 63v1M19 32v1M19 50v1M20 48v1M20 50v1M20 65v1M20 67v1M21 26v1M21 50v1M21 82v1M22 29v1M22 49v1M22 63v1M22 81v1M23 29v1M24 68v1M24 112v1M25 69v1M26 50v1M26 71v1M27 28v1M27 47v1M27 50v1M27 112v1M28 49v1M28 53v1M28 86v1M29 31v2M30 26v1M30 30v1M30 48v1M30 88v1M34 28v1M35 27v1M35 32v1M35 48v1M35 50v1M35 52v1M36 27v1M36 50v1M37 50v1M37 77v1M37 107v1M39 27v1M39 78v1M40 22v1M41 25v1M41 27v1M41 112v1M42 25v1M42 50v1M42 107v1M44 27v1M44 79v1M45 27v1M45 51v1M45 53v1M46 49v1M46 84v1M47 27v1M47 96v1M47 104v1M48 28v1M48 107v1M48 112v1M49 29v1M49 51v1M49 97v1M50 24v3M50 50v1M51 29v1M51 51v1M52 28v2M52 49v1M52 52v1M52 82v1M53 23v1M53 50v2M54 51v2M54 84v1M54 112v1M55 28v1M55 107v1M56 54v1M57 87v1M57 106v1M58 105v1M58 112v1M59 27v1M59 52v1M59 83v1M60 51v2M60 84v1M60 103v1M61 26v1M61 107v1M62 51v1M62 53v1M63 27v1M63 85v2M63 101v1M64 26v1M65 86v1M66 28v1M66 85v1M66 105v1M67 84v1M67 88v1M68 26v1M68 86v1M69 27v1M69 56v1M70 107v1M71 50v1M71 87v2M71 104v1M73 27v1M73 29v1M73 103v3M74 91v1M74 103v1M75 55v1M75 84v1M75 88v2M76 51v1M76 86v1M78 55v1M78 85v1M78 89v1M79 27v1M79 29v1M79 54v1"/>
<path stroke="#91ff6e" d="M0 20v1M3 24v1M4 47v1M4 49v1M4 51v1M5 26v1M5 105v1M6 50v2M7 29v1M7 48v1M7 106v1M8 26v2M8 46v1M8 48v3M9 24v1M10 47v2M12 50v1M13 51v1M13 112v1M14 48v1M14 59v1M14 61v1M15 49v2M15 53v1M15 62v1M15 66v2M15 108v1M16 28v1M16 72v1M18 78v1M19 75v1M20 77v1M21 29v1M21 34v1M22 47v1M22 67v2M22 108v1M23 26v1M23 28v1M23 45v1M23 49v1M24 29v1M24 49v1M24 69v1M25 32v1M25 48v1M25 84v1M26 48v1M26 84v1M27 46v1M29 46v1M29 49v1M30 46v1M31 23v1M31 26v1M31 31v1M31 51v1M32 28v1M32 31v1M32 108v1M33 25v1M33 28v1M33 30v1M33 50v2M33 75v2M33 108v1M33 112v1M34 25v1M34 49v1M36 77v1M36 92v1M37 27v3M37 51v1M38 27v2M38 30v2M38 46v1M38 79v1M39 32v1M39 52v1M39 80v1M40 51v1M40 80v1M41 23v1M41 53v1M41 107v1M42 47v1M42 106v1M42 112v1M43 34v1M43 36v1M43 46v1M43 52v1M43 79v1M44 30v2M44 107v1M45 48v1M45 54v1M45 79v1M46 29v1M47 30v1M47 50v1M47 108v1M48 29v1M49 49v1M49 52v1M49 96v1M49 112v1M50 29v1M50 112v1M51 26v2M51 49v1M53 26v1M53 49v1M53 84v1M53 106v1M54 27v1M54 83v1M55 23v1M55 27v1M55 49v1M55 85v1M56 50v1M56 85v1M56 99v1M57 52v1M57 85v1M57 101v1M58 27v1M58 88v1M58 103v1M59 26v1M59 29v1M59 57v1M59 81v1M59 85v1M59 113v1M60 26v1M60 29v1M61 88v1M61 102v1M62 30v1M62 49v1M62 85v1M62 102v1M63 52v1M63 102v1M63 106v1M64 53v1M65 25v1M65 30v1M65 49v1M65 55v1M66 27v1M66 88v1M67 107v1M68 23v1M68 53v1M69 51v1M69 104v1M70 88v1M70 106v1M71 28v1M71 84v2M71 90v1M71 106v1M72 24v1M72 51v1M72 85v1M73 51v1M73 88v1M74 27v1M74 29v1M74 54v1M74 88v1M74 102v1M75 26v1M75 102v1M76 27v1M78 51v1M78 103v1M79 53v1"/>
<path stroke="#a3ff5c" d="M0 108v1M1 26v1M2 24v1M2 28v1M2 49v1M3 48v2M5 25v1M5 49v2M6 105v1M7 25v3M9 46v1M9 106v1M10 24v1M10 31v1M10 51v1M11 25v1M12 45v1M13 47v1M13 108v1M14 26v1M14 56v1M15 29v1M15 48v1M15 68v1M16 48v1M16 54v1M16 63v1M17 28v1M18 28v2M18 33v1M18 44v1M18 112v1M19 49v1M20 27v1M20 32v1M20 49v1M20 68v1M21 28v1M21 32v2M21 47v1M21 66v1M21 108v1M22 27v1M22 43v1M23 82v1M24 25v1M24 48v1M25 28v1M25 46v2M25 70v1M26 26v1M26 32v1M28 31v1M28 39v1M28 41v1M28 47v1M28 112v1M29 33v1M30 27v1M30 52v1M33 29v1M35 25v1M36 30v1M36 49v1M36 52v1M38 29v1M38 47v1M38 81v1M39 28v2M39 46v1M39 112v1M40 26v1M40 28v1M40 94v1M41 94v1M42 30v1M43 83v1M43 107v1M44 33v1M44 48v1M44 52v1M44 81v1M45 28v1M45 52v1M45 81v2M46 27v2M46 51v2M46 108v1M47 28v1M47 47v1M48 26v1M48 31v1M48 43v1M48 50v1M48 85v1M48 106v1M49 25v1M49 50v1M50 27v1M50 48v2M50 86v1M50 107v1M51 97v1M52 26v1M53 53v1M53 105v1M54 85v1M54 98v1M54 107v1M55 83v1M57 49v1M59 82v1M59 112v1M60 112v1M61 25v1M61 27v1M61 49v1M61 101v1M62 28v1M62 103v1M63 26v1M63 107v1M63 112v1M64 107v1M65 87v1M66 29v2M66 49v1M66 103v1M66 107v1M67 48v1M68 27v2M68 52v1M68 103v2M69 28v1M69 55v1M69 88v1M69 102v1M70 26v1M70 29v1M70 51v1M70 84v2M71 31v1M72 26v1M72 48v1M73 24v1M73 87v1M73 106v1M74 33v1M74 106v1M75 24v1M75 49v1M75 52v1M75 105v1M76 103v1M77 28v1M77 49v1M77 87v1M77 89v1M77 91v1M78 22v1M78 28v1M78 87v1M79 52v1M79 83v1M79 86v1M79 104v1"/>
<path stroke="#b5ff4a" d="M0 107v1M1 51v1M1 107v1M2 27v1M3 27v1M3 112v1M4 25v3M4 107v1M6 25v1M7 112v1M8 107v1M9 35v1M9 48v1M10 44v2M10 49v1M11 24v1M11 47v2M11 50v1M11 111v1M12 26v1M12 48v2M13 30v1M13 32v1M13 59v1M14 29v1M14 53v1M14 57v1M14 63v1M14 66v1M15 27v1M15 31v1M16 75v1M17 29v2M17 36v1M18 66v1M19 29v1M19 69v1M20 29v2M20 47v1M21 109v1M21 112v1M22 30v1M22 48v1M23 27v1M23 31v1M23 33v1M24 46v1M24 83v1M25 27v1M26 51v1M27 31v1M27 44v1M28 26v1M28 43v1M28 50v1M29 30v1M29 44v1M29 73v1M30 87v1M31 48v1M31 108v1M32 26v1M32 29v1M32 48v1M32 75v2M33 27v1M33 77v1M34 32v1M34 48v1M34 50v1M34 90v1M35 29v1M35 31v1M35 36v1M35 47v1M35 49v1M36 29v1M37 31v1M37 49v1M37 92v1M37 108v1M37 112v1M38 35v1M38 48v1M38 112v1M39 48v2M40 77v1M40 79v1M41 80v2M42 31v1M42 45v1M42 49v1M42 51v1M43 35v1M43 50v1M44 28v1M44 80v1M46 50v1M46 83v1M46 86v1M46 112v1M47 29v1M47 81v1M47 112v1M48 34v1M48 84v1M49 85v1M50 84v1M51 84v1M52 31v1M52 107v1M53 87v1M54 23v1M54 29v1M54 48v1M55 53v1M55 84v1M55 87v1M56 52v1M56 87v1M57 30v1M57 51v1M57 99v1M57 107v1M58 85v1M58 99v1M58 106v1M59 33v1M59 47v3M59 88v1M59 99v1M60 88v1M60 106v1M61 85v1M62 86v1M62 106v2M63 28v1M63 47v1M64 27v1M65 27v1M65 29v1M65 52v1M65 89v1M66 31v1M66 46v1M66 48v1M66 86v1M67 28v1M67 51v1M67 87v1M68 29v2M68 85v1M68 101v2M68 107v1M69 87v1M69 106v1M69 112v1M70 86v2M71 44v1M71 105v1M72 28v1M72 90v1M72 107v1M73 28v1M73 31v1M73 48v1M73 90v1M73 102v1M74 51v1M74 87v1M75 31v1M75 47v1M75 106v1M76 26v1M76 30v2M76 54v1M76 88v2M76 105v1M77 29v2M77 50v3M77 90v1M77 92v1M78 53v1M78 84v1M78 91v1M78 105v1"/>
<path stroke="#c7ff38" d="M0 27v1M1 25v1M1 28v1M1 49v2M2 51v1M3 26v1M3 28v1M3 47v1M3 50v1M4 29v1M4 112v1M6 27v2M7 49v1M7 107v1M8 28v2M8 44v1M8 112v1M9 29v1M9 45v1M9 47v1M11 31v1M11 41v1M11 49v1M12 31v2M12 40v1M12 110v1M13 27v1M13 31v1M13 38v1M13 46v1M13 50v1M14 30v1M14 44v1M14 46v1M14 50v2M15 44v1M16 30v1M16 62v1M16 64v1M16 73v1M16 108v1M17 32v1M17 41v1M17 46v1M18 27v1M18 31v1M18 108v1M19 30v2M19 45v2M20 31v1M22 33v1M23 47v1M23 72v1M23 108v1M24 34v1M25 30v1M25 49v1M26 30v1M26 42v1M27 29v1M27 35v1M27 40v1M27 43v1M27 45v1M28 34v1M28 40v1M28 108v1M29 87v1M30 44v1M31 30v1M31 42v1M32 30v1M32 45v1M32 50v1M32 74v1M32 89v1M33 26v1M33 46v1M33 78v1M33 109v1M34 39v1M34 47v1M34 108v1M35 108v1M36 32v1M36 45v2M36 51v1M37 30v1M37 80v1M38 45v1M39 92v1M39 108v1M40 46v2M42 108v1M43 33v1M43 94v1M44 50v1M45 83v1M45 107v1M46 32v2M46 48v1M47 45v1M47 49v1M47 51v1M47 83v3M48 30v1M48 38v1M48 83v1M49 27v1M49 107v1M50 30v1M50 32v1M50 52v1M51 28v1M51 30v1M51 38v1M51 46v2M51 85v1M51 87v1M52 35v1M52 50v1M52 85v1M53 28v1M53 83v1M53 85v1M53 107v1M54 30v1M54 32v1M54 86v1M55 26v1M55 29v1M56 26v1M56 30v1M56 103v1M56 112v1M57 28v1M57 32v1M57 48v1M58 28v1M58 86v2M58 107v1M59 28v1M59 45v1M60 28v1M60 107v1M61 30v1M61 47v2M61 99v1M61 112v1M63 32v1M63 83v1M63 87v1M63 100v1M64 52v1M64 87v1M65 50v1M65 105v2M66 37v2M66 89v1M66 101v1M66 112v1M67 30v1M67 32v1M67 45v1M67 49v2M68 47v2M68 88v1M69 89v1M70 31v1M70 53v1M71 51v2M71 89v1M72 47v1M72 92v1M72 112v1M73 49v2M73 86v1M73 91v1M74 28v1M74 31v1M74 52v1M74 89v1M75 33v2M75 90v1M76 29v1M76 102v1M76 106v1M77 31v1M77 84v1M77 102v1M77 106v1M78 49v1M78 54v1M79 50v1M79 87v2M79 90v1"/>
<path stroke="#daff25" d="M0 26v1M0 46v2M0 50v1M0 111v1M1 27v1M1 47v2M2 26v1M2 45v1M2 47v1M3 29v1M3 36v1M5 27v1M5 52v2M6 29v1M6 46v1M6 106v1M7 28v1M7 31v1M8 45v1M10 28v1M10 41v1M10 108v1M11 27v1M11 110v1M12 41v1M13 34v1M13 37v1M13 49v1M14 47v1M14 109v1M15 28v1M15 43v1M15 109v1M16 29v1M16 32v1M16 43v1M16 70v1M17 26v1M17 40v1M17 66v1M17 76v1M18 30v1M18 37v1M18 41v1M18 43v1M18 46v1M18 65v1M19 42v1M19 44v1M20 66v1M20 71v1M21 31v1M21 45v1M21 67v1M22 70v1M22 112v1M23 32v1M23 41v1M23 46v1M23 69v1M24 28v1M24 44v1M24 82v1M24 108v1M25 35v1M26 43v1M26 70v1M26 72v1M27 42v1M27 73v1M27 108v1M28 30v1M28 46v1M28 73v1M29 36v1M30 31v1M30 35v1M30 74v1M31 29v1M31 75v1M33 45v1M33 47v1M34 46v1M34 78v2M35 28v1M35 46v1M35 112v1M36 31v1M37 32v1M37 34v1M37 44v1M37 46v1M38 108v1M39 34v1M39 37v1M39 44v1M39 50v1M39 81v1M39 107v1M40 81v1M41 28v1M41 47v1M41 50v1M42 34v1M42 44v1M43 28v1M43 32v1M43 49v1M43 84v1M43 112v1M44 29v1M44 42v1M44 44v1M44 82v2M45 30v1M45 33v1M45 50v1M46 35v1M46 38v1M47 39v1M48 33v1M48 49v1M49 32v1M49 84v1M49 108v1M50 28v1M50 45v1M51 43v1M52 30v1M52 48v1M52 86v1M53 32v1M53 47v2M53 97v1M53 112v1M54 50v1M56 27v1M56 47v1M56 88v1M57 27v1M57 29v1M57 44v1M57 86v1M57 88v1M58 29v2M58 48v1M59 107v1M60 31v1M60 35v1M60 86v1M61 29v1M61 50v1M62 34v1M62 87v1M63 30v1M63 48v1M63 50v1M63 89v1M64 28v1M64 31v1M64 33v1M64 86v1M64 88v2M64 112v1M65 32v1M65 34v1M66 32v1M66 42v1M66 87v1M67 29v1M67 33v1M69 29v2M69 48v3M69 101v1M70 48v1M70 89v2M71 29v1M71 46v1M71 49v1M71 107v1M72 30v1M72 89v1M72 101v1M73 30v1M73 34v1M74 32v1M74 50v1M74 90v1M74 107v1M75 30v1M75 48v1M76 28v1M76 32v1M76 90v3M77 32v1M77 53v1M78 90v1M78 113v1M79 28v1M79 31v1M79 48v1M79 51v1M79 89v1M79 107v1"/>
<path stroke="#ecff13" d="M0 28v1M0 48v1M0 109v1M1 29v1M1 31v1M2 29v3M2 105v1M3 31v1M3 41v1M3 46v1M4 48v1M4 108v1M5 28v3M5 45v1M5 103v1M6 40v1M6 44v1M6 49v1M6 112v1M7 46v2M7 50v1M8 32v1M8 39v1M8 41v1M10 29v1M10 46v1M11 28v3M11 35v1M11 37v1M12 36v2M14 31v3M14 45v1M15 33v1M15 35v1M15 46v1M16 35v1M16 47v1M16 65v1M16 68v1M17 31v1M17 37v1M17 43v1M17 45v1M17 64v1M17 75v1M18 35v1M18 38v1M18 45v1M18 109v1M19 40v1M19 43v1M20 34v1M20 36v1M20 42v1M20 109v1M21 42v1M21 46v1M22 44v1M23 34v2M23 80v1M24 30v4M24 35v1M24 37v1M24 47v1M25 29v1M25 31v1M25 33v1M25 108v1M26 29v1M26 31v1M26 34v2M26 73v1M27 30v1M27 33v2M27 37v1M27 39v1M28 32v1M28 38v1M28 44v1M29 37v1M29 40v1M29 42v1M29 45v1M29 75v1M29 108v1M30 32v1M30 43v1M30 45v1M30 75v1M31 44v1M31 46v2M32 51v1M33 32v1M33 34v1M33 44v1M33 48v1M34 29v1M34 31v1M35 33v2M35 78v3M35 90v1M36 48v1M36 80v1M36 108v1M37 43v1M38 26v1M40 29v1M40 32v1M40 44v1M40 49v1M42 32v2M42 48v1M43 40v1M43 82v1M44 40v1M44 84v1M44 112v1M45 29v1M45 32v1M45 36v1M45 45v1M45 112v1M46 30v1M46 41v1M46 85v1M47 34v1M48 36v1M48 47v1M48 108v1M49 28v1M49 48v1M50 46v1M50 85v1M51 33v1M51 35v1M51 48v1M51 86v1M52 32v1M52 87v1M52 97v1M53 86v1M53 88v1M53 108v1M54 33v1M54 47v1M55 30v1M56 22v1M56 28v2M56 49v1M56 84v1M56 86v1M57 47v1M58 37v3M58 41v1M59 34v1M59 36v1M59 46v1M59 87v1M59 89v1M60 45v1M60 47v1M60 49v1M60 87v1M60 108v1M61 46v1M62 31v1M62 88v1M62 112v1M63 37v1M63 46v1M63 49v1M64 46v1M64 50v1M64 84v1M64 108v1M65 31v1M65 108v1M66 44v1M67 35v1M67 39v1M67 85v1M67 89v1M68 35v1M68 45v1M68 49v1M68 87v1M68 90v1M69 25v1M69 90v1M70 27v1M70 49v2M71 30v1M71 32v1M72 31v1M72 50v1M72 87v1M72 91v1M72 108v1M73 89v1M74 30v1M74 92v1M75 28v1M75 50v1M75 91v1M76 48v3M76 87v1M76 107v1M76 112v1M77 107v1M78 31v1M78 33v1M78 36v1M78 50v1M78 52v1M78 88v1M78 92v1M79 32v1"/>
<path stroke="#feff01" d="M0 29v1M1 32v1M2 39v1M3 38v1M4 30v2M4 33v1M5 33v1M5 47v1M6 38v1M6 45v1M6 47v1M7 33v1M7 35v1M7 39v1M7 42v1M7 44v1M8 30v2M8 43v1M8 108v1M9 30v1M9 32v1M9 44v1M10 32v2M11 44v1M11 109v1M12 28v3M12 33v1M12 39v1M12 44v1M12 46v1M12 108v2M13 42v4M14 64v1M15 30v1M15 32v1M15 42v1M15 47v1M15 65v1M16 34v1M16 41v1M16 69v1M18 32v1M18 42v1M18 77v1M19 33v1M19 67v1M19 74v1M20 28v1M20 35v1M20 70v1M21 36v1M21 40v1M21 48v1M22 31v2M22 39v1M22 46v1M23 30v1M23 37v1M23 39v1M23 81v1M24 27v1M24 39v1M24 43v1M24 70v1M25 34v1M25 44v1M25 72v1M26 33v1M26 36v2M26 41v1M26 47v1M26 49v1M27 85v1M28 33v1M28 35v2M28 42v1M29 34v1M29 41v1M30 33v1M30 38v1M30 41v1M30 108v1M31 34v1M31 76v1M32 41v1M32 44v1M32 46v1M32 112v1M33 35v1M33 41v1M34 33v1M34 44v2M35 39v1M35 44v1M36 34v1M36 41v1M36 47v1M37 42v1M37 48v1M37 79v1M37 81v1M38 32v1M38 34v1M38 41v1M38 43v1M38 80v1M39 35v2M39 43v1M40 45v1M40 48v1M40 82v1M40 93v1M41 33v1M41 40v1M41 82v1M42 29v1M42 36v2M42 83v2M43 30v1M43 37v2M43 43v2M44 34v1M44 38v1M44 47v1M45 35v1M45 40v1M45 49v1M45 85v1M46 43v1M46 46v2M47 31v1M47 33v1M47 35v1M47 37v1M47 43v1M47 86v1M48 40v1M48 45v1M48 48v1M49 30v1M49 46v1M49 86v1M50 31v1M50 34v1M50 37v1M50 108v1M51 31v1M51 37v1M51 39v1M51 44v2M51 107v1M51 112v1M52 46v2M52 112v1M53 30v1M54 44v1M54 87v2M55 31v1M55 47v2M55 86v1M56 31v1M56 89v1M56 98v1M57 31v1M57 33v1M57 46v1M57 112v1M58 31v1M58 33v1M58 49v1M59 31v2M59 37v1M59 42v1M59 86v1M59 108v1M60 30v1M60 48v1M60 50v1M60 89v1M61 33v1M61 89v2M62 33v1M62 44v1M62 50v1M62 89v1M63 29v1M63 44v1M64 90v1M64 100v1M65 37v1M65 47v1M65 107v1M65 112v1M66 34v1M66 39v1M66 45v1M66 50v1M66 100v1M67 44v1M67 90v1M67 112v1M68 31v1M68 33v1M68 46v1M68 50v1M69 34v1M69 52v1M69 107v1M70 112v1M71 33v1M71 91v1M72 29v1M72 33v2M73 36v1M73 92v1M73 101v1M74 34v1M74 49v1M74 112v1M76 34v1M77 93v1M78 29v2M78 35v1M78 93v1M78 112v1M79 30v1"/>
<path stroke="#ffee00" d="M0 23v1M0 30v1M0 49v1M1 30v1M1 43v1M2 35v1M2 38v1M3 30v1M3 32v2M3 39v1M3 43v3M4 28v1M4 32v1M4 45v1M5 44v1M5 106v1M6 30v1M6 33v1M6 43v1M7 30v1M7 36v1M7 40v1M8 47v1M9 36v1M9 42v1M9 107v1M10 27v1M10 30v1M10 42v1M11 42v1M12 47v1M12 111v1M13 33v1M13 35v1M13 40v1M13 109v1M14 36v2M14 39v1M14 41v1M14 43v1M14 62v1M15 40v2M15 111v1M16 31v1M16 33v1M16 37v1M16 39v1M16 44v3M16 67v1M17 34v1M17 39v1M17 44v1M17 65v1M17 73v2M18 39v2M18 67v1M18 111v1M19 36v1M19 39v1M19 70v1M19 72v1M19 109v1M20 43v1M20 45v1M20 76v1M21 37v2M21 43v1M21 81v1M22 37v1M22 45v1M22 69v1M22 71v1M23 38v1M23 40v1M23 44v1M23 71v1M24 36v1M24 40v1M24 42v1M24 45v1M25 36v1M25 41v2M25 45v1M25 71v1M26 28v1M26 44v2M26 82v2M27 32v1M27 41v1M28 37v1M28 74v2M28 85v1M29 38v1M30 34v1M30 39v1M31 40v1M31 45v1M32 43v1M32 47v1M33 31v1M33 33v1M33 79v1M34 41v1M35 30v1M36 33v1M36 37v4M36 43v1M37 36v1M37 38v1M37 40v1M37 45v1M38 37v1M38 39v1M38 91v1M39 30v2M39 40v1M39 42v1M39 45v1M39 47v1M40 39v1M40 43v1M41 32v1M41 34v1M41 37v1M41 44v1M41 46v1M41 49v1M41 83v1M41 108v1M42 40v1M42 46v1M42 80v1M42 82v1M43 42v1M44 35v2M44 39v1M44 41v1M44 45v1M45 43v1M45 108v1M46 31v1M46 34v1M46 109v1M47 95v1M48 35v1M48 37v1M48 86v1M48 96v1M49 31v1M49 39v1M49 44v2M49 109v1M50 38v2M50 41v1M50 47v1M50 51v1M50 87v1M50 96v1M51 34v1M51 41v2M51 108v1M52 36v2M52 45v1M52 106v1M53 31v1M53 33v1M53 46v1M54 46v1M55 33v1M55 46v1M55 98v1M56 45v1M56 48v1M56 107v2M57 35v1M57 98v1M58 32v1M59 30v1M59 35v1M59 38v1M60 42v1M60 99v1M61 28v1M61 32v1M61 34v2M61 40v1M61 44v1M62 29v1M62 35v3M62 46v3M62 90v1M62 99v1M63 31v1M63 35v1M63 42v1M63 90v1M64 30v1M64 45v1M64 47v3M65 40v1M65 44v1M65 46v1M65 91v1M65 100v1M66 36v1M66 40v2M66 47v1M66 91v1M67 37v1M67 42v2M67 46v2M68 32v1M68 34v1M68 44v1M68 91v1M70 28v1M70 35v1M70 46v1M70 91v1M71 41v1M71 48v1M71 101v1M71 112v1M72 36v1M72 40v1M72 103v1M73 40v1M73 47v1M73 107v1M74 38v1M74 93v1M75 29v1M75 32v1M75 35v1M75 44v3M76 36v1M76 46v1M77 36v1M77 46v1M78 102v1M79 33v1M79 47v1M79 49v1M79 92v1M79 102v1M79 112v1"/>
<path stroke="#ffdb00" d="M0 31v1M0 43v1M0 45v1M1 35v2M1 46v1M2 36v1M2 40v2M2 43v2M2 46v1M2 48v1M3 34v1M3 108v1M4 40v1M4 44v1M5 32v1M5 46v1M6 31v2M6 36v1M6 48v1M6 107v1M7 34v1M7 37v1M7 41v1M7 43v1M8 33v1M9 33v1M9 43v1M9 112v1M10 34v1M10 38v1M10 40v1M11 32v1M11 36v1M12 34v2M12 42v1M13 41v1M14 42v1M15 39v1M16 40v1M16 66v1M16 111v1M17 35v1M17 67v1M17 109v1M19 35v1M19 68v1M20 38v2M20 41v1M20 72v1M20 75v1M21 30v1M21 35v1M21 41v1M21 44v1M22 35v1M22 80v1M23 43v1M24 38v1M24 72v1M25 37v1M26 38v2M26 46v1M27 72v1M27 74v1M29 43v1M30 29v1M30 37v1M30 40v1M30 77v1M31 32v2M31 43v1M31 109v1M32 34v2M32 37v1M32 39v1M32 42v1M32 77v1M32 111v1M34 35v2M34 40v1M35 35v1M35 42v1M36 35v2M36 42v1M36 44v1M36 91v1M37 41v1M37 91v1M38 33v1M38 38v1M38 42v1M38 44v1M39 33v1M40 30v1M40 40v1M41 29v3M41 35v1M41 39v1M41 45v1M41 48v1M42 41v1M42 93v1M43 31v1M43 45v1M43 47v1M44 46v1M45 31v1M45 34v1M45 44v1M45 46v2M45 84v1M46 44v1M47 41v1M47 46v1M48 41v2M48 111v1M49 33v2M50 33v1M50 35v1M50 43v2M51 40v1M52 33v1M52 38v1M52 88v1M53 29v1M53 34v1M53 39v1M53 41v2M54 28v1M54 31v1M54 38v1M54 43v1M54 49v1M54 108v1M55 45v1M55 108v1M56 32v2M56 40v1M57 37v1M57 43v1M57 45v1M57 89v1M58 40v1M58 43v4M58 108v1M59 43v2M59 111v1M60 38v1M60 43v2M60 46v1M61 38v1M61 41v1M61 108v1M62 32v1M62 39v1M63 33v2M63 40v1M63 45v1M63 91v1M64 29v1M64 35v2M64 41v1M65 45v1M65 48v1M66 35v1M66 43v1M66 90v1M66 92v1M67 34v1M67 41v1M68 36v1M68 112v1M69 31v2M69 35v1M69 47v1M69 92v1M70 30v1M70 33v1M70 37v1M70 47v1M71 39v1M71 45v1M71 47v1M71 92v1M72 32v1M72 35v1M72 38v1M72 46v1M73 35v1M73 45v1M73 108v1M73 112v1M74 36v1M74 41v1M74 43v2M74 101v1M75 43v1M75 101v1M75 112v1M76 43v2M77 35v1M78 39v1M79 35v1M79 40v1M79 91v1"/>
<path stroke="#ffc900" d="M0 32v1M1 37v1M1 41v1M4 37v1M5 34v2M5 48v1M5 112v1M6 41v1M7 32v1M7 45v1M8 34v1M8 37v1M8 40v1M8 109v1M9 31v1M9 38v2M10 35v1M10 43v1M11 39v1M11 43v1M12 43v1M13 29v1M13 36v1M13 39v1M13 111v1M14 34v1M14 40v1M14 108v1M15 34v1M15 36v2M16 38v1M16 42v1M16 110v1M17 72v1M18 34v1M19 34v1M20 69v1M20 111v1M21 80v1M21 111v1M22 34v1M22 36v1M22 41v2M22 79v1M22 109v1M24 71v1M24 73v1M24 81v1M25 40v1M27 38v1M27 75v1M29 39v1M29 74v1M29 76v1M29 109v1M30 109v1M31 37v1M31 41v1M31 78v2M32 32v1M32 38v1M33 36v3M34 42v1M34 80v1M35 37v2M35 82v1M35 89v1M36 79v1M37 33v1M37 37v1M38 40v1M39 39v1M39 83v1M40 33v2M40 37v1M40 42v1M41 41v1M41 43v1M41 93v1M41 109v1M42 35v1M42 42v2M42 85v1M43 85v1M44 37v1M44 43v1M44 108v1M45 37v1M45 39v1M45 41v2M46 37v1M46 45v1M46 94v1M47 36v1M47 38v1M48 46v1M48 109v1M49 35v1M49 37v2M49 47v1M49 87v1M50 36v1M50 88v1M51 32v1M52 34v1M52 40v3M53 35v1M53 40v1M53 43v1M54 37v1M54 39v1M54 45v1M54 109v1M54 111v1M55 34v1M55 37v1M55 41v1M55 88v1M55 112v1M56 38v1M57 38v1M57 42v1M57 108v1M58 34v1M58 89v1M58 98v1M59 39v1M60 32v1M60 34v1M60 37v1M60 39v1M60 41v1M60 90v1M61 31v1M61 43v1M61 45v1M62 43v1M63 38v1M64 34v1M65 33v1M65 35v1M65 38v2M65 90v1M66 33v1M66 108v1M67 36v1M67 40v1M67 91v1M68 42v1M68 89v1M68 108v1M69 37v1M69 44v1M69 46v1M69 91v1M70 34v1M70 45v1M70 108v1M71 34v1M71 36v2M72 37v1M72 39v1M72 42v1M72 44v2M73 33v1M73 43v1M74 35v1M74 47v1M74 108v1M75 41v1M76 38v1M76 41v1M77 33v1M77 37v1M78 32v1M78 43v1M78 107v1M79 42v1M79 44v3M79 94v1"/>
<path stroke="#ffb700" d="M0 34v2M0 37v1M0 41v1M1 33v1M1 38v1M1 40v1M1 42v1M2 32v2M2 107v1M3 37v1M3 40v1M3 42v1M4 39v1M4 46v1M5 37v1M5 40v1M5 43v1M6 34v2M6 37v1M6 42v1M7 108v1M8 35v2M9 34v1M9 40v2M9 108v1M11 33v1M11 40v1M12 38v1M14 28v1M14 35v1M15 38v1M15 45v1M16 36v1M16 109v1M17 33v1M17 38v1M17 42v1M17 68v1M17 111v1M18 76v1M19 38v1M20 46v1M21 68v1M22 38v1M22 40v1M22 78v1M23 36v1M24 41v1M25 38v2M25 73v1M25 111v1M26 74v2M27 36v1M28 109v1M29 35v1M29 86v1M31 35v2M31 39v1M31 77v1M31 111v1M32 33v1M32 40v1M32 78v2M32 109v1M33 39v2M33 42v1M33 89v1M34 34v1M34 37v1M35 40v2M35 43v1M35 81v1M36 111v1M37 35v1M38 36v1M38 82v1M38 90v1M39 38v1M40 38v1M40 41v1M40 83v1M40 109v1M41 38v1M42 38v2M42 92v1M43 39v1M44 32v1M45 38v1M46 40v1M47 32v1M47 42v1M47 44v1M47 109v1M47 111v1M48 32v1M48 39v1M49 42v1M49 88v1M49 95v1M51 36v1M52 43v2M53 37v1M53 44v2M53 96v1M54 36v1M54 90v1M55 39v1M55 89v1M56 34v1M56 39v1M56 42v1M56 46v1M57 34v1M57 41v1M58 42v1M58 90v1M59 41v1M60 109v1M60 111v1M61 39v1M62 38v1M62 40v1M62 42v1M63 41v1M63 88v1M64 32v1M64 42v1M64 44v1M64 91v1M65 36v1M65 43v1M68 38v1M68 40v2M68 100v1M69 33v1M69 39v1M69 41v3M70 41v1M70 43v1M70 92v1M71 42v2M72 41v1M72 93v1M73 32v1M73 38v1M73 93v1M74 37v1M74 40v1M74 45v1M75 36v1M75 38v2M75 92v1M76 37v1M76 45v1M76 93v1M77 47v2M77 101v1M77 112v1M78 34v1M78 37v1M78 41v1M78 44v1M78 46v3M78 101v1M79 34v1M79 36v2M79 39v1M79 41v1M79 108v1"/>
<path stroke="#ffa500" d="M0 33v1M0 38v1M0 42v1M1 44v2M2 34v1M2 106v1M2 112v1M3 35v1M3 111v1M4 35v1M4 38v1M4 41v2M4 111v1M5 31v1M5 42v1M8 42v1M8 111v1M9 37v1M10 37v1M10 39v1M10 109v1M10 111v1M11 34v1M11 45v1M17 71v1M17 110v1M18 36v1M18 68v1M18 110v1M19 110v2M20 33v1M20 37v1M20 44v1M20 73v2M20 110v1M21 39v1M22 77v1M23 42v1M23 109v1M24 109v1M25 43v1M26 81v1M26 109v1M27 76v1M27 109v1M27 111v1M28 76v1M30 76v1M31 38v1M31 87v1M32 36v1M32 88v1M33 110v2M34 38v1M34 43v1M34 82v1M34 109v1M35 45v1M35 83v1M37 39v1M38 84v1M38 109v1M39 82v1M40 35v1M41 36v1M42 109v1M43 86v1M43 108v1M44 94v1M46 36v1M46 39v1M46 42v1M47 40v1M48 44v1M48 95v1M48 110v1M49 36v1M50 40v1M50 42v1M50 89v1M51 88v1M52 39v1M52 89v1M52 108v1M53 89v1M54 42v1M55 36v1M55 38v1M55 42v3M56 36v1M57 40v1M58 36v1M59 40v1M60 91v1M61 37v1M61 42v1M62 41v1M62 45v1M62 108v1M63 36v1M63 39v1M63 99v1M63 108v1M64 38v1M64 40v1M64 43v1M64 111v1M65 41v2M67 38v1M67 92v1M67 100v1M68 39v1M68 92v1M69 45v1M69 108v1M70 32v1M70 38v1M70 40v1M70 42v1M70 44v1M70 100v1M71 40v1M71 108v1M72 43v1M72 49v1M73 37v1M73 44v1M73 46v1M74 39v1M74 42v1M74 46v1M75 42v1M75 94v1M75 108v1M76 33v1M76 39v2M77 34v1M77 38v1M77 42v1M77 45v1M79 101v1"/>
<path stroke="#ff9200" d="M0 36v1M0 44v1M1 39v1M1 108v1M1 111v1M2 37v1M4 36v1M4 43v1M5 38v1M6 108v1M14 38v1M14 111v1M17 69v2M19 37v1M19 71v1M19 73v1M20 40v1M21 69v2M22 111v1M23 73v1M23 78v2M24 78v1M25 83v1M26 40v1M26 79v1M27 84v1M28 111v1M30 42v1M30 85v1M31 86v1M33 43v1M34 89v1M35 88v1M35 111v1M36 81v1M36 90v1M36 109v1M37 109v1M38 83v1M39 41v1M39 109v1M41 84v2M41 111v1M43 41v1M43 93v1M43 109v1M44 85v1M45 86v1M45 94v1M46 87v1M46 111v1M49 40v1M49 110v1M51 96v1M53 36v1M54 35v1M55 35v1M55 40v1M56 35v1M56 41v1M57 36v1M57 91v1M58 35v1M58 47v1M58 92v1M61 36v1M61 109v1M62 91v2M63 111v1M64 37v1M64 39v1M65 92v1M67 108v1M68 37v1M68 93v1M69 36v1M69 38v1M69 111v1M71 35v1M71 38v1M71 93v1M74 111v1M75 37v1M75 40v1M76 42v1M76 47v1M77 41v1M77 43v2M77 108v1M78 40v1M78 42v1M79 38v1M79 43v1"/>
<path stroke="#ff8000" d="M0 39v1M1 34v1M3 109v1M4 34v1M5 39v1M6 39v1M7 38v1M7 109v1M8 38v1M10 36v1M13 110v1M18 72v2M19 41v1M21 110v1M22 72v1M23 75v1M23 77v1M24 111v1M26 76v1M26 80v1M26 111v1M27 83v1M28 79v1M29 78v1M29 111v1M30 36v1M31 84v1M32 110v1M34 81v1M34 111v1M35 109v1M36 82v1M37 82v1M39 91v1M39 111v1M40 31v1M40 36v1M40 85v1M41 110v1M42 87v2M44 111v1M45 87v1M45 109v1M45 111v1M47 88v1M48 87v1M49 89v1M52 96v1M53 38v1M53 90v1M54 34v1M54 40v1M54 89v1M54 97v1M56 37v1M56 44v1M57 90v1M58 109v1M58 111v1M59 90v1M59 109v1M60 33v1M60 36v1M60 40v1M60 98v1M61 92v1M63 43v1M65 111v1M66 93v1M68 43v1M70 39v1M70 111v1M71 100v1M72 111v1M73 39v1M73 42v1M73 100v1M74 94v1M75 93v1M75 109v1M76 108v1M77 39v2M78 38v1M78 45v1M78 94v1M79 109v1"/>
<path stroke="#ff6e00" d="M0 40v1M2 42v1M5 107v1M7 110v2M8 110v1M9 109v1M11 38v1M18 70v1M18 74v1M22 73v1M23 74v1M24 80v1M26 110v1M29 110v1M31 82v1M31 110v1M32 80v1M34 88v1M35 84v2M37 83v1M38 110v1M39 85v1M40 110v2M41 42v1M42 110v1M44 86v1M44 109v1M47 87v1M47 110v1M49 41v1M49 43v1M49 111v1M50 111v1M51 89v1M52 111v1M54 41v1M55 32v1M55 97v1M56 43v1M56 90v1M59 91v2M59 98v1M60 110v1M64 109v1M65 93v1M65 109v1M69 40v1M69 100v1M69 109v1M70 36v1M70 93v1M71 109v1M73 109v1M74 48v1M74 109v1M76 35v1M76 101v1M78 108v1"/>
<path stroke="#ff5c00" d="M0 110v1M1 109v1M5 36v1M5 41v1M15 110v1M18 71v1M22 74v1M22 110v1M23 76v1M23 111v1M24 74v1M25 109v1M26 77v1M27 78v1M28 84v1M29 84v2M30 79v1M30 81v1M30 110v2M31 80v1M31 83v1M33 80v1M35 86v2M35 110v1M36 83v1M39 90v1M39 110v1M40 84v1M42 111v1M44 88v1M44 93v1M46 88v1M48 88v1M50 90v1M50 95v1M50 109v1M53 111v1M54 110v1M55 90v1M56 97v1M57 109v1M61 98v1M62 109v2M63 109v1M64 92v1M66 99v1M66 109v1M66 111v1M67 109v1M67 111v1M68 111v1M69 93v1M70 109v1M71 110v1M72 100v1M72 109v1M73 41v1M75 100v1M76 94v1M77 109v1M79 93v1"/>
<path stroke="#ff4900" d="M4 109v1M14 110v1M18 69v1M18 75v1M21 79v1M22 76v1M24 77v1M26 78v1M27 77v1M27 82v1M27 110v1M28 110v1M30 78v1M30 83v1M30 86v1M32 87v1M33 81v1M33 88v1M36 110v1M37 85v1M38 85v1M38 111v1M40 92v1M42 86v1M43 92v1M43 111v1M46 110v1M49 91v2M50 110v1M51 90v1M52 90v1M52 109v1M53 109v1M55 109v1M57 39v1M57 92v1M59 110v1M61 91v1M64 99v1M65 110v1M67 99v1M68 109v1M70 94v1M71 94v1M72 95v1M73 94v1M73 111v1M76 109v1M77 111v1M78 95v1M78 109v1M79 111v1"/>
<path stroke="#ff3700" d="M9 111v1M21 72v1M24 75v1M24 110v1M25 75v1M27 80v1M28 77v2M28 83v1M29 77v1M29 80v1M29 83v1M30 80v1M32 81v4M32 86v1M34 110v1M36 88v1M37 88v1M37 90v1M38 87v3M39 84v1M39 89v1M40 86v1M43 87v1M44 110v1M45 88v1M45 93v1M46 89v2M49 90v1M50 92v1M51 95v1M51 109v1M53 110v1M55 110v2M56 109v1M57 97v1M58 91v1M65 99v1M69 94v1M70 110v1M71 111v1M74 100v1M76 95v1M77 94v1M79 95v1M79 110v1"/>
<path stroke="#ff2500" d="M1 110v1M4 110v1M5 108v1M6 111v1M22 75v1M25 74v1M28 80v3M31 81v1M31 85v1M32 85v1M34 84v2M34 87v1M36 89v1M37 111v1M38 86v1M39 86v1M40 91v1M41 86v1M45 110v1M46 93v1M47 90v1M49 94v1M52 110v1M53 91v1M54 92v1M56 91v1M57 110v1M58 110v1M60 92v1M61 93v1M61 111v1M62 111v1M63 92v2M63 98v1M63 110v1M66 95v1M67 93v1M68 99v1M70 95v1M72 94v1M72 110v1M73 110v1M75 111v1M76 100v1M76 111v1M78 111v1M79 100v1"/>
<path stroke="#ff1300" d="M2 109v1M3 110v1M5 111v1M10 110v1M21 77v2M24 79v1M25 76v1M25 82v1M29 79v1M30 82v1M33 83v1M34 83v1M37 84v1M37 86v1M39 88v1M41 90v1M42 90v1M44 87v1M44 90v1M45 89v1M47 89v1M47 91v1M47 94v1M48 89v1M50 91v1M50 93v1M54 91v1M54 96v1M55 91v1M57 111v1M60 93v1M61 110v1M62 98v1M64 93v1M66 110v1M78 110v1"/>
<path stroke="#ff0000" d="M2 108v1M2 111v1M6 109v1M9 110v1M21 71v1M24 76v1M25 79v2M27 81v1M29 82v1M30 84v1M33 82v1M34 86v1M36 85v1M41 87v1M41 92v1M42 89v1M42 91v1M43 88v1M43 110v1M45 90v1M46 91v1M47 93v1M51 91v1M51 110v1M54 93v1M56 110v2M57 95v1M58 97v1M61 97v1M63 96v1M64 98v1M64 110v1M67 110v1M68 94v1M71 95v1M74 95v1M75 110v1M76 110v1M77 100v1M77 110v1M78 100v1M79 96v1"/>
<path stroke="#ed0000" d="M23 110v1M25 78v1M25 110v1M27 79v1M33 87v1M37 89v1M37 110v1M41 91v1M50 94v1M51 111v1M53 93v1M55 92v1M59 93v1M62 93v1M64 94v1M65 98v1M67 94v1M68 110v1M70 99v1M74 110v1M75 95v1M77 95v3M78 96v2"/>
<path stroke="#db0000" d="M5 109v1M21 73v1M21 76v1M25 81v1M33 85v1M36 84v1M37 87v1M39 87v1M40 87v1M41 88v1M43 90v2M45 91v1M46 92v1M48 94v1M49 93v1M53 94v2M55 96v1M59 97v1M62 96v1M65 94v1M66 94v1M68 95v1M69 99v1M69 110v1M70 97v1M73 96v1M76 96v2"/>
<path stroke="#c90000" d="M29 81v1M36 87v1M40 89v2M41 89v1M44 89v1M45 92v1M47 92v1M51 92v1M52 91v1M52 94v1M53 92v1M54 95v1M56 94v1M57 93v1M58 93v1M60 96v1M63 94v1M67 96v1M67 98v1M70 96v1M72 99v1M73 95v1M73 99v1M75 96v1"/>
<path stroke="#b60000" d="M6 110v1M21 74v1M25 77v1M33 84v1M33 86v1M43 89v1M51 93v1M54 94v1M55 94v1M56 96v1M58 94v1M58 96v1M59 94v1M60 94v1M60 97v1M62 94v1M62 97v1M63 95v1M64 95v1M65 95v1M66 98v1M67 95v1M68 97v1M69 95v1M71 97v2M74 96v1M77 98v1M79 99v1"/>
<path stroke="#a40000" d="M21 75v1M36 86v1M40 88v1M44 91v2M48 90v1M48 92v1M51 94v1M52 95v1M56 93v1M57 94v1M61 94v1M61 96v1M63 97v1M65 96v1M67 97v1M68 98v1M69 96v1M71 96v1M74 99v1M79 98v1"/>
<path stroke="#920000" d="M2 110v1M48 91v1M52 93v1M55 93v1M55 95v1M56 92v1M57 96v1M62 95v1M64 96v2M70 98v1M72 96v1M75 99v1M76 98v2"/>
<path stroke="#800000" d="M5 110v1M48 93v1M52 92v1M56 95v1M58 95v1M59 95v2M60 95v1M61 95v1M65 97v1M66 96v2M68 96v1M69 97v2M71 99v1M72 97v2M73 97v2M74 97v2M75 97v2M77 99v1M78 98v2M79 97v1"/>
</g></g></g>
<text transform="translate(925.4,411.4) scale(0.89,1)" font-size="31" text-anchor="middle">0</text>
<text transform="translate(1039.06,411.4) scale(0.89,1)" font-size="31" text-anchor="middle">10</text>
<text transform="translate(1152.72,411.4) scale(0.89,1)" font-size="31" text-anchor="middle">20</text>
<text transform="translate(1266.38,411.4) scale(0.89,1)" font-size="31" text-anchor="middle">30</text>
<text transform="translate(1380.04,411.4) scale(0.89,1)" font-size="31" text-anchor="middle">40</text>
<text transform="translate(1493.7,411.4) scale(0.89,1)" font-size="31" text-anchor="middle">50</text>
<text transform="translate(892.6,392.6) scale(0.89,1)" font-size="31" text-anchor="end">0</text>
<text transform="translate(892.6,271.73) scale(0.89,1)" font-size="31" text-anchor="end">5</text>
<text transform="translate(892.6,150.87) scale(0.89,1)" font-size="31" text-anchor="end">10</text>
<text transform="translate(892.6,30) scale(0.89,1)" font-size="31" text-anchor="end">15</text>
<text transform="translate(1198.9,438.8) scale(0.89,1)" font-size="31" text-anchor="middle">Delay (fs)</text>
<text transform="translate(853.7,200.8) rotate(-90) scale(1,0.89)" font-size="31" text-anchor="middle">KER (eV)</text>
<text transform="translate(796.3,33) scale(0.86,1)" font-size="37.5" text-anchor="start" font-weight="bold">(c)</text>
<linearGradient id="cbC" x1="0" y1="0" x2="0" y2="1"><stop offset="0" stop-color="#800000"/><stop offset="0.02" stop-color="#8f0000"/><stop offset="0.03" stop-color="#9f0000"/><stop offset="0.05" stop-color="#af0000"/><stop offset="0.06" stop-color="#be0000"/><stop offset="0.08" stop-color="#ce0000"/><stop offset="0.09" stop-color="#de0000"/><stop offset="0.11" stop-color="#ed0000"/><stop offset="0.12" stop-color="#fd0000"/><stop offset="0.14" stop-color="#ff0e00"/><stop offset="0.16" stop-color="#ff1d00"/><stop offset="0.17" stop-color="#ff2d00"/><stop offset="0.19" stop-color="#ff3d00"/><stop offset="0.2" stop-color="#ff4c00"/><stop offset="0.22" stop-color="#ff5c00"/><stop offset="0.23" stop-color="#ff6c00"/><stop offset="0.25" stop-color="#ff7c00"/><stop offset="0.27" stop-color="#ff8b00"/><stop offset="0.28" stop-color="#ff9b00"/><stop offset="0.3" stop-color="#ffab00"/><stop offset="0.31" stop-color="#ffba00"/><stop offset="0.33" stop-color="#ffca00"/><stop offset="0.34" stop-color="#ffda00"/><stop offset="0.36" stop-color="#ffe900"/><stop offset="0.38" stop-color="#fff900"/><stop offset="0.39" stop-color="#f5ff0a"/><stop offset="0.41" stop-color="#e6ff19"/><stop offset="0.42" stop-color="#d6ff29"/><stop offset="0.44" stop-color="#c6ff39"/><stop offset="0.45" stop-color="#b7ff48"/><stop offset="0.47" stop-color="#a7ff58"/><stop offset="0.48" stop-color="#97ff68"/><stop offset="0.5" stop-color="#87ff78"/><stop offset="0.52" stop-color="#78ff87"/><stop offset="0.53" stop-color="#68ff97"/><stop offset="0.55" stop-color="#58ffa7"/><stop offset="0.56" stop-color="#49ffb6"/><stop offset="0.58" stop-color="#39ffc6"/><stop offset="0.59" stop-color="#29ffd6"/><stop offset="0.61" stop-color="#1affe5"/><stop offset="0.62" stop-color="#0afff5"/><stop offset="0.64" stop-color="#00f9ff"/><stop offset="0.66" stop-color="#00eaff"/><stop offset="0.67" stop-color="#00daff"/><stop offset="0.69" stop-color="#00caff"/><stop offset="0.7" stop-color="#00bbff"/><stop offset="0.72" stop-color="#00abff"/><stop offset="0.73" stop-color="#009bff"/><stop offset="0.75" stop-color="#008bff"/><stop offset="0.77" stop-color="#007cff"/><stop offset="0.78" stop-color="#006cff"/><stop offset="0.8" stop-color="#005cff"/><stop offset="0.81" stop-color="#004dff"/><stop offset="0.83" stop-color="#003dff"/><stop offset="0.84" stop-color="#002dff"/><stop offset="0.86" stop-color="#001eff"/><stop offset="0.88" stop-color="#000eff"/><stop offset="0.89" stop-color="#0000fd"/><stop offset="0.91" stop-color="#0000ee"/><stop offset="0.92" stop-color="#0000de"/><stop offset="0.94" stop-color="#0000ce"/><stop offset="0.95" stop-color="#0000bf"/><stop offset="0.97" stop-color="#0000af"/><stop offset="0.98" stop-color="#00009f"/><stop offset="1" stop-color="#00008f"/></linearGradient>
<rect x="1512.9" y="18.4" width="14.5" height="362.6" fill="url(#cbC)"/>
<path d="M1512.9 241h3M1527.4 241h-3M1512.9 101h3M1527.4 101h-3" fill="none" stroke="#000" stroke-width="0.8"/>
<text transform="translate(1530.8,393.2) scale(0.85,1)" font-size="31" text-anchor="start">1</text>
<text transform="translate(1530.8,253.2) scale(0.85,1)" font-size="31" text-anchor="start">1.5</text>
<text transform="translate(1530.8,113.2) scale(0.85,1)" font-size="31" text-anchor="start">2</text>
<g fill="none" stroke="#969696" stroke-width="1.4">
<path d="M130.5 478.5H719.8V798.8H130.5Z"/>
<path d="M182.4 798.8v-5.5M182.4 478.5v5.5M289.88 798.8v-5.5M289.88 478.5v5.5M397.36 798.8v-5.5M397.36 478.5v5.5M504.84 798.8v-5.5M504.84 478.5v5.5M612.32 798.8v-5.5M612.32 478.5v5.5M130.5 718.72h5.5M719.8 718.72h-5.5M130.5 638.65h5.5M719.8 638.65h-5.5M130.5 558.57h5.5M719.8 558.57h-5.5" stroke-width="1.1"/>
</g>
<g fill="none" stroke="#1212ff" stroke-width="2" stroke-linejoin="round">
<polyline points="130.81,783.51 137.98,784.79 145.14,786.71 152.31,780.62 159.47,780.06 166.64,785.43 173.8,783.83 180.97,789.03 188.14,782.87 195.3,780.62 202.47,789.59 209.63,782.3 216.8,776.22 223.96,784.79 231.13,777.74 238.29,779.1 245.46,777.74 252.63,743.23 259.79,757.4 266.96,777.74 274.12,754.76 281.29,684.21 288.45,714.88 295.62,780.06 302.79,706.87 309.95,587.16 317.12,774.86 324.28,646.9 331.45,538.16 338.61,634.25 345.78,730.82 352.95,558.98 360.11,676.05 367.28,660.27 374.44,639.45 381.61,674.12 388.77,633.85 395.94,671.24 403.11,729.86 410.27,622.8 417.44,570.03 424.6,720.65 431.77,512.45 438.93,641.05 446.1,741.95 453.27,740.75 460.43,627.6 467.6,624.32 474.76,733.7 481.93,723.13 489.09,652.82 496.26,639.85 503.43,742.27 510.59,692.86 517.76,671.4 524.92,743.23 532.09,749.95 539.25,697.67 546.42,734.66 553.59,748.59 560.75,722.57 567.92,704.39 575.08,727.53 582.25,754.2 589.41,712.56 596.58,721.21 603.75,745.55 610.91,750.92 618.08,723.69 625.24,735.94 632.41,748.59 639.57,723.13 646.74,723.53 653.91,745.55 661.07,745.15 668.24,729.86 675.4,748.43 682.57,750.92 689.73,751.88 696.9,739.38 704.06,753.96"/>
<path d="M133.61 783.51a2.8 2.8 0 1 0 -5.6 0a2.8 2.8 0 1 0 5.6 0M140.78 784.79a2.8 2.8 0 1 0 -5.6 0a2.8 2.8 0 1 0 5.6 0M147.94 786.71a2.8 2.8 0 1 0 -5.6 0a2.8 2.8 0 1 0 5.6 0M155.11 780.62a2.8 2.8 0 1 0 -5.6 0a2.8 2.8 0 1 0 5.6 0M162.27 780.06a2.8 2.8 0 1 0 -5.6 0a2.8 2.8 0 1 0 5.6 0M169.44 785.43a2.8 2.8 0 1 0 -5.6 0a2.8 2.8 0 1 0 5.6 0M176.6 783.83a2.8 2.8 0 1 0 -5.6 0a2.8 2.8 0 1 0 5.6 0M183.77 789.03a2.8 2.8 0 1 0 -5.6 0a2.8 2.8 0 1 0 5.6 0M190.94 782.87a2.8 2.8 0 1 0 -5.6 0a2.8 2.8 0 1 0 5.6 0M198.1 780.62a2.8 2.8 0 1 0 -5.6 0a2.8 2.8 0 1 0 5.6 0M205.27 789.59a2.8 2.8 0 1 0 -5.6 0a2.8 2.8 0 1 0 5.6 0M212.43 782.3a2.8 2.8 0 1 0 -5.6 0a2.8 2.8 0 1 0 5.6 0M219.6 776.22a2.8 2.8 0 1 0 -5.6 0a2.8 2.8 0 1 0 5.6 0M226.76 784.79a2.8 2.8 0 1 0 -5.6 0a2.8 2.8 0 1 0 5.6 0M233.93 777.74a2.8 2.8 0 1 0 -5.6 0a2.8 2.8 0 1 0 5.6 0M241.09 779.1a2.8 2.8 0 1 0 -5.6 0a2.8 2.8 0 1 0 5.6 0M248.26 777.74a2.8 2.8 0 1 0 -5.6 0a2.8 2.8 0 1 0 5.6 0M255.43 743.23a2.8 2.8 0 1 0 -5.6 0a2.8 2.8 0 1 0 5.6 0M262.59 757.4a2.8 2.8 0 1 0 -5.6 0a2.8 2.8 0 1 0 5.6 0M269.76 777.74a2.8 2.8 0 1 0 -5.6 0a2.8 2.8 0 1 0 5.6 0M276.92 754.76a2.8 2.8 0 1 0 -5.6 0a2.8 2.8 0 1 0 5.6 0M284.09 684.21a2.8 2.8 0 1 0 -5.6 0a2.8 2.8 0 1 0 5.6 0M291.25 714.88a2.8 2.8 0 1 0 -5.6 0a2.8 2.8 0 1 0 5.6 0M298.42 780.06a2.8 2.8 0 1 0 -5.6 0a2.8 2.8 0 1 0 5.6 0M305.59 706.87a2.8 2.8 0 1 0 -5.6 0a2.8 2.8 0 1 0 5.6 0M312.75 587.16a2.8 2.8 0 1 0 -5.6 0a2.8 2.8 0 1 0 5.6 0M319.92 774.86a2.8 2.8 0 1 0 -5.6 0a2.8 2.8 0 1 0 5.6 0M327.08 646.9a2.8 2.8 0 1 0 -5.6 0a2.8 2.8 0 1 0 5.6 0M334.25 538.16a2.8 2.8 0 1 0 -5.6 0a2.8 2.8 0 1 0 5.6 0M341.41 634.25a2.8 2.8 0 1 0 -5.6 0a2.8 2.8 0 1 0 5.6 0M348.58 730.82a2.8 2.8 0 1 0 -5.6 0a2.8 2.8 0 1 0 5.6 0M355.75 558.98a2.8 2.8 0 1 0 -5.6 0a2.8 2.8 0 1 0 5.6 0M362.91 676.05a2.8 2.8 0 1 0 -5.6 0a2.8 2.8 0 1 0 5.6 0M370.08 660.27a2.8 2.8 0 1 0 -5.6 0a2.8 2.8 0 1 0 5.6 0M377.24 639.45a2.8 2.8 0 1 0 -5.6 0a2.8 2.8 0 1 0 5.6 0M384.41 674.12a2.8 2.8 0 1 0 -5.6 0a2.8 2.8 0 1 0 5.6 0M391.57 633.85a2.8 2.8 0 1 0 -5.6 0a2.8 2.8 0 1 0 5.6 0M398.74 671.24a2.8 2.8 0 1 0 -5.6 0a2.8 2.8 0 1 0 5.6 0M405.91 729.86a2.8 2.8 0 1 0 -5.6 0a2.8 2.8 0 1 0 5.6 0M413.07 622.8a2.8 2.8 0 1 0 -5.6 0a2.8 2.8 0 1 0 5.6 0M420.24 570.03a2.8 2.8 0 1 0 -5.6 0a2.8 2.8 0 1 0 5.6 0M427.4 720.65a2.8 2.8 0 1 0 -5.6 0a2.8 2.8 0 1 0 5.6 0M434.57 512.45a2.8 2.8 0 1 0 -5.6 0a2.8 2.8 0 1 0 5.6 0M441.73 641.05a2.8 2.8 0 1 0 -5.6 0a2.8 2.8 0 1 0 5.6 0M448.9 741.95a2.8 2.8 0 1 0 -5.6 0a2.8 2.8 0 1 0 5.6 0M456.07 740.75a2.8 2.8 0 1 0 -5.6 0a2.8 2.8 0 1 0 5.6 0M463.23 627.6a2.8 2.8 0 1 0 -5.6 0a2.8 2.8 0 1 0 5.6 0M470.4 624.32a2.8 2.8 0 1 0 -5.6 0a2.8 2.8 0 1 0 5.6 0M477.56 733.7a2.8 2.8 0 1 0 -5.6 0a2.8 2.8 0 1 0 5.6 0M484.73 723.13a2.8 2.8 0 1 0 -5.6 0a2.8 2.8 0 1 0 5.6 0M491.89 652.82a2.8 2.8 0 1 0 -5.6 0a2.8 2.8 0 1 0 5.6 0M499.06 639.85a2.8 2.8 0 1 0 -5.6 0a2.8 2.8 0 1 0 5.6 0M506.23 742.27a2.8 2.8 0 1 0 -5.6 0a2.8 2.8 0 1 0 5.6 0M513.39 692.86a2.8 2.8 0 1 0 -5.6 0a2.8 2.8 0 1 0 5.6 0M520.56 671.4a2.8 2.8 0 1 0 -5.6 0a2.8 2.8 0 1 0 5.6 0M527.72 743.23a2.8 2.8 0 1 0 -5.6 0a2.8 2.8 0 1 0 5.6 0M534.89 749.95a2.8 2.8 0 1 0 -5.6 0a2.8 2.8 0 1 0 5.6 0M542.05 697.67a2.8 2.8 0 1 0 -5.6 0a2.8 2.8 0 1 0 5.6 0M549.22 734.66a2.8 2.8 0 1 0 -5.6 0a2.8 2.8 0 1 0 5.6 0M556.39 748.59a2.8 2.8 0 1 0 -5.6 0a2.8 2.8 0 1 0 5.6 0M563.55 722.57a2.8 2.8 0 1 0 -5.6 0a2.8 2.8 0 1 0 5.6 0M570.72 704.39a2.8 2.8 0 1 0 -5.6 0a2.8 2.8 0 1 0 5.6 0M577.88 727.53a2.8 2.8 0 1 0 -5.6 0a2.8 2.8 0 1 0 5.6 0M585.05 754.2a2.8 2.8 0 1 0 -5.6 0a2.8 2.8 0 1 0 5.6 0M592.21 712.56a2.8 2.8 0 1 0 -5.6 0a2.8 2.8 0 1 0 5.6 0M599.38 721.21a2.8 2.8 0 1 0 -5.6 0a2.8 2.8 0 1 0 5.6 0M606.55 745.55a2.8 2.8 0 1 0 -5.6 0a2.8 2.8 0 1 0 5.6 0M613.71 750.92a2.8 2.8 0 1 0 -5.6 0a2.8 2.8 0 1 0 5.6 0M620.88 723.69a2.8 2.8 0 1 0 -5.6 0a2.8 2.8 0 1 0 5.6 0M628.04 735.94a2.8 2.8 0 1 0 -5.6 0a2.8 2.8 0 1 0 5.6 0M635.21 748.59a2.8 2.8 0 1 0 -5.6 0a2.8 2.8 0 1 0 5.6 0M642.37 723.13a2.8 2.8 0 1 0 -5.6 0a2.8 2.8 0 1 0 5.6 0M649.54 723.53a2.8 2.8 0 1 0 -5.6 0a2.8 2.8 0 1 0 5.6 0M656.71 745.55a2.8 2.8 0 1 0 -5.6 0a2.8 2.8 0 1 0 5.6 0M663.87 745.15a2.8 2.8 0 1 0 -5.6 0a2.8 2.8 0 1 0 5.6 0M671.04 729.86a2.8 2.8 0 1 0 -5.6 0a2.8 2.8 0 1 0 5.6 0M678.2 748.43a2.8 2.8 0 1 0 -5.6 0a2.8 2.8 0 1 0 5.6 0M685.37 750.92a2.8 2.8 0 1 0 -5.6 0a2.8 2.8 0 1 0 5.6 0M692.53 751.88a2.8 2.8 0 1 0 -5.6 0a2.8 2.8 0 1 0 5.6 0M699.7 739.38a2.8 2.8 0 1 0 -5.6 0a2.8 2.8 0 1 0 5.6 0M706.86 753.96a2.8 2.8 0 1 0 -5.6 0a2.8 2.8 0 1 0 5.6 0" stroke-width="1.8"/>
</g>
<text transform="translate(182.4,826.4) scale(0.94,1)" font-size="27.5" text-anchor="middle">0</text>
<text transform="translate(289.88,826.4) scale(0.94,1)" font-size="27.5" text-anchor="middle">10</text>
<text transform="translate(397.36,826.4) scale(0.94,1)" font-size="27.5" text-anchor="middle">20</text>
<text transform="translate(504.84,826.4) scale(0.94,1)" font-size="27.5" text-anchor="middle">30</text>
<text transform="translate(612.32,826.4) scale(0.94,1)" font-size="27.5" text-anchor="middle">40</text>
<text transform="translate(719.8,826.4) scale(0.94,1)" font-size="27.5" text-anchor="middle">50</text>
<text transform="translate(126.6,808.6) scale(0.94,1)" font-size="27.5" text-anchor="end">0</text>
<text transform="translate(126.6,728.52) scale(0.94,1)" font-size="27.5" text-anchor="end">1000</text>
<text transform="translate(126.6,648.45) scale(0.94,1)" font-size="27.5" text-anchor="end">2000</text>
<text transform="translate(126.6,568.37) scale(0.94,1)" font-size="27.5" text-anchor="end">3000</text>
<text transform="translate(126.6,488.3) scale(0.94,1)" font-size="27.5" text-anchor="end">4000</text>
<text transform="translate(424,851.7) scale(0.94,1)" font-size="27.5" text-anchor="middle">Delay (fs)</text>
<text transform="translate(62.9,638.2) rotate(-90) scale(1,0.94)" font-size="27.5" text-anchor="middle">Counts</text>
<text transform="translate(4,471.7) scale(0.9,1)" font-size="37.5" text-anchor="start" font-weight="bold">(b)</text>
<g fill="none" stroke="#969696" stroke-width="1.4">
<path d="M908.2 478.5H1497.6V799.6H908.2Z"/>
<path d="M960.7 799.6v-5.5M960.7 478.5v5.5M1068.08 799.6v-5.5M1068.08 478.5v5.5M1175.46 799.6v-5.5M1175.46 478.5v5.5M1282.84 799.6v-5.5M1282.84 478.5v5.5M1390.22 799.6v-5.5M1390.22 478.5v5.5M908.2 719.33h5.5M1497.6 719.33h-5.5M908.2 639.05h5.5M1497.6 639.05h-5.5M908.2 558.78h5.5M1497.6 558.78h-5.5" stroke-width="1.1"/>
</g>
<g fill="none" stroke="#1212ff" stroke-width="2" stroke-linejoin="round">
<polyline points="932.06,779.53 939.22,773.83 946.38,759.86 953.54,777.04 960.7,772.87 967.86,760.83 975.02,764.84 982.17,772.47 989.33,779.53 996.49,764.6 1003.65,773.43 1010.81,782.02 1017.97,772.31 1025.13,750.87 1032.29,729.28 1039.45,736.5 1046.61,714.51 1053.77,654.3 1060.92,626.69 1068.08,666.74 1075.24,653.42 1082.4,555.16 1089.56,619.38 1096.72,625.16 1103.88,603.81 1111.04,559.34 1118.2,616.89 1125.36,595.94 1132.51,594.02 1139.67,584.14 1146.83,597.87 1153.99,604.13 1161.15,595.54 1168.31,561.26 1175.47,589.28 1182.63,621.71 1189.79,571.78 1196.95,590.8 1204.1,622.67 1211.26,600.36 1218.42,564.72 1225.58,571.78 1232.74,616.17 1239.9,584.54 1247.06,555.89 1254.22,571.78 1261.38,613.12 1268.54,587.03 1275.69,547.94 1282.85,605.09 1290.01,606.06 1297.17,568.49 1304.33,546.41 1311.49,601.32 1318.65,575.55 1325.81,560.3 1332.97,558.94 1340.13,583.18 1347.29,578.44 1354.44,566 1361.6,568.33 1368.76,585.11 1375.92,595.54 1383.08,578.44 1390.24,569.29 1397.4,586.07 1404.56,593.13 1411.72,599.39 1418.88,582.78 1426.03,586.07 1433.19,616.57 1440.35,598.99 1447.51,573.63 1454.67,588.56 1461.83,618.66 1468.99,590.8 1476.15,599.96 1483.31,605.09 1490.47,618.82 1497.62,605.09"/>
<path d="M934.86 779.53a2.8 2.8 0 1 0 -5.6 0a2.8 2.8 0 1 0 5.6 0M942.02 773.83a2.8 2.8 0 1 0 -5.6 0a2.8 2.8 0 1 0 5.6 0M949.18 759.86a2.8 2.8 0 1 0 -5.6 0a2.8 2.8 0 1 0 5.6 0M956.34 777.04a2.8 2.8 0 1 0 -5.6 0a2.8 2.8 0 1 0 5.6 0M963.5 772.87a2.8 2.8 0 1 0 -5.6 0a2.8 2.8 0 1 0 5.6 0M970.66 760.83a2.8 2.8 0 1 0 -5.6 0a2.8 2.8 0 1 0 5.6 0M977.82 764.84a2.8 2.8 0 1 0 -5.6 0a2.8 2.8 0 1 0 5.6 0M984.97 772.47a2.8 2.8 0 1 0 -5.6 0a2.8 2.8 0 1 0 5.6 0M992.13 779.53a2.8 2.8 0 1 0 -5.6 0a2.8 2.8 0 1 0 5.6 0M999.29 764.6a2.8 2.8 0 1 0 -5.6 0a2.8 2.8 0 1 0 5.6 0M1006.45 773.43a2.8 2.8 0 1 0 -5.6 0a2.8 2.8 0 1 0 5.6 0M1013.61 782.02a2.8 2.8 0 1 0 -5.6 0a2.8 2.8 0 1 0 5.6 0M1020.77 772.31a2.8 2.8 0 1 0 -5.6 0a2.8 2.8 0 1 0 5.6 0M1027.93 750.87a2.8 2.8 0 1 0 -5.6 0a2.8 2.8 0 1 0 5.6 0M1035.09 729.28a2.8 2.8 0 1 0 -5.6 0a2.8 2.8 0 1 0 5.6 0M1042.25 736.5a2.8 2.8 0 1 0 -5.6 0a2.8 2.8 0 1 0 5.6 0M1049.41 714.51a2.8 2.8 0 1 0 -5.6 0a2.8 2.8 0 1 0 5.6 0M1056.57 654.3a2.8 2.8 0 1 0 -5.6 0a2.8 2.8 0 1 0 5.6 0M1063.72 626.69a2.8 2.8 0 1 0 -5.6 0a2.8 2.8 0 1 0 5.6 0M1070.88 666.74a2.8 2.8 0 1 0 -5.6 0a2.8 2.8 0 1 0 5.6 0M1078.04 653.42a2.8 2.8 0 1 0 -5.6 0a2.8 2.8 0 1 0 5.6 0M1085.2 555.16a2.8 2.8 0 1 0 -5.6 0a2.8 2.8 0 1 0 5.6 0M1092.36 619.38a2.8 2.8 0 1 0 -5.6 0a2.8 2.8 0 1 0 5.6 0M1099.52 625.16a2.8 2.8 0 1 0 -5.6 0a2.8 2.8 0 1 0 5.6 0M1106.68 603.81a2.8 2.8 0 1 0 -5.6 0a2.8 2.8 0 1 0 5.6 0M1113.84 559.34a2.8 2.8 0 1 0 -5.6 0a2.8 2.8 0 1 0 5.6 0M1121 616.89a2.8 2.8 0 1 0 -5.6 0a2.8 2.8 0 1 0 5.6 0M1128.16 595.94a2.8 2.8 0 1 0 -5.6 0a2.8 2.8 0 1 0 5.6 0M1135.31 594.02a2.8 2.8 0 1 0 -5.6 0a2.8 2.8 0 1 0 5.6 0M1142.47 584.14a2.8 2.8 0 1 0 -5.6 0a2.8 2.8 0 1 0 5.6 0M1149.63 597.87a2.8 2.8 0 1 0 -5.6 0a2.8 2.8 0 1 0 5.6 0M1156.79 604.13a2.8 2.8 0 1 0 -5.6 0a2.8 2.8 0 1 0 5.6 0M1163.95 595.54a2.8 2.8 0 1 0 -5.6 0a2.8 2.8 0 1 0 5.6 0M1171.11 561.26a2.8 2.8 0 1 0 -5.6 0a2.8 2.8 0 1 0 5.6 0M1178.27 589.28a2.8 2.8 0 1 0 -5.6 0a2.8 2.8 0 1 0 5.6 0M1185.43 621.71a2.8 2.8 0 1 0 -5.6 0a2.8 2.8 0 1 0 5.6 0M1192.59 571.78a2.8 2.8 0 1 0 -5.6 0a2.8 2.8 0 1 0 5.6 0M1199.75 590.8a2.8 2.8 0 1 0 -5.6 0a2.8 2.8 0 1 0 5.6 0M1206.9 622.67a2.8 2.8 0 1 0 -5.6 0a2.8 2.8 0 1 0 5.6 0M1214.06 600.36a2.8 2.8 0 1 0 -5.6 0a2.8 2.8 0 1 0 5.6 0M1221.22 564.72a2.8 2.8 0 1 0 -5.6 0a2.8 2.8 0 1 0 5.6 0M1228.38 571.78a2.8 2.8 0 1 0 -5.6 0a2.8 2.8 0 1 0 5.6 0M1235.54 616.17a2.8 2.8 0 1 0 -5.6 0a2.8 2.8 0 1 0 5.6 0M1242.7 584.54a2.8 2.8 0 1 0 -5.6 0a2.8 2.8 0 1 0 5.6 0M1249.86 555.89a2.8 2.8 0 1 0 -5.6 0a2.8 2.8 0 1 0 5.6 0M1257.02 571.78a2.8 2.8 0 1 0 -5.6 0a2.8 2.8 0 1 0 5.6 0M1264.18 613.12a2.8 2.8 0 1 0 -5.6 0a2.8 2.8 0 1 0 5.6 0M1271.34 587.03a2.8 2.8 0 1 0 -5.6 0a2.8 2.8 0 1 0 5.6 0M1278.49 547.94a2.8 2.8 0 1 0 -5.6 0a2.8 2.8 0 1 0 5.6 0M1285.65 605.09a2.8 2.8 0 1 0 -5.6 0a2.8 2.8 0 1 0 5.6 0M1292.81 606.06a2.8 2.8 0 1 0 -5.6 0a2.8 2.8 0 1 0 5.6 0M1299.97 568.49a2.8 2.8 0 1 0 -5.6 0a2.8 2.8 0 1 0 5.6 0M1307.13 546.41a2.8 2.8 0 1 0 -5.6 0a2.8 2.8 0 1 0 5.6 0M1314.29 601.32a2.8 2.8 0 1 0 -5.6 0a2.8 2.8 0 1 0 5.6 0M1321.45 575.55a2.8 2.8 0 1 0 -5.6 0a2.8 2.8 0 1 0 5.6 0M1328.61 560.3a2.8 2.8 0 1 0 -5.6 0a2.8 2.8 0 1 0 5.6 0M1335.77 558.94a2.8 2.8 0 1 0 -5.6 0a2.8 2.8 0 1 0 5.6 0M1342.93 583.18a2.8 2.8 0 1 0 -5.6 0a2.8 2.8 0 1 0 5.6 0M1350.09 578.44a2.8 2.8 0 1 0 -5.6 0a2.8 2.8 0 1 0 5.6 0M1357.24 566a2.8 2.8 0 1 0 -5.6 0a2.8 2.8 0 1 0 5.6 0M1364.4 568.33a2.8 2.8 0 1 0 -5.6 0a2.8 2.8 0 1 0 5.6 0M1371.56 585.11a2.8 2.8 0 1 0 -5.6 0a2.8 2.8 0 1 0 5.6 0M1378.72 595.54a2.8 2.8 0 1 0 -5.6 0a2.8 2.8 0 1 0 5.6 0M1385.88 578.44a2.8 2.8 0 1 0 -5.6 0a2.8 2.8 0 1 0 5.6 0M1393.04 569.29a2.8 2.8 0 1 0 -5.6 0a2.8 2.8 0 1 0 5.6 0M1400.2 586.07a2.8 2.8 0 1 0 -5.6 0a2.8 2.8 0 1 0 5.6 0M1407.36 593.13a2.8 2.8 0 1 0 -5.6 0a2.8 2.8 0 1 0 5.6 0M1414.52 599.39a2.8 2.8 0 1 0 -5.6 0a2.8 2.8 0 1 0 5.6 0M1421.68 582.78a2.8 2.8 0 1 0 -5.6 0a2.8 2.8 0 1 0 5.6 0M1428.83 586.07a2.8 2.8 0 1 0 -5.6 0a2.8 2.8 0 1 0 5.6 0M1435.99 616.57a2.8 2.8 0 1 0 -5.6 0a2.8 2.8 0 1 0 5.6 0M1443.15 598.99a2.8 2.8 0 1 0 -5.6 0a2.8 2.8 0 1 0 5.6 0M1450.31 573.63a2.8 2.8 0 1 0 -5.6 0a2.8 2.8 0 1 0 5.6 0M1457.47 588.56a2.8 2.8 0 1 0 -5.6 0a2.8 2.8 0 1 0 5.6 0M1464.63 618.66a2.8 2.8 0 1 0 -5.6 0a2.8 2.8 0 1 0 5.6 0M1471.79 590.8a2.8 2.8 0 1 0 -5.6 0a2.8 2.8 0 1 0 5.6 0M1478.95 599.96a2.8 2.8 0 1 0 -5.6 0a2.8 2.8 0 1 0 5.6 0M1486.11 605.09a2.8 2.8 0 1 0 -5.6 0a2.8 2.8 0 1 0 5.6 0M1493.27 618.82a2.8 2.8 0 1 0 -5.6 0a2.8 2.8 0 1 0 5.6 0M1500.42 605.09a2.8 2.8 0 1 0 -5.6 0a2.8 2.8 0 1 0 5.6 0" stroke-width="1.8"/>
</g>
<text transform="translate(960.7,827.8) scale(0.94,1)" font-size="27.5" text-anchor="middle">0</text>
<text transform="translate(1068.08,827.8) scale(0.94,1)" font-size="27.5" text-anchor="middle">10</text>
<text transform="translate(1175.46,827.8) scale(0.94,1)" font-size="27.5" text-anchor="middle">20</text>
<text transform="translate(1282.84,827.8) scale(0.94,1)" font-size="27.5" text-anchor="middle">30</text>
<text transform="translate(1390.22,827.8) scale(0.94,1)" font-size="27.5" text-anchor="middle">40</text>
<text transform="translate(1497.6,827.8) scale(0.94,1)" font-size="27.5" text-anchor="middle">50</text>
<text transform="translate(904.6,809.4) scale(0.94,1)" font-size="27.5" text-anchor="end">0</text>
<text transform="translate(904.6,729.12) scale(0.94,1)" font-size="27.5" text-anchor="end">1000</text>
<text transform="translate(904.6,648.85) scale(0.94,1)" font-size="27.5" text-anchor="end">2000</text>
<text transform="translate(904.6,568.58) scale(0.94,1)" font-size="27.5" text-anchor="end">3000</text>
<text transform="translate(904.6,488.3) scale(0.94,1)" font-size="27.5" text-anchor="end">4000</text>
<text transform="translate(1202.2,853.1) scale(0.94,1)" font-size="27.5" text-anchor="middle">Delay (fs)</text>
<text transform="translate(840.5,640) rotate(-90) scale(1,0.94)" font-size="27.5" text-anchor="middle">Counts</text>
<text transform="translate(798.5,474.5) scale(0.9,1)" font-size="37.5" text-anchor="start" font-weight="bold">(d)</text>
<path fill="#ff0a0a" d="M172 502.7L189.4 536.2L177.3 527.6V636.2H166.7V527.6L154.6 536.2Z"/>
<path fill="#ff0a0a" d="M198.8 569.6L216 602.7L204.2 594.5V636.2H193.4V594.5L181.6 602.7Z"/>
<text transform="translate(141,499.8)" font-size="19.2" text-anchor="start" font-weight="bold" font-style="italic" fill="#111">pump</text>
<text transform="translate(191,557)" font-size="19.2" text-anchor="start" font-weight="bold" font-style="italic" fill="#111">probe</text>
<path fill="#ff0a0a" d="M943.3 507.9L960.9 541.5L948.8 532.4V647.6H937.8V532.4L925.7 541.5Z"/>
<path fill="#ff0a0a" d="M937.8 634.7H978L970.3 626L1002.8 642L970.3 658.2L978 647.6H937.8Z"/>
<text transform="translate(912.5,502.5)" font-size="19.5" text-anchor="start" font-weight="bold" font-style="italic" fill="#111">pump</text>
<text transform="translate(961.1,619)" font-size="19.5" text-anchor="start" font-weight="bold" font-style="italic" fill="#111">probe</text>
<rect x="1390.8" y="481.7" width="103.9" height="34.4" fill="#fff" stroke="#8a8a8a" stroke-width="1.3"/>
<g fill="none" stroke="#1414ff" stroke-width="1.6"><path d="M1395.2 499.3H1413.4"/><circle cx="1404.6" cy="499.3" r="2.8"/></g>
<text transform="translate(1415.6,509) scale(0.91,1)" font-size="28.6" text-anchor="start">2-6 eV</text>
</svg></body></html>
